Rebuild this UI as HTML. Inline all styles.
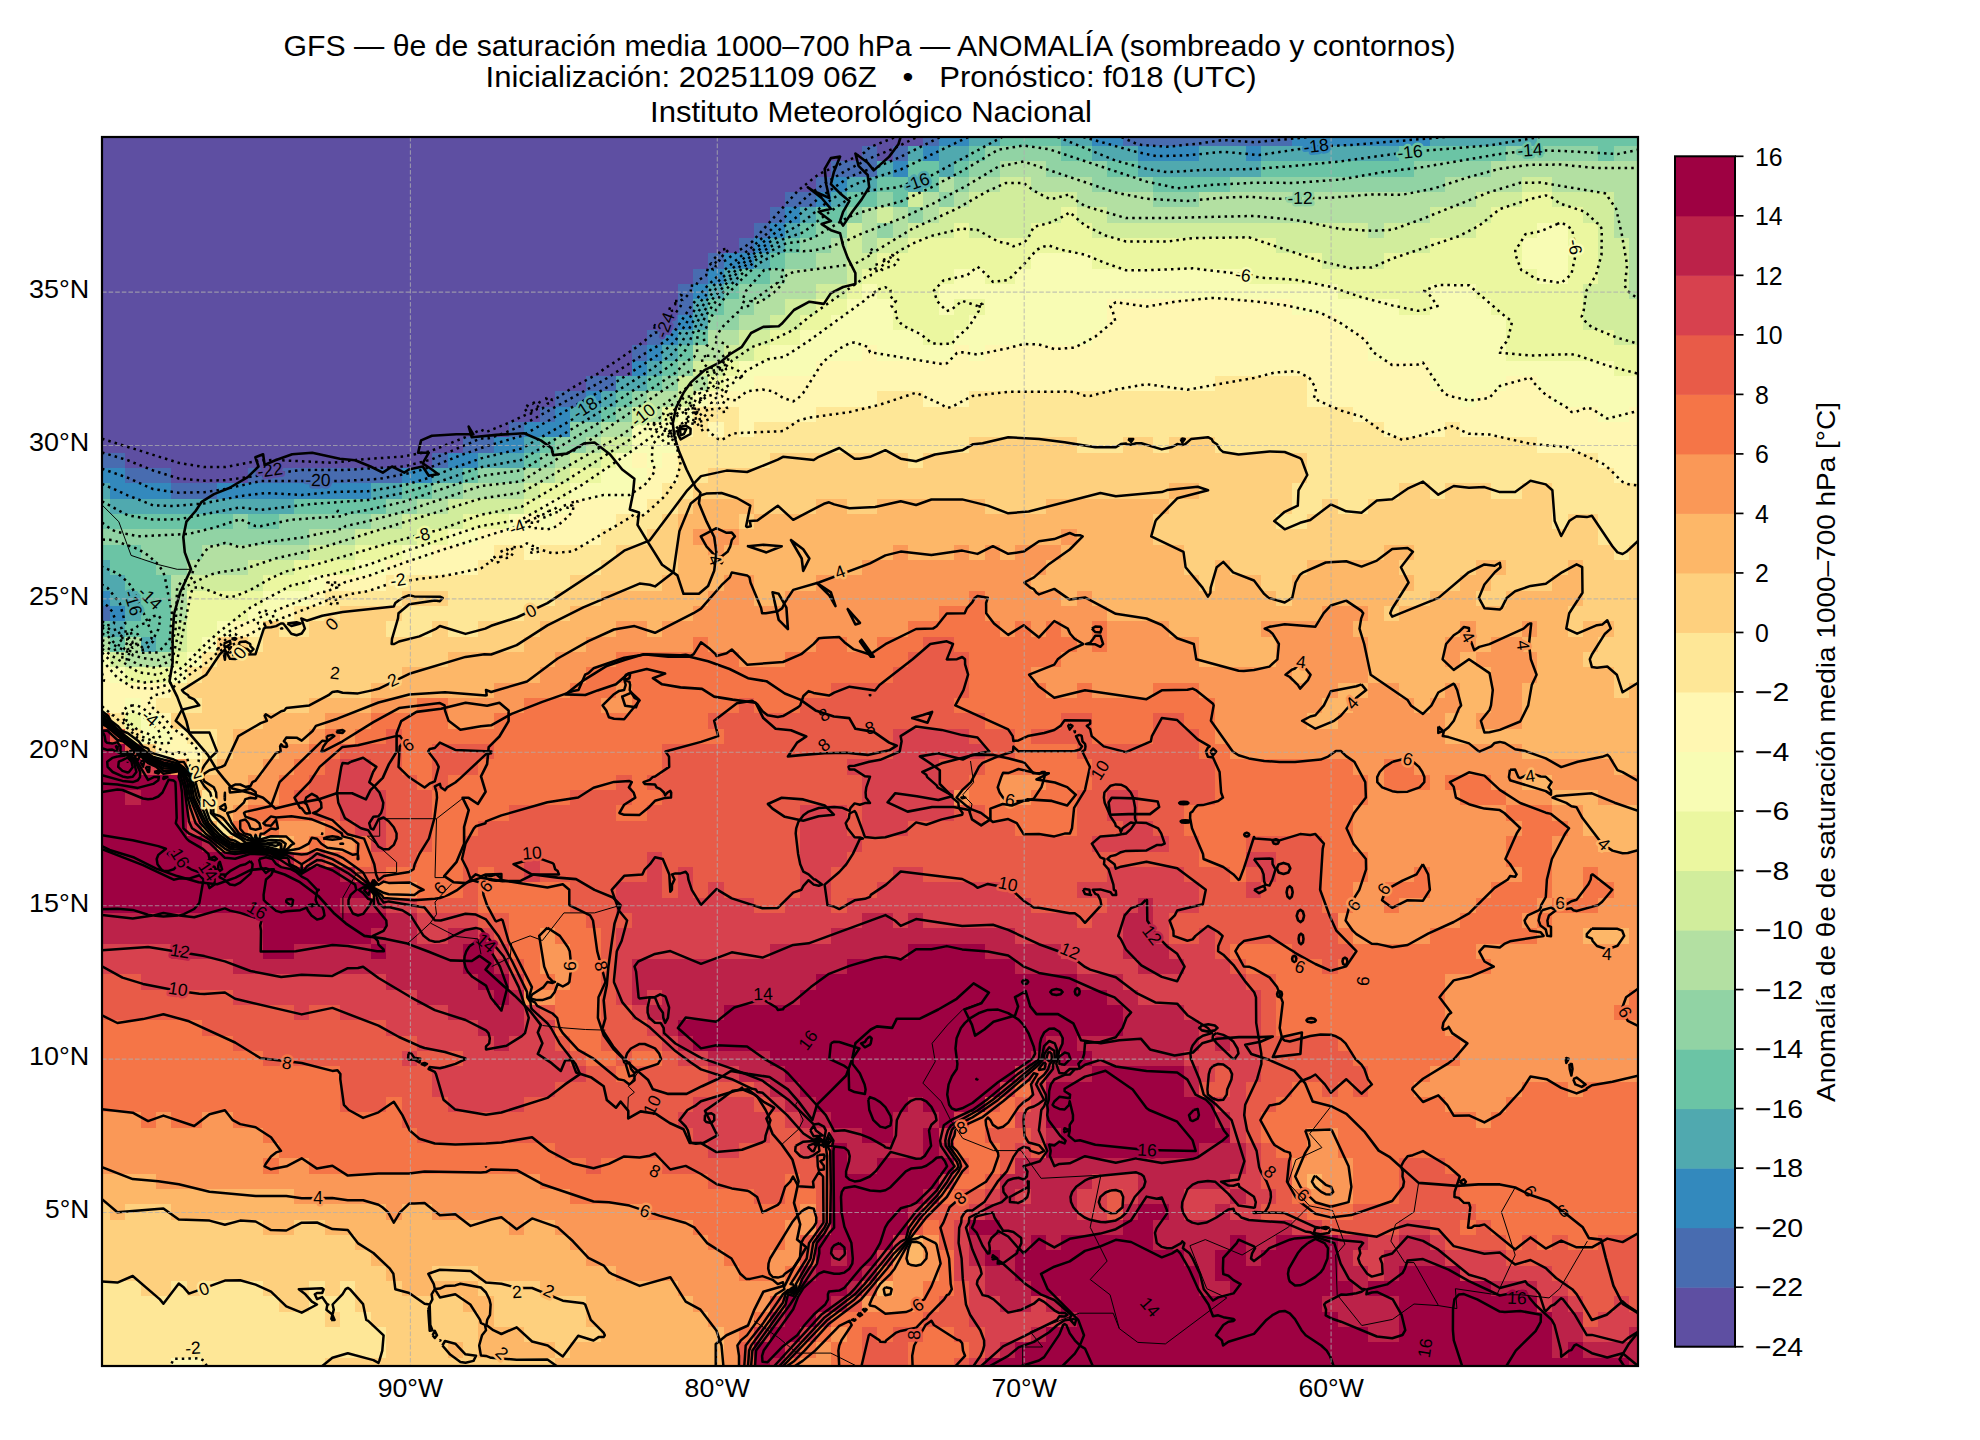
<!DOCTYPE html>
<html><head><meta charset="utf-8"><title>GFS</title>
<style>
html,body{margin:0;padding:0;background:#fff;}
body{width:1980px;height:1440px;overflow:hidden;font-family:"Liberation Sans",sans-serif;}
svg{display:block;}
text{font-family:"Liberation Sans",sans-serif;fill:#000;}
.p{stroke:#000;stroke-width:2.5;stroke-linejoin:round;}
.n{stroke:#000;stroke-width:2.5;stroke-linejoin:round;stroke-linecap:butt;stroke-dasharray:2.5 4.1;}
.grid line{stroke:#b0b0b0;stroke-width:1.1;stroke-dasharray:4.6 2;opacity:.72;}
.coast{fill:none;stroke:#000;stroke-width:2.6;stroke-linejoin:round;stroke-linecap:round;}
.bord{fill:none;stroke:#000;stroke-width:1;stroke-linejoin:round;}
.cl{font-size:17.5px;}
</style></head><body>
<svg width="1980" height="1440" viewBox="0 0 1980 1440">
<rect width="1980" height="1440" fill="#fff"/>
<rect x="102" y="137" width="1536" height="1229" fill="#5e4fa2"/>
<clipPath id="axclip"><rect x="102" y="137" width="1536" height="1229"/></clipPath>
<g shape-rendering="crispEdges">
<path fill="#486cb0" d="M923 137h16v9h-16zM1123 137h169v9h-169zM862 146h15v15h-15zM893 146h15v15h-15zM831 161h46v16h-46zM816 177h15v15h-15zM785 192h31v15h-31zM770 207h15v16h-15zM754 223h16v15h-16zM739 238h15v15h-15zM708 253h16v16h-16zM693 269h15v15h-15zM678 284h15v15h-15zM678 299h15v16h-15zM662 315h16v15h-16zM647 330h15v15h-15zM632 345h15v16h-15zM586 376h30v15h-30zM555 391h31v16h-31zM540 407h15v15h-15zM509 422h15v15h-15zM463 437h31v16h-31zM102 453h23v15h-23zM432 453h16v15h-16zM125 468h46v15h-46zM248 468h154v15h-154zM171 483h46v16h-46zM102 606h8v15h-8z"/>
<path fill="#3389bd" d="M939 137h30v9h-30zM1092 137h31v9h-31zM1292 137h138v9h-138zM923 146h16v15h-16zM1138 146h61v15h-61zM1246 146h15v15h-15zM893 161h15v16h-15zM831 177h16v15h-16zM816 192h15v15h-15zM785 207h15v16h-15zM770 223h15v15h-15zM754 238h16v15h-16zM724 253h30v16h-30zM708 269h16v15h-16zM693 284h15v15h-15zM678 315h15v15h-15zM662 330h16v15h-16zM647 345h15v16h-15zM632 361h15v15h-15zM586 391h15v16h-15zM555 407h15v15h-15zM524 422h46v15h-46zM494 437h30v16h-30zM448 453h30v15h-30zM102 468h23v15h-23zM402 468h30v15h-30zM110 483h61v16h-61zM217 483h154v16h-154zM102 591h8v15h-8zM110 606h15v15h-15z"/>
<path fill="#50a9af" d="M969 137h31v9h-31zM1061 137h31v9h-31zM1430 137h107v9h-107zM908 146h15v15h-15zM939 146h30v15h-30zM1092 146h46v15h-46zM1199 146h47v15h-47zM1261 146h138v15h-138zM877 161h16v16h-16zM939 161h15v16h-15zM1138 161h123v16h-123zM847 177h30v15h-30zM908 177h15v15h-15zM831 192h16v15h-16zM800 207h16v16h-16zM785 223h15v15h-15zM770 238h15v15h-15zM754 253h16v16h-16zM724 269h15v15h-15zM708 284h16v15h-16zM693 299h15v16h-15zM693 315h15v15h-15zM678 330h15v15h-15zM662 345h16v16h-16zM647 361h15v15h-15zM616 376h31v15h-31zM601 391h15v16h-15zM570 407h31v15h-31zM524 437h16v16h-16zM478 453h46v15h-46zM432 468h31v15h-31zM102 483h8v16h-8zM371 483h31v16h-31zM110 499h184v15h-184zM102 560h8v15h-8zM102 575h23v16h-23zM110 591h31v15h-31zM125 606h16v15h-16zM110 621h15v16h-15zM141 637h15v15h-15z"/>
<path fill="#6bc4a5" d="M1000 137h61v9h-61zM1537 137h101v9h-101zM969 146h16v15h-16zM1061 146h31v15h-31zM1399 146h107v15h-107zM1598 146h16v15h-16zM908 161h31v16h-31zM954 161h15v16h-15zM1107 161h31v16h-31zM1261 161h153v16h-153zM877 177h31v15h-31zM923 177h16v15h-16zM1153 177h77v15h-77zM847 192h30v15h-30zM893 192h15v15h-15zM816 207h31v16h-31zM800 223h16v15h-16zM785 238h15v15h-15zM770 253h15v16h-15zM739 269h31v15h-31zM724 284h15v15h-15zM708 299h16v16h-16zM693 330h15v15h-15zM678 345h15v16h-15zM662 361h16v15h-16zM647 376h15v15h-15zM616 391h16v16h-16zM601 407h15v15h-15zM540 437h15v16h-15zM524 453h16v15h-16zM463 468h15v15h-15zM402 483h30v16h-30zM102 499h8v15h-8zM294 499h92v15h-92zM102 514h131v15h-131zM248 514h31v15h-31zM102 545h39v15h-39zM110 560h46v15h-46zM125 575h46v16h-46zM141 591h30v15h-30zM141 606h30v15h-30zM102 621h8v16h-8zM125 621h46v16h-46zM110 637h15v15h-15zM156 637h15v15h-15z"/>
<path fill="#91d3a4" d="M985 146h76v15h-76zM1506 146h92v15h-92zM1614 146h24v15h-24zM969 161h31v16h-31zM1046 161h61v16h-61zM1414 161h77v16h-77zM954 177h15v15h-15zM1092 177h61v15h-61zM1230 177h215v15h-215zM877 192h16v15h-16zM939 192h15v15h-15zM1153 192h46v15h-46zM847 207h15v16h-15zM908 207h15v16h-15zM816 223h31v15h-31zM877 223h16v15h-16zM800 238h31v15h-31zM785 253h31v16h-31zM770 269h15v15h-15zM739 284h31v15h-31zM724 299h30v16h-30zM708 315h31v15h-31zM678 361h15v15h-15zM662 376h16v15h-16zM632 391h15v16h-15zM616 407h16v15h-16zM570 422h31v15h-31zM555 437h31v16h-31zM540 453h15v15h-15zM478 468h46v15h-46zM432 483h31v16h-31zM386 499h31v15h-31zM233 514h15v15h-15zM279 514h92v15h-92zM102 529h207v16h-207zM141 545h61v15h-61zM156 560h31v15h-31z"/>
<path fill="#b3e0a2" d="M1000 161h46v16h-46zM1491 161h147v16h-147zM939 177h15v15h-15zM969 177h31v15h-31zM1031 177h61v15h-61zM1445 177h77v15h-77zM1552 177h86v15h-86zM923 192h16v15h-16zM954 192h15v15h-15zM1077 192h76v15h-76zM1199 192h277v15h-277zM1614 192h24v15h-24zM862 207h15v16h-15zM893 207h15v16h-15zM923 207h16v16h-16zM1107 207h323v16h-323zM1614 207h24v16h-24zM862 223h15v15h-15zM893 223h15v15h-15zM1368 223h16v15h-16zM1614 223h24v15h-24zM831 238h16v15h-16zM862 238h15v15h-15zM1629 238h9v15h-9zM816 253h31v16h-31zM1629 253h9v16h-9zM785 269h62v15h-62zM1629 269h9v15h-9zM770 284h46v15h-46zM1629 284h9v15h-9zM754 299h31v16h-31zM739 315h31v15h-31zM708 330h31v15h-31zM693 345h31v16h-31zM693 376h15v15h-15zM647 391h31v16h-31zM647 407h15v15h-15zM601 422h31v15h-31zM586 437h15v16h-15zM555 453h15v15h-15zM524 468h31v15h-31zM463 483h61v16h-61zM417 499h31v15h-31zM371 514h31v15h-31zM309 529h46v16h-46zM202 545h107v15h-107zM187 560h61v15h-61zM171 575h16v16h-16zM171 591h16v15h-16zM171 606h16v15h-16zM102 637h8v15h-8zM125 637h16v15h-16zM125 652h46v15h-46z"/>
<path fill="#d1ed9c" d="M1000 177h31v15h-31zM1522 177h30v15h-30zM908 192h15v15h-15zM969 192h108v15h-108zM1476 192h46v15h-46zM1552 192h62v15h-62zM877 207h16v16h-16zM939 207h122v16h-122zM1077 207h30v16h-30zM1430 207h61v16h-61zM1583 207h31v16h-31zM847 223h15v15h-15zM908 223h46v15h-46zM969 223h62v15h-62zM1092 223h276v15h-276zM1384 223h92v15h-92zM1598 223h16v15h-16zM847 238h15v15h-15zM877 238h31v15h-31zM1276 238h154v15h-154zM1598 238h31v15h-31zM847 253h30v16h-30zM1322 253h62v16h-62zM1598 253h31v16h-31zM847 269h15v15h-15zM1598 269h31v15h-31zM816 284h31v15h-31zM1583 284h46v15h-46zM785 299h31v16h-31zM1583 299h55v16h-55zM770 315h30v15h-30zM1583 315h55v15h-55zM739 330h31v15h-31zM1614 330h24v15h-24zM724 345h30v16h-30zM693 361h31v15h-31zM678 376h15v15h-15zM678 391h15v16h-15zM632 407h15v15h-15zM601 437h31v16h-31zM570 453h31v15h-31zM555 468h15v15h-15zM524 483h16v16h-16zM448 499h76v15h-76zM402 514h61v15h-61zM355 529h62v16h-62zM309 545h46v15h-46zM248 560h46v15h-46zM187 575h76v16h-76zM171 621h16v16h-16zM171 637h16v15h-16zM110 652h15v15h-15z"/>
<path fill="#ebf7a0" d="M1522 192h30v15h-30zM1061 207h16v16h-16zM1491 207h92v16h-92zM954 223h15v15h-15zM1031 223h61v15h-61zM1476 223h61v15h-61zM1568 223h30v15h-30zM908 238h368v15h-368zM1430 238h92v15h-92zM1568 238h30v15h-30zM877 253h154v16h-154zM1092 253h230v16h-230zM1384 253h138v16h-138zM1568 253h30v16h-30zM862 269h92v15h-92zM985 269h30v15h-30zM1246 269h291v15h-291zM1568 269h30v15h-30zM847 284h15v15h-15zM877 284h62v15h-62zM1338 284h92v15h-92zM1476 284h107v15h-107zM816 299h31v16h-31zM893 299h46v16h-46zM954 299h31v16h-31zM1399 299h31v16h-31zM1491 299h92v16h-92zM800 315h31v15h-31zM893 315h76v15h-76zM1506 315h77v15h-77zM770 330h30v15h-30zM923 330h31v15h-31zM1506 330h108v15h-108zM754 345h16v16h-16zM1506 345h132v16h-132zM724 361h15v15h-15zM1614 361h24v15h-24zM708 376h16v15h-16zM662 407h16v15h-16zM601 453h15v15h-15zM570 468h31v15h-31zM540 483h30v16h-30zM524 499h16v15h-16zM463 514h46v15h-46zM417 529h31v16h-31zM355 545h47v15h-47zM294 560h61v15h-61zM263 575h46v16h-46zM187 591h76v15h-76zM187 606h61v15h-61zM187 621h30v16h-30zM187 637h15v15h-15zM171 652h16v15h-16zM125 667h46v16h-46zM125 713h16v16h-16z"/>
<path fill="#f8fcb4" d="M1537 223h31v15h-31zM1522 238h46v15h-46zM1031 253h61v16h-61zM1522 253h46v16h-46zM954 269h31v15h-31zM1015 269h231v15h-231zM1537 269h31v15h-31zM862 284h15v15h-15zM939 284h399v15h-399zM1430 284h46v15h-46zM847 299h46v16h-46zM939 299h15v16h-15zM985 299h122v16h-122zM1292 299h107v16h-107zM1430 299h61v16h-61zM831 315h62v15h-62zM969 315h138v15h-138zM1338 315h168v15h-168zM800 330h123v15h-123zM954 330h138v15h-138zM1368 330h138v15h-138zM770 345h92v16h-92zM877 345h77v16h-77zM969 345h16v16h-16zM1368 345h138v16h-138zM739 361h77v15h-77zM1430 361h184v15h-184zM724 376h30v15h-30zM1430 376h76v15h-76zM1537 376h101v15h-101zM693 391h15v16h-15zM1460 391h16v16h-16zM1552 391h86v16h-86zM678 407h15v15h-15zM1598 407h31v15h-31zM632 422h46v15h-46zM632 437h46v16h-46zM616 453h16v15h-16zM647 453h15v15h-15zM601 468h46v15h-46zM570 483h62v16h-62zM540 499h30v15h-30zM509 514h15v15h-15zM540 514h15v15h-15zM448 529h30v16h-30zM402 545h30v15h-30zM355 560h31v15h-31zM309 575h16v16h-16zM263 591h46v15h-46zM248 606h31v15h-31zM217 621h16v16h-16zM202 637h15v15h-15zM102 652h8v15h-8zM187 652h15v15h-15zM110 667h15v16h-15zM171 667h16v16h-16zM125 698h16v15h-16zM141 713h15v16h-15zM141 729h30v15h-30z"/>
<path fill="#fff7b2" d="M1107 299h185v16h-185zM1107 315h231v15h-231zM1092 330h276v15h-276zM862 345h15v16h-15zM954 345h15v16h-15zM985 345h383v16h-383zM816 361h614v15h-614zM754 376h461v15h-461zM1307 376h123v15h-123zM1506 376h31v15h-31zM708 391h169v16h-169zM923 391h46v16h-46zM1307 391h153v16h-153zM1476 391h76v16h-76zM739 407h77v15h-77zM1353 407h245v15h-245zM1629 407h9v15h-9zM678 422h15v15h-15zM708 422h16v15h-16zM739 422h15v15h-15zM1384 422h61v15h-61zM1460 422h178v15h-178zM1537 437h101v16h-101zM632 453h15v15h-15zM662 453h16v15h-16zM1598 453h40v15h-40zM647 468h31v15h-31zM1614 468h24v15h-24zM632 483h30v16h-30zM570 499h77v15h-77zM524 514h16v15h-16zM555 514h61v15h-61zM478 529h123v16h-123zM432 545h62v15h-62zM524 545h16v15h-16zM386 560h92v15h-92zM325 575h61v16h-61zM309 591h16v15h-16zM279 606h15v15h-15zM233 621h30v16h-30zM102 667h8v16h-8zM102 683h69v15h-69zM102 698h23v15h-23zM141 698h15v15h-15zM156 713h15v16h-15zM171 729h16v15h-16zM156 744h46v15h-46zM171 1358h31v8h-31z"/>
<path fill="#fee797" d="M1215 376h92v15h-92zM877 391h46v16h-46zM969 391h338v16h-338zM693 407h46v15h-46zM816 407h537v15h-537zM693 422h15v15h-15zM724 422h15v15h-15zM754 422h630v15h-630zM1445 422h15v15h-15zM678 437h291v16h-291zM1077 437h46v16h-46zM1153 437h16v16h-16zM1215 437h322v16h-322zM678 453h92v15h-92zM908 453h15v15h-15zM1307 453h291v15h-291zM678 468h30v15h-30zM1307 468h307v15h-307zM662 483h31v16h-31zM1292 483h107v16h-107zM1430 483h15v16h-15zM1491 483h31v16h-31zM1552 483h86v16h-86zM647 499h31v15h-31zM1292 499h30v15h-30zM1338 499h30v15h-30zM1552 499h86v15h-86zM616 514h46v15h-46zM1276 514h31v15h-31zM1552 514h16v15h-16zM1598 514h40v15h-40zM601 529h46v16h-46zM1598 529h40v16h-40zM494 545h30v15h-30zM540 545h76v15h-76zM1614 545h15v15h-15zM478 560h123v15h-123zM386 575h184v16h-184zM325 591h77v15h-77zM448 591h107v15h-107zM294 606h46v15h-46zM402 606h122v15h-122zM279 621h30v16h-30zM386 621h46v16h-46zM448 621h30v16h-30zM248 637h15v15h-15zM202 652h15v15h-15zM187 667h15v16h-15zM171 683h16v15h-16zM156 698h46v15h-46zM110 713h15v16h-15zM125 729h16v15h-16zM187 729h30v15h-30zM202 744h15v15h-15zM187 759h15v16h-15zM202 790h15v15h-15zM202 805h15v16h-15zM217 821h16v15h-16zM248 836h31v16h-31zM102 1281h39v15h-39zM171 1281h16v15h-16zM202 1281h61v15h-61zM309 1281h16v15h-16zM340 1281h15v15h-15zM102 1296h177v16h-177zM309 1296h46v16h-46zM102 1312h223v15h-223zM340 1312h31v15h-31zM102 1327h284v15h-284zM102 1342h284v16h-284zM102 1358h69v8h-69zM202 1358h123v8h-123z"/>
<path fill="#fed07e" d="M969 437h108v16h-108zM1123 437h30v16h-30zM1169 437h46v16h-46zM770 453h138v15h-138zM923 453h384v15h-384zM708 468h599v15h-599zM693 483h476v16h-476zM1199 483h93v16h-93zM1399 483h31v16h-31zM1445 483h46v16h-46zM1522 483h30v16h-30zM678 499h15v15h-15zM754 499h62v15h-62zM847 499h30v15h-30zM985 499h61v15h-61zM1169 499h123v15h-123zM1322 499h16v15h-16zM1368 499h184v15h-184zM662 514h16v15h-16zM739 514h15v15h-15zM1153 514h123v15h-123zM1307 514h245v15h-245zM1568 514h30v15h-30zM647 529h31v16h-31zM1153 529h445v16h-445zM616 545h62v15h-62zM1184 545h200v15h-200zM1414 545h200v15h-200zM1629 545h9v15h-9zM601 560h77v15h-77zM1184 560h31v15h-31zM1230 560h77v15h-77zM1399 560h77v15h-77zM1506 560h62v15h-62zM1583 560h55v15h-55zM570 575h92v16h-92zM1199 575h16v16h-16zM1261 575h31v16h-31zM1414 575h46v16h-46zM1491 575h61v16h-61zM1583 575h55v16h-55zM402 591h46v15h-46zM555 591h46v15h-46zM1276 591h16v15h-16zM1399 591h31v15h-31zM1476 591h30v15h-30zM1583 591h55v15h-55zM340 606h62v15h-62zM524 606h46v15h-46zM1384 606h15v15h-15zM1568 606h70v15h-70zM263 621h16v16h-16zM309 621h77v16h-77zM432 621h16v16h-16zM478 621h62v16h-62zM1568 621h15v16h-15zM1614 621h24v16h-24zM217 637h31v15h-31zM263 637h261v15h-261zM1598 637h40v15h-40zM217 652h231v15h-231zM1583 652h55v15h-55zM202 667h200v16h-200zM1614 667h24v16h-24zM187 683h184v15h-184zM1614 683h15v15h-15zM202 698h107v15h-107zM171 713h92v16h-92zM217 729h16v15h-16zM141 744h15v15h-15zM217 744h16v15h-16zM202 759h15v16h-15zM187 775h15v15h-15zM233 836h15v16h-15zM102 1204h8v16h-8zM125 1204h46v16h-46zM102 1220h161v15h-161zM294 1220h31v15h-31zM102 1235h253v15h-253zM102 1250h269v16h-269zM102 1266h284v15h-284zM432 1266h46v15h-46zM141 1281h30v15h-30zM187 1281h15v15h-15zM263 1281h46v15h-46zM325 1281h15v15h-15zM355 1281h47v15h-47zM478 1281h62v15h-62zM279 1296h30v16h-30zM355 1296h108v16h-108zM494 1296h92v16h-92zM325 1312h15v15h-15zM371 1312h107v15h-107zM494 1312h92v15h-92zM386 1327h92v15h-92zM524 1327h77v15h-77zM386 1342h62v16h-62zM463 1342h15v16h-15zM555 1342h15v16h-15zM325 1358h230v8h-230z"/>
<path fill="#fdb768" d="M1169 483h30v16h-30zM693 499h61v15h-61zM816 499h31v15h-31zM877 499h108v15h-108zM1046 499h123v15h-123zM678 514h61v15h-61zM754 514h399v15h-399zM678 529h15v16h-15zM739 529h322v16h-322zM1077 529h76v16h-76zM678 545h30v15h-30zM724 545h169v15h-169zM908 545h46v15h-46zM969 545h16v15h-16zM1000 545h15v15h-15zM1061 545h123v15h-123zM1384 545h30v15h-30zM678 560h184v15h-184zM1046 560h138v15h-138zM1215 560h15v15h-15zM1307 560h92v15h-92zM1476 560h30v15h-30zM1568 560h15v15h-15zM662 575h62v16h-62zM754 575h62v16h-62zM1031 575h168v16h-168zM1215 575h46v16h-46zM1292 575h122v16h-122zM1460 575h31v16h-31zM1552 575h31v16h-31zM601 591h107v15h-107zM754 591h31v15h-31zM1061 591h16v15h-16zM1092 591h184v15h-184zM1292 591h107v15h-107zM1430 591h46v15h-46zM1506 591h77v15h-77zM570 606h123v15h-123zM1107 606h215v15h-215zM1368 606h16v15h-16zM1399 606h169v15h-169zM540 621h76v16h-76zM647 621h15v16h-15zM1169 621h92v16h-92zM1353 621h107v16h-107zM1476 621h46v16h-46zM1537 621h31v16h-31zM1583 621h31v16h-31zM524 637h62v15h-62zM1199 637h77v15h-77zM1368 637h77v15h-77zM1476 637h15v15h-15zM1522 637h76v15h-76zM448 652h107v15h-107zM1199 652h77v15h-77zM1368 652h77v15h-77zM1460 652h16v15h-16zM1537 652h46v15h-46zM402 667h138v16h-138zM1292 667h15v16h-15zM1368 667h123v16h-123zM1537 667h77v16h-77zM371 683h123v15h-123zM1338 683h30v15h-30zM1399 683h46v15h-46zM1460 683h31v15h-31zM1522 683h92v15h-92zM1629 683h9v15h-9zM309 698h62v15h-62zM1322 698h31v15h-31zM1414 698h16v15h-16zM1460 698h31v15h-31zM1522 698h116v15h-116zM263 713h62v16h-62zM1307 713h31v16h-31zM1445 713h31v16h-31zM1522 713h116v16h-116zM233 729h76v15h-76zM1445 729h193v15h-193zM233 744h46v15h-46zM1522 744h116v15h-116zM217 759h46v16h-46zM1614 759h24v16h-24zM202 775h46v15h-46zM1522 775h30v15h-30zM187 790h15v15h-15zM217 790h31v15h-31zM1552 790h46v15h-46zM217 805h16v16h-16zM1583 805h55v16h-55zM202 821h15v15h-15zM1583 821h55v15h-55zM279 836h15v16h-15zM1598 836h40v16h-40zM1583 928h46v16h-46zM102 1174h54v15h-54zM1307 1174h15v15h-15zM102 1189h192v15h-192zM110 1204h15v16h-15zM171 1204h215v16h-215zM402 1204h30v16h-30zM263 1220h31v15h-31zM325 1220h184v15h-184zM524 1220h31v15h-31zM355 1235h215v15h-215zM908 1235h15v15h-15zM371 1250h215v16h-215zM908 1250h15v16h-15zM386 1266h46v15h-46zM478 1266h138v15h-138zM402 1281h76v15h-76zM540 1281h138v15h-138zM877 1281h16v15h-16zM463 1296h31v16h-31zM586 1296h107v16h-107zM478 1312h16v15h-16zM586 1312h122v15h-122zM478 1327h46v15h-46zM601 1327h123v15h-123zM448 1342h15v16h-15zM478 1342h77v16h-77zM570 1342h154v16h-154zM555 1358h169v8h-169z"/>
<path fill="#fa9857" d="M693 529h46v16h-46zM1061 529h16v16h-16zM708 545h16v15h-16zM893 545h15v15h-15zM954 545h15v15h-15zM985 545h15v15h-15zM1015 545h46v15h-46zM862 560h184v15h-184zM724 575h30v16h-30zM816 575h215v16h-215zM708 591h46v15h-46zM785 591h184v15h-184zM985 591h76v15h-76zM1077 591h15v15h-15zM693 606h246v15h-246zM985 606h122v15h-122zM1322 606h46v15h-46zM616 621h31v16h-31zM662 621h246v16h-246zM1000 621h15v16h-15zM1031 621h15v16h-15zM1061 621h31v16h-31zM1107 621h62v16h-62zM1261 621h92v16h-92zM1460 621h16v16h-16zM1522 621h15v16h-15zM586 637h107v15h-107zM708 637h108v15h-108zM847 637h30v15h-30zM1077 637h15v15h-15zM1107 637h92v15h-92zM1276 637h92v15h-92zM1445 637h31v15h-31zM1491 637h31v15h-31zM555 652h61v15h-61zM739 652h46v15h-46zM1061 652h138v15h-138zM1276 652h92v15h-92zM1445 652h15v15h-15zM1476 652h61v15h-61zM540 667h46v16h-46zM1031 667h261v16h-261zM1307 667h61v16h-61zM1491 667h46v16h-46zM494 683h76v15h-76zM616 683h16v15h-16zM1046 683h31v15h-31zM1092 683h61v15h-61zM1199 683h139v15h-139zM1368 683h31v15h-31zM1445 683h15v15h-15zM1491 683h31v15h-31zM371 698h46v15h-46zM448 698h76v15h-76zM601 698h31v15h-31zM1215 698h107v15h-107zM1353 698h61v15h-61zM1430 698h30v15h-30zM1491 698h31v15h-31zM325 713h46v16h-46zM448 713h46v16h-46zM1215 713h92v16h-92zM1338 713h107v16h-107zM1476 713h46v16h-46zM309 729h16v15h-16zM340 729h15v15h-15zM1215 729h230v15h-230zM279 744h30v15h-30zM1230 744h292v15h-292zM171 759h16v16h-16zM263 759h31v16h-31zM1353 759h31v16h-31zM1414 759h200v16h-200zM248 775h31v15h-31zM1000 775h46v15h-46zM1368 775h16v15h-16zM1430 775h15v15h-15zM1491 775h31v15h-31zM1552 775h86v15h-86zM248 790h31v15h-31zM954 790h15v15h-15zM1000 790h31v15h-31zM1368 790h92v15h-92zM1506 790h46v15h-46zM1598 790h40v15h-40zM233 805h15v16h-15zM1353 805h153v16h-153zM1552 805h31v16h-31zM248 821h15v15h-15zM279 821h46v15h-46zM1353 821h169v15h-169zM1568 821h15v15h-15zM217 836h16v16h-16zM294 836h15v16h-15zM325 836h30v16h-30zM1353 836h153v16h-153zM1552 836h46v16h-46zM1368 852h138v15h-138zM1552 852h86v15h-86zM1368 867h46v15h-46zM1430 867h92v15h-92zM1552 867h31v15h-31zM1598 867h40v15h-40zM371 882h46v16h-46zM1353 882h31v16h-31zM1430 882h61v16h-61zM1552 882h31v16h-31zM1614 882h24v16h-24zM1353 898h31v15h-31zM1399 898h77v15h-77zM1537 898h15v15h-15zM1598 898h40v15h-40zM1338 913h122v15h-122zM1522 913h15v15h-15zM1552 913h86v15h-86zM540 928h15v16h-15zM1353 928h77v16h-77zM1537 928h46v16h-46zM1629 928h9v16h-9zM540 944h30v15h-30zM1476 944h162v15h-162zM540 959h30v15h-30zM1491 959h147v15h-147zM555 974h15v16h-15zM1445 974h193v16h-193zM524 990h31v15h-31zM1445 990h184v15h-184zM1445 1005h169v15h-169zM1445 1020h193v16h-193zM1460 1036h178v15h-178zM1460 1051h178v15h-178zM1430 1066h208v16h-208zM1414 1082h108v15h-108zM1568 1082h15v15h-15zM1445 1097h61v15h-61zM102 1112h39v16h-39zM156 1112h15v16h-15zM202 1112h31v16h-31zM1476 1112h15v16h-15zM102 1128h161v15h-161zM1307 1128h31v15h-31zM102 1143h177v15h-177zM1307 1143h31v15h-31zM102 1158h161v16h-161zM279 1158h30v16h-30zM1292 1158h61v16h-61zM156 1174h384v15h-384zM1292 1174h15v15h-15zM1322 1174h31v15h-31zM294 1189h276v15h-276zM1307 1189h46v15h-46zM386 1204h16v16h-16zM432 1204h215v16h-215zM800 1204h16v16h-16zM509 1220h15v15h-15zM555 1220h138v15h-138zM785 1220h31v15h-31zM570 1235h138v15h-138zM785 1235h15v15h-15zM923 1235h16v15h-16zM586 1250h138v16h-138zM770 1250h30v16h-30zM893 1250h15v16h-15zM923 1250h16v16h-16zM616 1266h123v15h-123zM770 1266h15v15h-15zM893 1266h46v15h-46zM678 1281h122v15h-122zM893 1281h30v15h-30zM693 1296h77v16h-77zM862 1296h61v16h-61zM708 1312h46v15h-46zM724 1327h15v15h-15zM831 1327h16v15h-16zM724 1342h15v16h-15zM816 1342h15v16h-15zM724 1358h15v8h-15zM800 1358h31v8h-31z"/>
<path fill="#f57547" d="M969 591h16v15h-16zM939 606h46v15h-46zM908 621h92v16h-92zM1015 621h16v16h-16zM1046 621h15v16h-15zM1092 621h15v16h-15zM693 637h15v15h-15zM816 637h31v15h-31zM877 637h46v15h-46zM954 637h123v15h-123zM1092 637h15v15h-15zM616 652h123v15h-123zM785 652h123v15h-123zM969 652h92v15h-92zM586 667h307v16h-307zM969 667h62v16h-62zM570 683h46v15h-46zM632 683h199v15h-199zM969 683h77v15h-77zM1077 683h15v15h-15zM1153 683h46v15h-46zM417 698h31v15h-31zM524 698h77v15h-77zM632 698h107v15h-107zM754 698h46v15h-46zM954 698h261v15h-261zM102 713h8v16h-8zM371 713h77v16h-77zM494 713h214v16h-214zM985 713h76v16h-76zM1092 713h61v16h-61zM1184 713h31v16h-31zM325 729h15v15h-15zM355 729h31v15h-31zM402 729h322v15h-322zM1015 729h16v15h-16zM1092 729h61v15h-61zM1199 729h16v15h-16zM309 744h31v15h-31zM402 744h30v15h-30zM494 744h168v15h-168zM1015 744h62v15h-62zM1199 744h31v15h-31zM294 759h31v16h-31zM402 759h30v16h-30zM478 759h184v16h-184zM985 759h107v16h-107zM1215 759h138v16h-138zM1384 759h30v16h-30zM279 775h30v15h-30zM417 775h15v15h-15zM448 775h168v15h-168zM632 775h15v15h-15zM969 775h31v15h-31zM1046 775h46v15h-46zM1215 775h153v15h-153zM1384 775h46v15h-46zM1445 775h46v15h-46zM279 790h15v15h-15zM432 790h138v15h-138zM632 790h30v15h-30zM969 790h31v15h-31zM1031 790h46v15h-46zM1215 790h153v15h-153zM1460 790h46v15h-46zM248 805h61v16h-61zM432 805h77v16h-77zM616 805h31v16h-31zM985 805h92v16h-92zM1184 805h169v16h-169zM1506 805h46v16h-46zM233 821h15v15h-15zM263 821h16v15h-16zM325 821h15v15h-15zM432 821h46v15h-46zM1015 821h62v15h-62zM1184 821h169v15h-169zM1522 821h46v15h-46zM309 836h16v16h-16zM355 836h16v16h-16zM432 836h31v16h-31zM1199 836h47v16h-47zM1322 836h31v16h-31zM1506 836h46v16h-46zM340 852h31v15h-31zM417 852h46v15h-46zM1199 852h47v15h-47zM1322 852h46v15h-46zM1506 852h46v15h-46zM386 867h77v15h-77zM478 867h16v15h-16zM1230 867h16v15h-16zM1322 867h46v15h-46zM1414 867h16v15h-16zM1522 867h30v15h-30zM1583 867h15v15h-15zM417 882h46v16h-46zM478 882h92v16h-92zM1322 882h31v16h-31zM1384 882h46v16h-46zM1491 882h61v16h-61zM1583 882h31v16h-31zM478 898h92v15h-92zM1322 898h31v15h-31zM1384 898h15v15h-15zM1476 898h61v15h-61zM1552 898h46v15h-46zM509 913h77v15h-77zM1460 913h62v15h-62zM1537 913h15v15h-15zM509 928h31v16h-31zM555 928h46v16h-46zM1338 928h15v16h-15zM1430 928h107v16h-107zM509 944h31v15h-31zM570 944h31v15h-31zM1230 944h62v15h-62zM1353 944h123v15h-123zM524 959h16v15h-16zM570 959h31v15h-31zM1246 959h76v15h-76zM1338 959h153v15h-153zM524 974h31v16h-31zM570 974h31v16h-31zM1276 974h169v16h-169zM555 990h46v15h-46zM1276 990h169v15h-169zM1629 990h9v15h-9zM555 1005h46v15h-46zM1276 1005h169v15h-169zM1614 1005h24v15h-24zM102 1020h100v16h-100zM555 1020h46v16h-46zM1276 1020h169v16h-169zM102 1036h131v15h-131zM570 1036h31v15h-31zM1338 1036h122v15h-122zM102 1051h161v15h-161zM586 1051h30v15h-30zM632 1051h30v15h-30zM1353 1051h107v15h-107zM102 1066h238v16h-238zM616 1066h16v16h-16zM1368 1066h62v16h-62zM102 1082h238v15h-238zM1015 1082h16v15h-16zM1292 1082h30v15h-30zM1338 1082h15v15h-15zM1368 1082h46v15h-46zM1522 1082h46v15h-46zM1583 1082h55v15h-55zM102 1097h238v15h-238zM386 1097h16v15h-16zM1000 1097h15v15h-15zM1276 1097h169v15h-169zM1506 1097h132v15h-132zM141 1112h15v16h-15zM171 1112h31v16h-31zM233 1112h169v16h-169zM969 1112h46v16h-46zM1261 1112h215v16h-215zM1491 1112h147v16h-147zM263 1128h154v15h-154zM954 1128h31v15h-31zM1261 1128h46v15h-46zM1338 1128h300v15h-300zM279 1143h276v15h-276zM954 1143h46v15h-46zM1276 1143h31v15h-31zM1338 1143h300v15h-300zM263 1158h16v16h-16zM309 1158h277v16h-277zM601 1158h61v16h-61zM969 1158h31v16h-31zM1353 1158h46v16h-46zM1445 1158h193v16h-193zM540 1174h168v15h-168zM785 1174h15v15h-15zM954 1174h31v15h-31zM1353 1174h46v15h-46zM1460 1174h178v15h-178zM570 1189h184v15h-184zM785 1189h31v15h-31zM939 1189h15v15h-15zM1292 1189h15v15h-15zM1353 1189h46v15h-46zM1460 1189h178v15h-178zM647 1204h153v16h-153zM1307 1204h46v16h-46zM1476 1204h162v16h-162zM693 1220h92v15h-92zM923 1220h16v15h-16zM1460 1220h16v15h-16zM1491 1220h147v15h-147zM708 1235h77v15h-77zM1506 1235h16v15h-16zM1537 1235h15v15h-15zM1568 1235h30v15h-30zM724 1250h46v16h-46zM939 1250h15v16h-15zM739 1266h31v15h-31zM785 1266h15v15h-15zM877 1266h16v15h-16zM939 1266h15v15h-15zM923 1281h31v15h-31zM923 1296h16v16h-16zM754 1312h16v15h-16zM831 1312h92v15h-92zM739 1327h15v15h-15zM816 1327h15v15h-15zM847 1327h15v15h-15zM877 1327h16v15h-16zM923 1327h31v15h-31zM800 1342h16v16h-16zM831 1342h31v16h-31zM908 1342h61v16h-61zM785 1358h15v8h-15zM831 1358h31v8h-31zM908 1358h46v8h-46z"/>
<path fill="#e85b48" d="M923 637h31v15h-31zM908 652h61v15h-61zM893 667h76v16h-76zM831 683h138v15h-138zM739 698h15v15h-15zM800 698h154v15h-154zM708 713h277v16h-277zM1061 713h31v16h-31zM1153 713h31v16h-31zM110 729h15v15h-15zM386 729h16v15h-16zM724 729h169v15h-169zM969 729h46v15h-46zM1031 729h61v15h-61zM1153 729h46v15h-46zM125 744h16v15h-16zM340 744h62v15h-62zM432 744h62v15h-62zM662 744h231v15h-231zM985 744h30v15h-30zM1077 744h122v15h-122zM156 759h15v16h-15zM325 759h15v16h-15zM371 759h31v16h-31zM432 759h46v16h-46zM662 759h185v16h-185zM939 759h46v16h-46zM1092 759h123v16h-123zM309 775h31v15h-31zM371 775h46v15h-46zM432 775h16v15h-16zM616 775h16v15h-16zM647 775h215v15h-215zM939 775h30v15h-30zM1092 775h123v15h-123zM294 790h46v15h-46zM386 790h46v15h-46zM570 790h62v15h-62zM662 790h200v15h-200zM1077 790h30v15h-30zM1138 790h77v15h-77zM187 805h15v16h-15zM309 805h31v16h-31zM386 805h46v16h-46zM509 805h107v16h-107zM647 805h153v16h-153zM847 805h15v16h-15zM954 805h31v16h-31zM1077 805h30v16h-30zM1138 805h46v16h-46zM340 821h15v15h-15zM386 821h46v15h-46zM478 821h322v15h-322zM847 821h15v15h-15zM908 821h107v15h-107zM1077 821h46v15h-46zM1153 821h31v15h-31zM386 836h46v16h-46zM463 836h337v16h-337zM862 836h230v16h-230zM1169 836h30v16h-30zM1246 836h76v16h-76zM294 852h15v15h-15zM325 852h15v15h-15zM371 852h46v15h-46zM463 852h61v15h-61zM540 852h107v15h-107zM662 852h138v15h-138zM847 852h352v15h-352zM1276 852h46v15h-46zM355 867h31v15h-31zM463 867h15v15h-15zM494 867h30v15h-30zM540 867h107v15h-107zM662 867h16v15h-16zM693 867h107v15h-107zM831 867h62v15h-62zM923 867h184v15h-184zM1184 867h46v15h-46zM1246 867h15v15h-15zM1276 867h46v15h-46zM463 882h15v16h-15zM570 882h46v16h-46zM662 882h16v16h-16zM693 882h15v16h-15zM724 882h76v16h-76zM831 882h46v16h-46zM1015 882h62v16h-62zM1199 882h47v16h-47zM1261 882h61v16h-61zM417 898h61v15h-61zM570 898h46v15h-46zM754 898h31v15h-31zM831 898h16v15h-16zM1031 898h76v15h-76zM1199 898h123v15h-123zM478 913h31v15h-31zM586 913h46v15h-46zM1077 913h15v15h-15zM1169 913h169v15h-169zM494 928h15v16h-15zM601 928h15v16h-15zM1169 928h30v16h-30zM1215 928h123v16h-123zM601 944h15v15h-15zM1215 944h15v15h-15zM1292 944h61v15h-61zM509 959h15v15h-15zM601 959h15v15h-15zM1230 959h16v15h-16zM1322 959h16v15h-16zM102 974h39v16h-39zM601 974h15v16h-15zM1246 974h30v16h-30zM102 990h131v15h-131zM601 990h15v15h-15zM1261 990h15v15h-15zM102 1005h192v15h-192zM309 1005h31v15h-31zM540 1005h15v15h-15zM601 1005h31v15h-31zM1261 1005h15v15h-15zM202 1020h184v16h-184zM601 1020h46v16h-46zM1261 1020h15v16h-15zM233 1036h184v15h-184zM555 1036h15v15h-15zM601 1036h61v15h-61zM1261 1036h77v15h-77zM263 1051h139v15h-139zM417 1051h46v15h-46zM570 1051h16v15h-16zM616 1051h16v15h-16zM662 1051h16v15h-16zM1261 1051h92v15h-92zM340 1066h92v16h-92zM586 1066h30v16h-30zM632 1066h76v16h-76zM1031 1066h15v16h-15zM1215 1066h15v16h-15zM1261 1066h107v16h-107zM340 1082h92v15h-92zM555 1082h199v15h-199zM1199 1082h31v15h-31zM1246 1082h46v15h-46zM1322 1082h16v15h-16zM1353 1082h15v15h-15zM340 1097h46v15h-46zM402 1097h46v15h-46zM524 1097h169v15h-169zM754 1097h16v15h-16zM985 1097h15v15h-15zM1015 1097h16v15h-16zM1246 1097h30v15h-30zM402 1112h276v16h-276zM770 1112h15v16h-15zM1246 1112h15v16h-15zM417 1128h276v15h-276zM770 1128h30v15h-30zM985 1128h46v15h-46zM1246 1128h15v15h-15zM555 1143h153v15h-153zM739 1143h61v15h-61zM816 1143h15v15h-15zM1000 1143h15v15h-15zM1031 1143h15v15h-15zM1261 1143h15v15h-15zM586 1158h15v16h-15zM662 1158h169v16h-169zM954 1158h15v16h-15zM1000 1158h15v16h-15zM1261 1158h31v16h-31zM1399 1158h46v16h-46zM708 1174h77v15h-77zM800 1174h31v15h-31zM985 1174h15v15h-15zM1261 1174h31v15h-31zM1399 1174h61v15h-61zM754 1189h31v15h-31zM816 1189h15v15h-15zM954 1189h31v15h-31zM1107 1189h16v15h-16zM1276 1189h16v15h-16zM1399 1189h61v15h-61zM816 1204h15v16h-15zM923 1204h46v16h-46zM1107 1204h16v16h-16zM1261 1204h46v16h-46zM1353 1204h123v16h-123zM908 1220h15v15h-15zM939 1220h15v15h-15zM1322 1220h77v15h-77zM1430 1220h30v15h-30zM1476 1220h15v15h-15zM800 1235h16v15h-16zM939 1235h15v15h-15zM1445 1235h61v15h-61zM1522 1235h15v15h-15zM1552 1235h16v15h-16zM1598 1235h40v15h-40zM800 1250h16v16h-16zM1506 1250h132v16h-132zM1552 1266h86v15h-86zM862 1281h15v15h-15zM954 1281h15v15h-15zM1568 1281h70v15h-70zM770 1296h15v16h-15zM847 1296h15v16h-15zM939 1296h30v16h-30zM1583 1296h31v16h-31zM1629 1296h9v16h-9zM923 1312h46v15h-46zM1583 1312h15v15h-15zM862 1327h15v15h-15zM893 1327h30v15h-30zM954 1327h31v15h-31zM739 1342h15v16h-15zM862 1342h46v16h-46zM969 1342h16v16h-16zM739 1358h15v8h-15zM862 1358h46v8h-46zM954 1358h15v8h-15z"/>
<path fill="#d7414e" d="M893 729h76v15h-76zM893 744h92v15h-92zM141 759h15v16h-15zM340 759h31v16h-31zM847 759h92v16h-92zM340 775h31v15h-31zM862 775h77v15h-77zM340 790h46v15h-46zM862 790h92v15h-92zM1107 790h31v15h-31zM340 805h46v16h-46zM800 805h47v16h-47zM862 805h92v16h-92zM1107 805h31v16h-31zM187 821h15v15h-15zM355 821h31v15h-31zM800 821h47v15h-47zM862 821h46v15h-46zM1123 821h30v15h-30zM371 836h15v16h-15zM800 836h62v16h-62zM1092 836h77v16h-77zM309 852h16v15h-16zM524 852h16v15h-16zM647 852h15v15h-15zM800 852h47v15h-47zM1246 852h30v15h-30zM524 867h16v15h-16zM647 867h15v15h-15zM678 867h15v15h-15zM800 867h31v15h-31zM893 867h30v15h-30zM1107 867h77v15h-77zM1261 867h15v15h-15zM616 882h46v16h-46zM678 882h15v16h-15zM708 882h16v16h-16zM800 882h31v16h-31zM877 882h138v16h-138zM1077 882h122v16h-122zM1246 882h15v16h-15zM386 898h31v15h-31zM616 898h138v15h-138zM785 898h46v15h-46zM847 898h184v15h-184zM1107 898h31v15h-31zM1153 898h46v15h-46zM417 913h61v15h-61zM632 913h230v15h-230zM893 913h15v15h-15zM923 913h154v15h-154zM1092 913h31v15h-31zM1153 913h16v15h-16zM417 928h31v16h-31zM478 928h16v16h-16zM616 928h215v16h-215zM1015 928h108v16h-108zM1153 928h16v16h-16zM1199 928h16v16h-16zM102 944h69v15h-69zM494 944h15v15h-15zM616 944h154v15h-154zM1061 944h62v15h-62zM1169 944h46v15h-46zM102 959h131v15h-131zM616 959h16v15h-16zM1077 959h61v15h-61zM1184 959h46v15h-46zM141 974h245v16h-245zM509 974h15v16h-15zM616 974h16v16h-16zM1123 974h123v16h-123zM233 990h184v15h-184zM616 990h16v15h-16zM647 990h15v15h-15zM1138 990h123v15h-123zM294 1005h15v15h-15zM340 1005h108v15h-108zM524 1005h16v15h-16zM632 1005h15v15h-15zM1184 1005h77v15h-77zM386 1020h92v16h-92zM524 1020h31v16h-31zM647 1020h15v16h-15zM1199 1020h62v16h-62zM417 1036h77v15h-77zM509 1036h46v15h-46zM662 1036h16v15h-16zM1199 1036h16v15h-16zM1230 1036h31v15h-31zM402 1051h15v15h-15zM463 1051h107v15h-107zM678 1051h30v15h-30zM1046 1051h15v15h-15zM1184 1051h77v15h-77zM432 1066h154v16h-154zM708 1066h31v16h-31zM1015 1066h16v16h-16zM1199 1066h16v16h-16zM1230 1066h31v16h-31zM432 1082h123v15h-123zM754 1082h16v15h-16zM1000 1082h15v15h-15zM1031 1082h15v15h-15zM1230 1082h16v15h-16zM448 1097h76v15h-76zM693 1097h61v15h-61zM770 1097h15v15h-15zM1031 1097h15v15h-15zM1215 1097h31v15h-31zM678 1112h92v16h-92zM785 1112h15v16h-15zM954 1112h15v16h-15zM1015 1112h31v16h-31zM1230 1112h16v16h-16zM693 1128h77v15h-77zM800 1128h31v15h-31zM939 1128h15v15h-15zM1031 1128h15v15h-15zM1230 1128h16v15h-16zM708 1143h31v15h-31zM800 1143h16v15h-16zM1015 1143h16v15h-16zM1246 1143h15v15h-15zM1246 1158h15v16h-15zM939 1174h15v15h-15zM1092 1174h46v15h-46zM1230 1174h31v15h-31zM985 1189h15v15h-15zM1015 1189h16v15h-16zM1077 1189h30v15h-30zM1123 1189h15v15h-15zM1184 1189h46v15h-46zM1246 1189h30v15h-30zM969 1204h16v16h-16zM1077 1204h30v16h-30zM1184 1204h31v16h-31zM1230 1204h31v16h-31zM816 1220h15v15h-15zM954 1220h15v15h-15zM1292 1220h30v15h-30zM1399 1220h31v15h-31zM893 1235h15v15h-15zM954 1235h15v15h-15zM1368 1235h31v15h-31zM1430 1235h15v15h-15zM877 1250h16v16h-16zM954 1250h15v16h-15zM1353 1250h31v16h-31zM1445 1250h61v16h-61zM954 1266h31v15h-31zM1368 1266h16v15h-16zM1460 1266h92v15h-92zM969 1281h16v15h-16zM1537 1281h31v15h-31zM969 1296h31v16h-31zM1031 1296h15v16h-15zM1537 1296h15v16h-15zM1568 1296h15v16h-15zM1614 1296h15v16h-15zM816 1312h15v15h-15zM969 1312h92v15h-92zM1598 1312h40v15h-40zM754 1327h16v15h-16zM800 1327h16v15h-16zM985 1327h46v15h-46zM1583 1327h46v15h-46zM785 1342h15v16h-15zM985 1342h15v16h-15zM969 1358h16v8h-16z"/>
<path fill="#bc2249" d="M125 790h16v15h-16zM202 836h15v16h-15zM279 852h15v15h-15zM340 867h15v15h-15zM340 898h46v15h-46zM1138 898h15v15h-15zM102 913h161v15h-161zM386 913h31v15h-31zM862 913h31v15h-31zM908 913h15v15h-15zM1123 913h30v15h-30zM102 928h161v16h-161zM371 928h46v16h-46zM448 928h30v16h-30zM831 928h184v16h-184zM1123 928h30v16h-30zM171 944h92v15h-92zM294 944h77v15h-77zM386 944h77v15h-77zM770 944h138v15h-138zM985 944h76v15h-76zM1123 944h46v15h-46zM233 959h230v15h-230zM494 959h15v15h-15zM632 959h215v15h-215zM1015 959h62v15h-62zM1138 959h46v15h-46zM386 974h92v16h-92zM632 974h184v16h-184zM1077 974h46v16h-46zM417 990h77v15h-77zM509 990h15v15h-15zM632 990h15v15h-15zM662 990h138v15h-138zM1107 990h31v15h-31zM448 1005h76v15h-76zM647 1005h77v15h-77zM1123 1005h61v15h-61zM478 1020h46v16h-46zM662 1020h16v16h-16zM1123 1020h76v16h-76zM494 1036h15v15h-15zM678 1036h15v15h-15zM1046 1036h15v15h-15zM1077 1036h122v15h-122zM1215 1036h15v15h-15zM708 1051h62v15h-62zM1031 1051h15v15h-15zM1092 1051h92v15h-92zM739 1066h46v16h-46zM1046 1066h46v16h-46zM1184 1066h15v16h-15zM770 1082h30v15h-30zM1184 1082h15v15h-15zM785 1097h31v15h-31zM908 1097h15v15h-15zM800 1112h31v16h-31zM893 1112h46v16h-46zM1215 1112h15v16h-15zM831 1128h31v15h-31zM893 1128h30v15h-30zM1046 1128h15v15h-15zM847 1143h76v15h-76zM939 1143h15v15h-15zM1199 1143h47v15h-47zM847 1158h30v16h-30zM1015 1158h231v16h-231zM1000 1174h92v15h-92zM1138 1174h92v15h-92zM923 1189h16v15h-16zM1000 1189h15v15h-15zM1031 1189h46v15h-46zM1138 1189h46v15h-46zM1230 1189h16v15h-16zM908 1204h15v16h-15zM985 1204h92v16h-92zM1123 1204h15v16h-15zM1169 1204h15v16h-15zM1215 1204h15v16h-15zM1000 1220h123v15h-123zM1153 1220h139v15h-139zM969 1235h62v15h-62zM1046 1235h15v15h-15zM1153 1235h77v15h-77zM1246 1235h30v15h-30zM1338 1235h30v15h-30zM1399 1235h31v15h-31zM831 1250h16v16h-16zM969 1250h16v16h-16zM1000 1250h15v16h-15zM1184 1250h31v16h-31zM1246 1250h15v16h-15zM1338 1250h15v16h-15zM1384 1250h61v16h-61zM800 1266h16v15h-16zM862 1266h15v15h-15zM985 1266h30v15h-30zM1199 1266h16v15h-16zM1338 1266h30v15h-30zM1384 1266h15v15h-15zM847 1281h15v15h-15zM985 1281h46v15h-46zM1199 1281h31v15h-31zM1353 1281h15v15h-15zM1491 1281h46v15h-46zM831 1296h16v16h-16zM1000 1296h31v16h-31zM1046 1296h15v16h-15zM1322 1296h77v16h-77zM1552 1296h16v16h-16zM770 1312h15v15h-15zM1061 1312h16v15h-16zM1338 1312h61v15h-61zM1552 1312h31v15h-31zM1031 1327h15v15h-15zM1368 1327h31v15h-31zM1552 1327h31v15h-31zM1629 1327h9v15h-9zM1000 1342h15v16h-15zM1552 1342h16v16h-16zM1583 1342h55v16h-55zM770 1358h15v8h-15zM1629 1358h9v8h-9z"/>
<path fill="#9e0142" d="M102 729h8v15h-8zM102 744h23v15h-23zM102 759h39v16h-39zM102 775h85v15h-85zM102 790h23v15h-23zM141 790h46v15h-46zM102 805h85v16h-85zM102 821h85v15h-85zM102 836h100v16h-100zM102 852h177v15h-177zM102 867h238v15h-238zM102 882h269v16h-269zM102 898h238v15h-238zM263 913h123v15h-123zM263 928h108v16h-108zM263 944h31v15h-31zM371 944h15v15h-15zM463 944h31v15h-31zM908 944h77v15h-77zM463 959h31v15h-31zM847 959h168v15h-168zM478 974h31v16h-31zM816 974h261v16h-261zM494 990h15v15h-15zM800 990h307v15h-307zM724 1005h399v15h-399zM678 1020h445v16h-445zM693 1036h353v15h-353zM1061 1036h16v15h-16zM770 1051h261v15h-261zM1061 1051h31v15h-31zM785 1066h230v16h-230zM1092 1066h92v16h-92zM800 1082h200v15h-200zM1046 1082h138v15h-138zM816 1097h92v15h-92zM923 1097h62v15h-62zM1046 1097h169v15h-169zM831 1112h62v16h-62zM939 1112h15v16h-15zM1046 1112h169v16h-169zM862 1128h31v15h-31zM923 1128h16v15h-16zM1061 1128h169v15h-169zM831 1143h16v15h-16zM923 1143h16v15h-16zM1046 1143h153v15h-153zM831 1158h16v16h-16zM877 1158h77v16h-77zM831 1174h108v15h-108zM831 1189h92v15h-92zM831 1204h77v16h-77zM1138 1204h31v16h-31zM831 1220h77v15h-77zM969 1220h31v15h-31zM1123 1220h30v15h-30zM816 1235h77v15h-77zM1031 1235h15v15h-15zM1061 1235h92v15h-92zM1230 1235h16v15h-16zM1276 1235h62v15h-62zM816 1250h15v16h-15zM847 1250h30v16h-30zM985 1250h15v16h-15zM1015 1250h169v16h-169zM1215 1250h31v16h-31zM1261 1250h77v16h-77zM816 1266h46v15h-46zM1015 1266h184v15h-184zM1215 1266h123v15h-123zM1399 1266h61v15h-61zM800 1281h47v15h-47zM1031 1281h168v15h-168zM1230 1281h123v15h-123zM1368 1281h123v15h-123zM785 1296h46v16h-46zM1061 1296h261v16h-261zM1399 1296h138v16h-138zM785 1312h31v15h-31zM1077 1312h261v15h-261zM1399 1312h153v15h-153zM770 1327h30v15h-30zM1046 1327h322v15h-322zM1399 1327h153v15h-153zM754 1342h31v16h-31zM1015 1342h537v16h-537zM1568 1342h15v16h-15zM754 1358h16v8h-16zM985 1358h644v8h-644z"/>
</g>
<g clip-path="url(#axclip)" fill="none">
<path class="n" d="M675.0 300.9L677.8 300.9L675.4 304.3L675.0 300.9M665.0 316.2L666.1 316.2L665.2 318.1L665.0 316.2M659.7 321.4L663.0 321.4L660.1 325.1L659.7 321.4M654.3 326.5L655.0 325.1L659.7 326.5L655.0 329.8L654.3 326.5M532.7 403.3L537.2 400.8L541.1 403.3L537.2 407.2L532.7 403.3M102.0 438.8L178.8 462.9L204.4 467.1L224.9 467.1L260.7 460.4L276.1 460.0L332.4 462.8L358.0 459.7L404.1 456.4L429.7 451.4L465.5 437.2L480.9 429.6L486.0 432.2L511.6 421.6L527.0 414.2L531.1 413.5L527.0 411.7L524.4 408.4L527.0 405.6L531.1 408.4L532.1 411.7L537.2 409.0L542.3 408.7L547.4 403.7L549.2 403.3L546.2 398.2L547.4 397.7L552.6 400.0L557.7 397.7L572.0 387.9L600.0 372.6L605.3 367.4L608.9 366.0L636.8 347.0L655.0 332.4L660.1 332.5L661.8 331.6L665.2 326.5L666.9 321.4L670.3 319.1L671.6 316.2L668.9 311.1L670.3 306.7L672.0 311.1L675.4 313.3L680.6 306.2L682.3 300.9L680.6 298.4L679.9 295.7L680.6 294.9L685.7 297.4L690.8 291.5L690.7 285.5L695.9 286.0L698.3 280.4L706.3 275.3L706.2 269.7L711.3 270.9L712.7 270.1L711.3 266.1L709.5 265.0L711.3 263.4L712.4 265.0L716.4 266.3L718.3 265.0L713.1 259.9L717.9 254.8L721.1 249.7L726.6 248.9L728.6 249.7L718.7 259.9L721.5 262.3L726.9 259.9L732.6 254.8L752.2 241.7L798.3 190.3L818.8 174.2L859.8 155.0L864.7 152.4L870.0 147.1L895.6 137.0"/>
<path class="n" d="M102.0 452.5L127.6 460.2L153.2 470.5L178.8 478.5L204.4 480.7L224.9 480.2L301.7 469.9L342.6 470.1L404.1 466.4L431.1 459.6L480.9 438.4L486.0 438.8L491.1 437.8L506.5 432.1L521.8 425.5L603.8 380.2L644.7 353.6L665.2 341.4L670.3 336.8L674.4 331.6L691.2 306.0L707.6 285.5L726.6 268.1L755.1 244.5L808.6 195.1L823.9 183.9L844.4 171.5L870.0 158.3L895.6 147.7L916.9 137.0"/>
<path class="n" d="M1121.6 137.0L1136.2 143.7L1141.4 144.9L1167.0 146.7L1197.7 143.7L1223.3 140.0L1254.0 142.3L1309.4 137.0M102.0 468.8L127.6 477.7L153.2 489.2L178.8 492.7L204.4 492.2L224.9 489.1L260.7 481.0L342.6 481.0L378.5 479.0L414.3 472.2L434.8 465.6L460.4 455.3L486.0 446.3L521.8 435.9L614.0 383.4L665.2 350.3L675.4 340.7L697.1 306.0L713.7 285.5L747.6 254.8L772.7 234.6L794.4 218.9L818.8 198.2L849.5 176.9L864.9 170.8L875.1 168.0L900.7 156.8L940.3 137.0M102.0 621.3L107.1 625.3L112.2 624.7L113.9 623.5L114.8 618.4L112.2 611.4L107.1 605.7L102.0 602.0"/>
<path class="n" d="M1083.2 137.0L1136.2 151.9L1156.7 156.2L1187.4 155.3L1223.3 151.8L1259.1 155.1L1315.4 146.6L1351.3 145.0L1445.8 137.0M102.0 483.8L127.6 495.3L153.2 505.4L173.7 506.1L204.4 503.4L240.2 496.1L265.8 493.0L301.7 495.0L332.4 492.0L368.2 491.2L404.3 485.2L429.7 477.6L455.3 467.4L480.9 458.4L521.8 448.5L573.8 418.6L649.8 370.3L670.3 355.5L680.6 344.6L698.7 311.1L714.2 290.6L752.2 254.9L772.7 240.0L800.5 224.1L823.9 204.8L849.5 187.1L859.8 182.5L900.7 169.5L968.1 137.0M102.0 625.0L112.2 630.5L122.5 627.6L125.3 623.5L119.8 603.0L107.3 587.6L102.0 584.6"/>
<path class="n" d="M1057.6 137.0L1115.8 160.7L1146.5 168.9L1167.0 172.2L1202.8 169.9L1254.0 169.0L1295.0 165.9L1341.0 161.3L1407.6 152.1L1489.5 145.4L1539.7 137.0M102.0 501.3L127.6 515.3L153.2 519.6L178.8 519.3L240.2 507.4L260.7 509.9L311.9 504.0L368.2 499.9L404.1 492.8L429.7 485.1L480.9 467.2L521.8 459.8L614.0 403.2L670.3 365.7L675.4 361.3L684.0 352.1L687.4 347.0L697.6 321.4L710.8 300.9L729.2 280.4L757.4 254.7L783.0 239.2L803.4 232.3L829.0 212.3L849.5 198.1L870.0 190.3L895.6 187.6L900.7 186.2L931.4 175.4L1002.2 137.0M102.0 627.4L112.2 636.0L122.5 631.4L127.6 631.4L135.3 628.6L137.8 626.0L143.0 623.8L148.1 624.0L151.9 633.7L151.4 638.8L139.4 649.1L143.0 649.7L146.6 649.1L153.2 641.1L155.6 633.7L158.3 629.5L160.5 618.4L158.3 615.2L153.2 616.3L150.4 618.4L148.1 622.9L132.1 587.6L128.3 582.5L117.4 573.3L102.0 566.8M127.6 648.5L127.6 649.3L129.3 649.1L127.6 648.5"/>
<path class="n" d="M706.2 355.9L701.9 357.2L702.3 362.3L707.5 367.4L716.4 368.2L717.5 367.4L719.3 362.3L717.2 357.2L711.3 355.5L706.2 355.9M337.4 510.8L337.9 510.8L337.5 511.4L337.4 510.8M102.0 522.5L112.2 530.0L117.4 532.0L137.8 536.2L143.0 536.1L189.0 533.9L214.6 527.5L240.2 519.2L255.6 526.1L260.7 526.2L291.4 519.7L342.6 516.1L347.8 513.3L368.2 509.9L404.1 501.6L480.9 476.0L521.8 470.2L614.0 413.6L675.4 372.9L685.7 362.2L690.8 358.3L694.0 357.2L697.2 352.1L696.7 341.8L698.4 331.6L702.8 321.4L708.7 311.1L721.5 293.9L757.4 258.6L783.0 244.5L788.1 243.0L803.4 241.2L813.7 237.7L844.4 219.3L854.6 214.5L870.0 209.5L900.7 201.5L905.8 199.2L931.4 187.3L962.2 171.0L998.0 149.8L1023.6 145.5L1049.2 149.3L1146.5 181.6L1177.2 188.2L1213.0 184.8L1254.0 182.8L1295.0 182.9L1341.0 179.5L1382.0 172.2L1423.0 167.1L1499.8 154.0L1530.5 150.2L1561.2 150.9L1617.5 154.1L1638.0 149.8M130.0 633.7L132.7 633.0L137.8 634.2L140.9 638.8L139.8 644.0L132.7 647.8L127.2 644.0L122.5 642.0L118.8 638.8L122.5 634.4L130.0 633.7M102.0 633.8L107.1 635.2L115.2 644.0L122.5 646.5L124.6 649.1L127.6 650.7L143.0 652.7L158.3 652.4L165.7 644.0L168.6 642.3L169.8 638.8L171.9 613.2L164.9 577.4L163.4 572.3L158.3 564.5L148.1 555.3L137.8 548.9L112.2 539.9L102.0 539.6"/>
<path class="n" d="M121.6 638.8L122.5 637.8L127.6 638.3L132.7 636.5L136.0 638.8L136.3 644.0L132.7 646.1L129.8 644.0L127.6 639.5L122.5 639.6L121.6 638.8M102.0 640.1L107.1 641.7L132.1 654.2L132.7 655.3L143.0 658.1L158.3 660.1L163.4 656.9L168.6 656.4L169.8 654.2L175.6 628.6L177.1 587.6L180.9 582.5L183.9 580.6L189.0 579.8L192.5 577.4L192.6 572.3L197.5 562.0L204.4 552.1L209.5 546.5L214.6 546.2L224.9 543.0L230.0 543.9L240.2 547.6L265.8 542.2L301.7 537.6L327.3 532.2L335.7 531.3L337.5 529.0L342.6 529.3L345.2 526.2L368.2 521.1L404.1 511.6L480.9 486.0L521.8 481.2L547.4 464.7L552.6 462.3L563.0 454.5L573.0 451.2L583.3 444.5L675.4 381.9L690.8 370.0L706.2 372.1L716.4 370.0L719.9 367.4L723.6 362.3L724.0 357.2L720.6 352.1L711.3 348.3L706.2 344.8L704.3 341.8L703.7 336.7L704.3 331.6L711.6 316.2L726.1 295.7L742.0 279.0L757.4 264.7L762.5 261.0L786.2 249.7L803.4 251.2L813.7 250.6L829.0 247.0L844.4 241.7L860.0 234.3L900.7 218.6L933.0 203.6L967.3 185.3L998.0 166.8L1023.6 161.5L1115.8 192.6L1146.5 198.8L1187.4 201.0L1223.3 197.6L1248.9 196.8L1274.5 198.8L1330.8 197.7L1371.8 194.5L1402.5 194.7L1433.2 188.7L1469.0 177.0L1499.8 168.8L1530.5 164.7L1561.2 164.6L1597.0 168.1L1638.0 167.9"/>
<path class="n" d="M777.8 282.5L757.4 297.3L750.4 300.9L757.4 302.7L762.0 300.9L776.5 290.6L780.6 285.5L777.8 282.5M701.0 397.8L700.6 398.2L701.2 398.2L701.0 397.8M690.8 402.2L689.6 403.3L691.6 403.3L690.8 402.2M695.9 413.4L695.7 413.5L695.9 414.0L696.5 413.5L695.9 413.4M132.1 644.0L132.7 641.7L133.5 644.0L132.1 644.0M102.0 645.0L112.2 650.5L117.5 649.1L117.4 654.5L127.6 653.5L129.1 654.2L127.8 659.3L132.7 661.2L137.8 664.6L153.2 667.4L158.3 667.0L172.5 659.3L179.4 628.6L183.6 587.6L209.5 574.9L219.8 572.2L245.4 568.6L276.1 558.3L317.0 549.1L480.9 498.5L521.8 492.5L623.5 434.0L655.0 409.9L665.2 403.5L685.7 388.4L703.2 377.7L716.4 371.8L721.5 368.3L727.6 362.3L729.6 352.1L726.6 344.5L721.5 342.5L716.4 342.6L714.8 341.8L716.4 336.7L721.5 327.9L736.9 312.9L740.4 311.1L742.0 307.3L748.2 306.0L747.1 303.8L742.0 301.1L746.2 290.6L764.1 270.1L772.7 268.7L782.8 270.1L781.2 280.4L783.0 281.9L786.3 275.3L793.2 272.1L854.6 264.0L870.0 255.3L872.4 254.8L870.0 251.9L869.4 249.7L870.0 248.7L875.1 251.4L911.0 229.5L956.8 208.7L987.8 191.0L1005.6 183.1L1023.6 182.9L1033.8 190.7L1049.2 198.8L1054.3 198.4L1069.7 194.3L1073.2 198.4L1085.0 206.1L1126.0 218.1L1167.0 218.0L1254.0 215.9L1295.0 219.9L1341.0 229.0L1371.8 230.8L1392.2 229.8L1423.0 218.6L1489.5 192.1L1520.2 182.8L1540.7 182.6L1605.0 193.3L1607.3 194.6L1608.9 198.4L1616.1 208.7L1621.8 234.3L1627.1 265.0L1624.8 285.5L1627.0 290.6L1638.0 299.0M122.5 656.2L122.1 659.3L127.0 659.3L122.5 656.2"/>
<path class="n" d="M883.1 259.9L890.5 257.4L891.9 259.9L885.4 263.6L883.1 259.9M693.9 393.0L695.9 391.2L700.0 393.0L695.9 395.7L693.9 393.0M675.4 409.0L670.4 413.5L675.4 415.0L677.4 413.5L675.4 409.0M695.9 411.8L693.9 413.5L695.9 418.6L702.0 413.5L695.9 411.8M655.0 423.8L650.0 428.9L655.0 431.0L656.7 428.9L655.0 423.8M670.3 432.3L668.9 434.0L670.3 436.2L671.4 434.0L670.3 432.3M102.0 648.7L112.2 656.1L126.5 664.4L127.6 666.3L132.7 668.0L137.8 672.2L158.3 675.0L176.3 664.4L191.1 592.8L193.1 587.6L201.4 587.6L224.9 596.6L230.0 597.0L235.1 596.2L250.5 589.9L272.5 577.4L286.3 571.4L317.0 564.2L399.0 540.3L439.9 529.6L480.9 514.7L521.8 506.7L567.9 479.4L638.7 434.0L644.7 429.1L646.7 428.9L648.3 423.8L649.8 422.5L660.2 423.8L658.5 418.6L660.1 417.5L665.2 419.4L670.3 419.3L671.2 418.6L670.3 413.6L665.2 416.6L663.2 413.5L666.6 408.4L670.3 405.7L675.4 402.8L680.6 401.9L683.2 398.2L685.7 396.6L690.8 396.4L693.1 398.2L690.8 398.5L685.7 402.5L680.6 405.0L677.1 408.4L685.7 409.9L694.2 403.3L695.9 398.9L701.0 400.0L706.2 393.7L708.0 393.0L706.2 389.0L701.0 388.6L704.9 382.8L706.2 381.8L710.5 382.8L708.0 387.9L711.3 389.0L716.4 382.9L721.5 384.1L722.9 382.8L721.5 379.6L716.4 382.7L712.4 377.7L721.5 370.9L731.8 360.9L752.2 346.9L772.7 339.9L793.2 329.9L810.0 316.2L864.9 277.4L870.9 275.3L869.4 270.1L870.0 269.3L875.1 271.3L882.2 270.1L880.2 268.3L875.1 268.6L874.2 265.0L880.2 263.6L885.4 267.4L890.5 267.0L894.6 265.0L898.3 259.9L892.3 254.8L895.6 254.0L900.2 249.7L905.8 248.1L911.0 244.2L931.4 235.9L962.2 228.6L977.5 229.9L998.0 241.5L1008.2 243.7L1013.4 246.3L1023.6 242.8L1027.4 239.4L1033.8 226.9L1049.2 222.9L1064.6 215.8L1069.7 212.3L1085.0 225.5L1105.5 235.5L1126.0 241.5L1167.0 241.6L1192.6 238.1L1248.9 237.3L1320.6 261.3L1351.3 268.4L1366.6 267.1L1371.8 267.6L1392.2 258.6L1458.8 236.2L1479.3 225.6L1499.8 209.0L1530.5 199.0L1545.8 195.4L1551.0 197.0L1560.0 203.6L1581.7 210.6L1586.8 213.4L1597.0 223.1L1599.8 224.1L1601.8 229.2L1601.5 254.8L1595.9 275.3L1586.5 290.6L1583.6 311.1L1581.7 316.7L1585.3 321.4L1591.9 327.3L1617.5 337.8L1638.0 343.8"/>
<path class="n" d="M1557.0 224.1L1561.2 222.2L1572.1 229.2L1575.9 249.7L1575.6 254.8L1571.4 274.3L1561.2 283.0L1535.6 278.9L1525.4 271.9L1521.3 270.1L1515.5 254.8L1515.2 249.7L1519.4 244.5L1525.3 234.3L1540.7 231.3L1557.0 224.1M982.6 303.4L977.6 306.0L982.6 307.1L982.6 303.4M736.9 376.5L735.9 377.7L736.9 379.8L740.5 377.7L736.9 376.5M716.0 387.9L718.2 387.9L716.4 390.1L716.0 387.9M726.6 390.7L725.2 393.0L727.4 393.0L726.6 390.7M706.2 407.3L695.9 410.3L692.0 413.5L690.8 415.8L684.5 418.6L695.9 420.5L701.4 418.6L707.7 413.5L706.2 407.3M670.3 430.0L667.0 434.0L670.3 439.2L672.8 434.0L670.3 430.0M230.0 648.3L229.2 649.1L230.0 650.3L232.4 649.1L230.0 648.3M102.0 652.5L127.6 678.0L143.0 682.7L163.4 680.4L183.9 666.0L200.3 649.1L209.5 640.3L212.3 638.8L214.6 635.4L250.5 607.4L291.4 585.4L306.8 582.0L322.2 576.3L332.4 574.4L368.2 564.8L404.1 551.6L480.9 526.0L521.8 519.5L581.5 485.2L639.6 445.7L655.0 433.9L660.1 427.4L665.2 425.3L680.6 413.3L685.7 411.5L690.8 406.9L701.0 401.6L706.2 396.7L718.5 393.0L726.6 386.6L733.4 382.8L726.6 379.2L723.1 372.6L726.6 368.4L731.8 367.8L736.9 369.8L740.5 372.6L742.0 376.5L744.1 372.6L747.1 370.3L767.6 359.3L783.0 357.0L788.1 354.4L808.6 341.0L863.9 300.9L869.7 295.7L870.0 294.4L875.8 295.7L874.6 290.6L885.4 287.2L890.5 290.3L890.5 296.7L896.0 300.9L891.5 306.0L895.7 311.1L895.6 316.3L900.7 323.3L905.0 326.5L921.2 334.5L931.4 342.8L936.6 344.0L951.9 343.7L957.0 337.6L969.1 326.5L978.7 311.1L977.5 306.0L962.2 300.8L951.9 309.3L946.7 311.1L937.0 300.9L933.9 290.6L943.5 280.4L967.3 275.1L977.5 266.6L987.4 275.3L992.9 281.9L1008.2 280.1L1023.6 264.6L1036.8 249.7L1044.1 246.5L1049.2 245.6L1059.4 249.3L1085.0 254.7L1105.5 263.1L1126.0 270.3L1146.5 270.3L1192.6 268.3L1251.6 275.3L1259.1 277.6L1295.0 279.6L1330.8 286.8L1361.5 297.2L1392.2 305.4L1417.8 310.8L1423.0 310.3L1437.6 306.0L1430.2 295.7L1424.3 290.6L1438.3 285.0L1469.0 285.3L1504.9 316.2L1512.1 321.4L1508.6 336.7L1506.4 341.8L1499.8 349.9L1498.9 352.1L1499.8 352.7L1530.5 355.5L1571.4 354.2L1576.6 355.1L1607.3 365.6L1638.0 373.7M127.6 712.9L126.1 715.7L126.5 720.8L134.3 725.9L137.8 730.7L148.1 733.7L153.2 737.3L158.3 737.8L160.9 736.1L158.3 729.9L142.4 715.7L137.8 712.8L132.7 711.5L127.6 712.9"/>
<path class="n" d="M691.4 408.4L695.9 407.7L697.0 408.4L695.9 408.8L691.4 408.4M684.8 413.5L685.7 413.2L687.5 413.5L685.7 414.2L684.8 413.5M669.8 423.8L670.3 423.4L672.5 423.8L670.3 425.0L669.8 423.8M664.2 428.9L666.2 428.9L665.2 432.7L664.2 428.9M563.7 505.7L567.9 504.5L572.4 505.7L567.9 507.8L563.7 505.7M548.5 510.8L552.6 510.6L557.7 506.8L561.4 510.8L552.6 513.5L548.7 515.9L542.3 518.1L537.7 515.9L547.4 513.3L548.5 510.8M527.8 521.1L537.2 517.4L538.1 521.1L537.2 522.7L532.1 522.8L527.8 521.1M258.6 613.2L260.7 611.7L265.8 610.7L269.1 613.2L260.7 617.2L258.6 613.2M219.8 648.1L214.8 649.1L219.8 649.4L219.8 648.1M230.0 646.9L227.7 649.1L230.0 652.5L235.1 650.7L236.4 649.1L235.1 647.6L230.0 646.9M102.0 660.0L117.4 677.8L132.7 687.4L153.2 688.8L168.6 684.5L187.4 669.6L213.4 644.0L230.0 630.9L255.6 619.0L258.4 623.5L265.8 623.8L273.6 618.4L272.5 613.2L276.1 610.4L322.2 591.8L327.3 592.0L332.4 588.4L337.2 587.6L327.3 582.5L337.1 582.5L337.5 585.4L342.6 584.4L344.3 582.5L368.2 576.0L406.2 562.0L445.0 549.0L516.7 526.6L527.0 521.8L528.8 526.2L532.1 528.4L537.2 527.9L547.4 529.4L552.6 528.0L556.6 526.2L563.1 521.1L568.8 515.9L572.9 510.8L573.5 505.7L572.4 500.6L578.2 501.6L579.3 500.6L603.8 494.9L629.4 495.0L644.5 485.2L652.6 475.0L654.9 469.9L651.8 459.6L652.6 444.2L657.5 439.1L660.1 433.7L662.5 434.0L661.6 439.1L665.2 443.0L670.3 443.9L672.9 439.1L675.8 428.9L680.6 424.3L685.7 421.1L695.9 422.3L706.2 420.4L710.1 418.6L713.1 413.5L711.1 403.3L715.6 398.2L721.5 396.0L726.6 399.0L736.9 400.5L737.8 398.2L747.1 391.3L762.5 389.5L772.7 391.3L783.0 397.8L793.2 401.4L798.3 398.0L803.2 393.0L822.6 362.3L839.3 348.7L849.5 343.3L854.6 342.4L868.1 347.0L870.0 352.2L941.7 364.0L946.8 363.3L957.0 353.0L962.2 352.3L977.5 354.5L1008.2 348.1L1023.6 344.0L1039.0 344.5L1054.3 349.1L1074.8 347.6L1095.2 336.7L1110.6 323.8L1115.4 321.4L1112.7 311.1L1110.3 306.0L1115.8 302.2L1146.5 306.6L1177.2 301.4L1213.0 297.9L1254.0 301.2L1284.7 305.2L1320.6 312.8L1341.0 323.3L1360.9 336.7L1366.5 341.8L1373.1 352.1L1392.2 365.1L1417.8 364.6L1423.0 362.6L1443.8 393.0L1448.6 395.8L1469.0 400.5L1488.2 398.2L1489.5 397.8L1499.8 386.0L1530.5 377.6L1533.8 382.8L1545.8 394.8L1568.3 408.4L1571.4 412.0L1576.6 411.5L1586.8 407.6L1591.9 408.9L1607.3 418.6L1638.0 411.0M132.7 705.3L127.6 706.6L122.8 710.5L122.8 715.7L124.3 720.8L137.8 734.8L158.3 743.4L168.6 743.0L171.7 741.3L170.7 736.1L167.3 731.0L158.3 721.1L143.0 708.2L137.8 705.8L132.7 705.3"/>
<path class="n" d="M716.6 403.3L721.5 401.2L725.2 403.3L727.1 408.4L726.6 411.6L721.5 412.1L716.6 403.3M500.5 551.8L506.5 549.0L509.9 551.8L506.5 554.6L501.4 556.8L500.5 551.8M235.1 643.7L230.0 645.5L226.2 649.1L230.0 655.0L235.1 655.1L236.7 654.2L239.7 649.1L235.1 643.7M102.0 673.1L104.0 679.8L102.9 684.9L102.0 685.7M102.0 706.2L112.2 715.0L114.2 715.7L119.0 720.8L122.5 721.9L125.2 725.9L137.8 738.0L148.1 742.7L153.2 746.4L168.6 752.9L173.7 753.9L178.8 752.2L183.9 752.9L186.8 756.6L189.0 765.0L194.2 768.0L198.5 761.7L199.3 756.6L198.2 751.5L195.2 746.4L184.2 736.1L173.7 729.1L163.4 717.2L150.1 705.4L148.1 700.3L155.1 695.2L168.6 691.5L178.8 682.3L209.5 660.4L215.7 654.2L222.7 649.1L220.9 644.0L230.0 635.3L235.1 633.9L240.2 637.6L245.4 636.5L271.0 622.5L327.3 600.4L328.5 603.0L332.4 604.3L338.7 603.0L337.5 599.5L332.4 600.3L328.6 597.9L332.4 596.9L342.6 596.8L347.8 594.5L368.2 591.1L388.7 584.0L419.4 578.8L445.0 575.8L480.9 568.4L489.9 562.0L491.1 560.0L496.2 562.8L498.4 562.0L494.3 556.9L496.2 556.4L506.5 558.0L510.6 556.9L513.8 551.8L510.7 546.7L516.7 547.3L521.8 546.5L527.0 543.3L532.1 545.8L537.8 546.7L537.2 549.9L532.1 549.2L529.1 551.8L532.1 552.8L537.2 552.1L542.3 550.1L552.6 553.4L573.0 551.2L629.4 517.9L634.5 514.1L639.6 518.0L649.8 510.0L665.5 495.5L676.0 480.1L680.6 464.7L677.3 449.4L675.1 444.2L675.7 434.0L677.2 428.9L680.6 425.6L685.7 423.0L693.8 423.8L695.9 425.8L699.6 423.8L702.3 423.8L700.6 428.9L701.0 430.8L704.9 428.9L707.0 428.9L711.3 433.7L718.1 439.1L721.5 440.2L731.6 434.0L736.9 433.1L783.0 431.1L798.3 420.7L808.6 417.7L849.5 412.1L880.2 404.6L916.1 392.7L941.7 404.6L946.8 408.0L951.9 406.8L972.4 396.0L1008.2 391.8L1069.7 391.6L1074.8 392.2L1085.0 395.7L1090.2 395.9L1115.8 389.5L1146.5 384.2L1187.4 389.7L1254.0 377.9L1274.5 372.6L1295.0 371.1L1299.5 372.6L1309.2 377.7L1310.3 379.2L1315.7 387.9L1315.7 393.0L1313.7 398.2L1315.4 399.3L1341.0 410.6L1361.5 416.6L1382.0 431.3L1402.5 439.9L1423.0 434.9L1453.7 425.7L1458.8 429.2L1469.0 433.8L1489.5 434.5L1530.5 443.9L1566.3 446.8L1604.8 464.7L1622.6 481.9L1627.8 484.1L1638.0 485.6M206.8 1366.0L204.4 1360.9L199.3 1358.3L173.7 1358.9L170.5 1366.0"/>
<path class="p" d="M678.6 428.9L680.6 427.0L685.7 425.5L690.6 428.9L690.4 434.0L680.6 439.4L677.8 434.0L678.6 428.9M1128.1 439.1L1131.1 438.9L1133.2 439.1L1131.1 441.9L1128.1 439.1M1180.7 439.1L1182.3 438.6L1184.8 439.1L1182.3 442.5L1180.7 439.1M287.3 623.5L296.6 622.2L300.5 623.5L291.4 626.0L287.3 623.5M281.2 627.7L281.1 628.6L282.3 628.6L281.2 627.7M231.5 638.8L235.1 637.9L236.2 638.8L235.1 639.7L231.5 638.8M223.9 644.0L224.9 643.0L230.0 640.9L230.6 644.0L224.9 647.6L223.9 644.0M238.5 644.0L240.2 641.9L245.4 641.4L250.2 644.0L250.5 646.2L253.5 649.1L250.5 652.1L247.6 649.1L245.4 648.8L240.2 646.0L238.5 644.0M102.0 711.1L107.9 715.7L110.9 720.8L117.7 725.9L122.0 731.0L127.6 733.0L132.7 736.8L138.6 741.3L142.6 746.4L148.1 748.6L149.3 751.5L153.2 753.4L173.7 759.5L178.1 761.7L183.9 762.1L189.0 770.9L194.2 776.4L199.3 774.2L204.4 765.3L209.5 758.6L217.0 751.5L209.5 732.6L189.0 732.5L175.7 720.8L181.5 710.5L183.9 709.2L199.3 705.4L194.2 699.4L189.0 697.0L188.1 695.2L183.9 692.5L182.0 690.1L206.1 674.7L219.8 654.2L224.9 649.6L230.0 658.8L235.1 659.0L245.4 654.6L255.5 654.2L263.8 628.6L265.8 627.4L271.0 627.3L276.1 626.1L280.8 623.5L283.3 623.5L291.3 633.7L296.6 635.2L301.7 633.5L304.9 628.6L301.3 618.4L306.8 620.7L322.2 615.7L342.6 611.9L393.8 606.5L395.3 603.0L399.0 600.2L404.1 597.1L409.2 595.2L414.3 596.4L439.9 596.7L442.7 597.9L439.9 601.2L434.8 600.4L409.2 604.3L398.5 613.2L398.0 618.4L392.0 638.8L391.6 644.0L394.2 644.0L399.0 641.5L419.4 636.4L436.4 628.6L439.9 626.0L465.5 633.9L485.3 628.6L491.1 625.8L516.7 617.5L547.4 603.1L601.9 567.2L624.2 550.7L649.8 540.3L687.3 490.3L701.0 476.1L726.6 470.6L747.1 472.0L777.8 459.7L783.0 456.8L813.7 460.0L818.8 456.8L839.3 448.0L854.6 458.7L859.8 458.7L870.0 456.8L885.4 450.2L900.7 458.7L916.1 461.2L934.9 454.5L962.2 450.3L973.2 444.2L982.6 443.2L1008.2 437.2L1039.0 439.1L1064.6 442.2L1095.3 447.3L1115.8 447.2L1120.9 444.1L1126.0 443.4L1126.7 444.2L1131.1 444.8L1136.2 443.3L1141.4 443.3L1161.8 449.4L1172.1 447.0L1177.2 444.1L1182.3 444.9L1185.0 444.2L1191.0 439.1L1207.9 437.2L1211.7 439.1L1213.0 441.8L1216.9 444.2L1220.0 449.4L1223.3 452.1L1238.6 454.6L1269.4 451.5L1284.7 452.0L1300.1 458.2L1301.6 459.6L1307.3 475.0L1298.5 490.3L1297.8 505.7L1284.7 511.8L1274.2 521.1L1284.7 529.3L1300.1 522.8L1310.3 520.0L1330.8 504.4L1346.2 511.3L1361.5 512.7L1376.9 500.6L1392.2 499.2L1407.6 488.7L1423.0 481.6L1438.3 494.7L1453.7 486.0L1469.0 487.7L1484.4 487.1L1499.8 492.1L1515.1 492.0L1530.5 480.8L1545.8 484.4L1552.4 490.3L1554.7 521.1L1561.2 536.0L1569.2 521.1L1571.4 519.5L1576.6 516.2L1586.8 517.1L1591.9 515.8L1612.4 546.2L1617.5 552.4L1622.6 554.0L1626.3 551.8L1638.0 541.0M199.3 778.2L195.6 782.2L199.3 796.3L205.5 807.8L209.5 819.1L212.1 823.2L222.3 833.4L230.0 839.5L235.1 840.8L240.2 843.8L255.6 844.6L265.8 843.9L276.1 845.9L281.1 843.7L276.1 842.2L265.8 843.4L245.4 842.5L240.5 838.6L231.2 833.4L210.9 813.0L211.5 797.6L210.2 792.5L204.4 786.4L199.3 778.2M281.2 844.2L280.8 848.8L281.2 848.9L281.4 848.8L281.2 844.2M331.1 1319.9L332.4 1314.8L334.6 1319.9L331.1 1319.9M322.3 1366.0L332.4 1357.7L347.8 1353.2L373.4 1360.1L378.5 1362.9L379.3 1360.9L382.3 1350.6L383.6 1335.3L368.2 1320.8L366.3 1319.9L363.1 1304.2L349.9 1289.2L347.8 1287.9L345.6 1289.2L342.6 1294.1L332.6 1304.5L333.8 1309.7L332.4 1314.6L326.4 1309.7L327.3 1304.9L328.3 1304.5L327.3 1304.5L322.2 1297.1L317.0 1299.1L314.8 1294.3L317.0 1293.0L322.2 1293.0L323.6 1289.2L322.2 1288.3L298.8 1289.2L305.4 1294.3L311.9 1301.6L317.0 1304.5L301.7 1312.7L286.3 1306.4L271.0 1291.6L255.6 1284.6L240.2 1280.2L224.9 1280.6L189.0 1293.6L183.9 1287.6L178.8 1283.6L163.4 1303.7L159.9 1299.4L132.7 1276.0L117.4 1282.6L102.0 1281.5"/>
<path class="p" d="M680.0 428.9L686.4 428.9L684.0 434.0L680.6 435.3L680.0 428.9M223.9 654.2L224.9 653.3L225.4 654.2L224.9 659.8L223.9 654.2M102.0 713.9L107.1 717.8L119.1 731.0L152.4 756.6L178.8 763.7L183.9 767.7L191.9 777.1L196.8 797.6L202.2 807.8L208.4 823.2L219.8 835.1L230.0 842.2L240.2 845.1L265.8 846.5L281.2 850.4L284.1 848.8L285.7 843.7L281.2 840.5L271.0 839.9L255.6 842.0L245.4 839.4L235.6 833.4L223.1 818.1L219.8 816.0L214.6 814.4L213.4 813.0L213.3 807.8L216.4 797.6L216.1 792.5L213.8 787.3L204.4 781.4L202.6 777.1L204.4 773.6L209.5 770.3L221.6 766.9L224.9 765.1L238.4 736.1L260.7 723.2L266.9 720.8L264.7 715.7L265.8 714.3L271.0 717.5L281.2 711.2L284.3 710.5L286.3 708.0L309.3 705.4L328.5 695.2L332.4 692.0L337.5 691.3L342.6 692.7L358.0 693.4L373.2 690.1L378.5 688.8L409.2 673.9L414.3 672.2L465.5 656.9L484.4 654.2L491.1 654.5L516.7 645.1L547.4 625.4L583.3 607.4L639.6 583.6L649.8 584.8L655.0 586.4L673.4 572.3L679.4 531.3L690.8 503.5L701.0 495.2L706.2 493.6L721.5 493.0L736.9 498.0L750.3 505.7L746.1 526.2L747.1 527.1L750.8 526.2L749.8 521.1L757.4 520.4L777.8 505.7L793.2 519.8L823.9 503.8L829.0 502.3L834.2 504.4L849.5 508.2L875.1 507.0L900.7 501.3L916.1 505.0L931.4 499.5L962.2 499.4L987.8 505.6L1008.2 513.3L1028.7 511.5L1100.4 493.0L1115.8 496.3L1161.8 492.1L1167.0 490.1L1197.7 486.7L1208.1 490.3L1177.2 498.3L1156.7 519.3L1155.5 521.1L1151.2 536.4L1183.5 551.8L1185.6 567.2L1202.5 587.6L1207.9 596.7L1210.4 592.8L1210.7 587.6L1216.7 567.2L1223.3 561.9L1233.1 572.3L1254.0 580.5L1264.2 593.9L1268.7 597.9L1284.7 602.5L1292.2 597.9L1295.6 582.5L1300.1 574.7L1303.3 572.3L1325.7 562.5L1346.2 561.2L1361.5 566.6L1376.9 560.6L1392.2 549.0L1407.6 548.1L1412.9 551.8L1400.9 567.2L1408.6 582.5L1392.2 608.5L1390.2 613.2L1392.2 616.7L1438.5 597.9L1468.7 572.3L1484.4 564.4L1494.6 565.8L1499.8 562.7L1500.5 567.2L1494.8 572.3L1484.4 584.5L1478.9 597.9L1484.4 608.2L1499.8 609.5L1501.6 608.1L1506.7 597.9L1515.1 591.2L1530.5 585.9L1545.8 583.7L1562.0 572.3L1576.6 564.3L1582.2 567.2L1582.5 592.8L1569.2 613.2L1566.3 628.6L1577.1 633.7L1597.0 625.2L1602.2 624.6L1607.3 620.2L1610.8 628.6L1605.0 633.7L1591.9 654.5L1589.8 659.3L1591.9 667.1L1597.0 667.7L1607.3 666.5L1616.8 674.7L1622.6 692.3L1638.0 682.8M373.4 884.3L373.2 884.6L373.4 884.8L373.7 884.6L373.4 884.3M429.7 1273.2L428.3 1273.8L433.8 1284.1L434.8 1289.1L439.9 1288.6L445.0 1286.1L455.3 1285.4L460.4 1283.8L480.9 1287.5L486.0 1292.5L489.4 1299.4L490.6 1304.5L490.0 1314.8L487.2 1319.9L486.4 1325.0L493.3 1330.2L501.4 1334.0L516.7 1327.3L532.1 1341.5L547.7 1345.5L562.8 1356.5L578.2 1335.8L593.5 1340.5L598.6 1337.1L603.8 1336.9L604.8 1335.3L603.8 1332.9L590.8 1319.9L585.2 1304.5L583.3 1303.3L562.8 1300.7L532.1 1288.0L516.7 1287.9L501.4 1283.7L486.0 1282.6L470.6 1271.0L439.9 1269.8L429.7 1273.2M428.2 1309.7L429.7 1305.3L430.3 1325.0L432.4 1330.2L429.7 1330.8L428.2 1309.7M432.6 1335.3L434.8 1330.9L437.0 1335.3L434.8 1338.0L432.6 1335.3M439.8 1340.4L439.9 1340.3L440.5 1340.4L439.9 1340.5L439.8 1340.4M442.4 1345.5L445.0 1341.0L455.3 1343.7L465.5 1354.3L476.1 1355.8L473.5 1360.9L465.5 1362.8L460.4 1361.9L450.2 1354.6L442.4 1345.5M556.6 1366.0L547.4 1359.4L516.7 1359.7L491.1 1357.8L486.0 1355.9L480.9 1355.4L479.2 1345.5L482.0 1335.3L486.0 1330.2L485.0 1325.0L480.9 1322.9L480.1 1319.9L470.3 1304.5L455.3 1294.3L439.9 1297.4L434.8 1289.2L431.6 1294.3L432.4 1299.4L429.7 1304.5L424.6 1303.8L409.2 1293.0L395.3 1289.2L393.4 1273.8L389.9 1268.7L373.4 1253.0L357.8 1243.1L347.8 1230.0L332.4 1229.1L317.0 1222.5L301.7 1222.7L286.3 1230.5L271.0 1230.1L255.6 1221.5L240.2 1220.6L224.9 1224.8L209.5 1220.6L178.8 1219.5L163.4 1208.4L117.4 1212.3L102.0 1199.2"/>
<path class="p" d="M710.3 531.3L716.4 528.2L726.6 532.8L731.8 532.6L734.9 536.4L731.8 540.0L730.2 546.7L727.5 551.8L721.5 556.6L718.6 556.9L716.4 558.5L716.2 556.9L706.6 546.7L700.8 536.4L710.3 531.3M719.8 562.0L721.5 559.7L722.3 562.0L721.5 563.3L719.8 562.0M1529.1 623.5L1531.2 623.5L1529.0 644.0L1530.8 659.3L1536.6 674.7L1531.8 684.9L1528.2 705.4L1520.2 721.5L1499.8 729.9L1489.5 732.2L1484.4 732.4L1480.9 720.8L1489.5 710.0L1491.0 705.4L1492.8 690.1L1489.5 673.1L1469.0 659.3L1453.7 669.9L1442.6 659.3L1446.1 644.0L1453.7 635.2L1458.8 632.0L1463.9 627.0L1469.0 627.9L1469.0 631.3L1465.4 633.7L1469.0 636.0L1474.2 650.1L1479.3 646.9L1489.5 644.1L1523.6 628.6L1529.1 623.5M1300.1 661.9L1299.0 664.4L1295.0 668.5L1292.1 669.6L1285.5 674.7L1289.8 677.0L1297.8 684.9L1300.1 688.6L1308.1 679.8L1310.6 674.7L1300.1 661.9M1361.5 684.4L1356.4 686.2L1330.8 691.3L1323.9 705.4L1315.4 715.3L1310.3 716.5L1302.1 720.8L1315.4 728.7L1334.1 720.8L1340.8 715.7L1356.4 697.8L1366.2 690.1L1361.5 684.4M102.0 716.4L107.1 720.5L117.4 731.5L127.6 738.6L149.7 756.6L163.4 762.4L178.8 765.5L183.9 770.0L189.4 777.1L191.3 782.2L193.9 797.6L206.2 823.2L214.8 833.4L219.8 837.7L230.0 844.6L240.2 846.5L260.7 847.7L281.2 851.8L287.6 848.8L291.4 844.8L294.0 843.7L286.3 836.6L271.0 836.2L255.6 841.0L239.1 833.4L231.7 823.2L227.2 813.0L235.1 810.9L243.8 802.7L245.4 799.1L250.5 797.8L255.6 798.4L256.3 797.6L255.6 792.1L250.5 788.5L240.2 791.5L229.9 792.5L229.4 787.3L235.1 784.6L240.2 784.5L245.4 786.9L250.5 785.9L252.5 782.2L255.6 780.6L276.1 752.9L280.7 751.5L280.1 746.4L281.2 744.3L282.9 746.4L286.3 747.0L287.1 746.4L286.3 743.4L283.9 741.3L286.3 737.6L296.6 737.7L301.7 740.6L312.6 731.0L315.9 725.9L337.5 718.7L378.5 702.5L409.2 694.5L445.0 692.3L486.0 695.4L486.7 695.2L486.0 690.0L491.1 692.0L527.0 681.5L557.7 658.5L588.4 641.2L614.0 629.5L634.5 626.1L655.0 632.8L693.5 613.2L701.0 608.6L721.5 585.2L729.8 577.4L731.8 572.4L747.1 575.4L749.5 577.4L750.5 582.5L761.1 608.1L762.1 613.2L765.8 613.2L777.8 611.2L782.3 608.1L784.5 603.0L793.2 589.9L818.8 582.5L870.0 563.4L885.4 555.4L900.7 551.6L931.4 554.9L962.2 550.6L977.5 553.9L992.9 546.2L1008.2 553.8L1023.6 551.6L1039.0 541.3L1054.3 539.1L1069.7 533.0L1074.8 535.2L1079.9 535.2L1082.7 536.4L1069.7 549.5L1049.2 563.9L1034.0 577.4L1024.3 582.5L1030.4 587.6L1033.8 589.2L1036.5 592.8L1039.0 594.4L1054.3 588.9L1069.7 599.6L1085.0 597.4L1115.8 613.8L1146.5 618.5L1161.8 625.0L1177.2 638.2L1193.8 644.0L1196.3 659.3L1238.6 670.8L1243.8 671.0L1254.0 670.0L1269.4 666.6L1277.4 659.3L1278.9 644.0L1272.6 633.7L1269.4 630.9L1264.7 628.6L1269.4 626.8L1284.7 624.2L1315.4 626.7L1323.7 613.2L1330.8 605.5L1346.2 600.6L1361.5 610.9L1363.2 613.2L1361.2 618.4L1359.5 628.6L1364.2 644.0L1370.7 674.7L1407.6 700.0L1410.9 705.4L1423.0 713.9L1431.5 705.4L1438.3 692.5L1453.7 683.7L1454.7 684.9L1457.2 690.1L1461.1 705.4L1458.8 708.6L1453.8 720.8L1448.6 727.2L1443.9 731.0L1442.8 736.1L1448.6 737.1L1469.0 743.4L1479.3 751.7L1491.3 746.4L1494.6 742.9L1499.8 741.9L1504.9 743.0L1515.1 749.2L1525.4 751.1L1545.8 758.4L1561.2 767.1L1577.7 761.7L1602.2 756.8L1607.3 754.8L1609.4 756.6L1617.5 770.2L1622.6 772.1L1638.0 780.9M1438.3 726.5L1438.3 732.9L1443.1 731.0L1438.3 726.5M1510.0 769.8L1508.9 777.1L1510.0 780.2L1545.8 791.1L1551.0 794.6L1551.0 790.5L1548.4 787.3L1551.6 782.2L1545.8 776.8L1540.7 776.5L1530.5 773.1L1520.2 778.1L1518.3 777.1L1515.1 769.6L1510.0 769.8M224.6 797.6L224.9 792.8L224.9 800.1L224.6 797.6M219.4 807.8L219.8 807.3L224.9 804.0L226.0 807.8L224.9 810.8L219.4 807.8M1638.0 810.7L1614.6 802.7L1591.9 793.3L1556.1 796.1L1552.5 797.6L1566.3 802.9L1571.4 806.2L1576.6 807.3L1582.5 818.1L1602.1 843.7L1612.4 850.6L1622.6 853.2L1627.8 853.0L1638.0 850.1M342.6 843.6L340.4 843.7L343.1 843.7L342.6 843.6M373.4 881.9L372.1 884.6L373.4 886.2L376.1 884.6L373.4 881.9M1591.9 928.5L1586.8 934.1L1586.8 936.7L1591.9 938.7L1592.6 941.0L1597.0 946.0L1607.3 949.4L1617.5 945.8L1624.2 935.9L1622.2 930.7L1617.5 928.8L1591.9 928.5M818.8 1139.9L817.7 1140.7L818.8 1141.8L819.7 1140.7L818.8 1139.9M1315.4 1175.9L1314.3 1176.5L1311.9 1181.7L1315.1 1186.8L1321.2 1191.9L1325.7 1194.2L1330.8 1194.4L1333.2 1191.9L1331.1 1186.8L1325.7 1184.8L1315.4 1175.9M911.0 1242.0L908.6 1248.2L906.5 1258.5L908.2 1263.6L911.0 1265.0L916.1 1265.7L921.2 1264.5L926.4 1258.5L926.8 1253.3L925.0 1248.2L920.3 1243.1L916.1 1241.8L911.0 1242.0M885.4 1287.2L883.7 1289.2L884.7 1294.3L885.4 1295.2L890.5 1294.3L891.7 1289.2L890.5 1288.2L885.4 1287.2M723.4 1366.0L721.5 1345.5L716.4 1330.5L700.5 1309.7L685.7 1301.6L670.3 1277.2L639.6 1285.9L611.6 1273.8L608.9 1272.1L603.8 1265.6L588.4 1257.8L573.0 1241.3L557.7 1227.4L532.1 1218.4L516.7 1229.2L501.4 1217.3L491.1 1219.5L470.6 1225.9L455.3 1214.2L439.9 1215.2L424.6 1203.1L414.3 1203.4L409.2 1203.6L400.0 1212.4L393.8 1222.7L388.2 1212.4L382.4 1207.3L378.5 1204.8L363.1 1200.3L347.8 1200.2L332.4 1198.0L301.7 1198.2L286.3 1196.0L255.6 1196.0L209.5 1191.8L178.8 1184.2L158.3 1181.3L132.7 1179.1L102.0 1167.1"/>
<path class="p" d="M1091.9 628.6L1095.3 626.6L1100.4 626.7L1101.6 628.6L1100.4 632.4L1095.3 632.1L1091.9 628.6M1093.2 638.8L1095.3 635.7L1100.4 635.7L1103.1 644.0L1100.4 646.8L1095.3 644.3L1086.1 644.0L1090.2 642.8L1093.2 638.8M629.4 674.0L625.9 674.7L624.2 678.9L625.7 684.9L624.1 690.1L619.1 690.9L614.0 694.2L602.6 705.4L606.3 710.5L608.9 717.2L614.0 718.7L624.2 719.2L639.6 700.5L634.5 697.8L629.7 690.1L630.2 684.9L629.4 681.8L625.2 679.8L629.4 678.3L630.1 674.7L629.4 674.0M102.0 718.3L107.1 722.1L117.4 732.6L127.6 740.0L148.1 757.1L163.4 764.2L178.8 767.1L183.8 772.0L189.6 782.2L191.8 797.6L203.8 823.2L214.6 835.9L230.0 846.7L240.2 847.9L255.6 848.3L271.0 850.6L281.2 853.3L286.3 851.0L298.6 848.8L301.7 847.4L308.7 843.7L311.9 837.7L317.0 838.7L321.3 843.7L327.3 847.8L342.6 849.8L352.9 854.8L357.7 853.9L358.3 843.7L351.7 838.6L342.6 836.4L341.8 833.4L332.4 827.7L311.9 819.3L291.4 816.3L276.1 817.5L271.0 816.4L263.4 823.2L265.8 825.3L271.0 825.7L276.1 819.7L277.9 828.3L276.1 829.2L271.0 828.4L264.1 833.4L260.7 833.7L259.4 838.6L255.6 840.1L252.5 838.6L250.5 835.0L244.1 833.4L240.2 828.7L240.2 820.9L245.4 819.5L248.5 823.2L250.5 828.5L255.6 829.7L260.7 828.3L259.3 823.2L255.6 820.2L245.4 816.6L244.0 813.0L245.4 811.9L271.0 806.0L279.6 782.2L322.2 740.8L327.2 741.3L323.4 746.4L321.4 751.5L322.2 751.8L342.6 741.3L373.4 722.1L399.0 708.1L439.9 703.1L444.6 705.4L445.0 710.5L448.6 720.8L460.4 729.8L480.9 726.2L491.1 725.3L511.6 713.8L542.3 701.9L573.0 691.1L578.5 690.1L585.1 674.7L588.4 673.1L593.5 668.3L624.2 657.8L646.2 654.2L680.6 655.2L685.7 654.7L690.8 655.9L693.7 654.2L701.0 642.3L710.0 649.1L715.5 654.2L716.4 656.0L726.6 653.3L731.8 649.5L747.1 664.7L783.0 662.0L801.2 654.2L813.7 643.9L818.8 638.3L823.9 637.7L839.3 637.1L844.4 642.2L853.3 649.1L870.0 654.5L885.4 644.2L916.1 629.0L932.9 628.6L936.6 626.2L946.8 613.5L964.7 613.2L967.0 608.1L972.4 602.1L974.7 597.9L977.5 595.9L987.8 597.7L986.1 603.0L986.2 613.2L994.0 623.5L1008.2 634.9L1023.6 625.2L1039.0 637.4L1054.3 621.0L1067.8 628.6L1070.2 633.7L1074.6 638.8L1083.3 644.0L1069.7 650.3L1057.7 659.3L1054.3 664.7L1029.1 674.7L1039.0 686.6L1054.3 697.7L1085.0 690.2L1146.5 699.2L1161.8 690.3L1187.4 689.7L1192.6 688.6L1195.8 690.1L1213.0 703.8L1213.7 705.4L1210.9 720.8L1232.7 751.5L1238.6 755.2L1248.9 758.4L1264.2 760.9L1279.6 762.1L1295.0 762.0L1320.6 759.6L1328.1 756.6L1335.9 751.0L1341.0 751.1L1346.2 756.1L1354.3 761.7L1365.3 782.2L1365.9 797.6L1354.1 813.0L1346.5 828.3L1353.5 843.7L1365.9 859.0L1366.1 869.3L1359.3 889.8L1349.7 905.1L1345.6 920.5L1352.8 930.7L1356.4 934.1L1371.8 943.8L1376.9 943.9L1392.2 947.2L1407.6 945.0L1428.1 933.7L1453.7 922.0L1469.0 913.3L1494.6 887.9L1507.8 879.5L1510.0 876.1L1515.1 876.7L1516.6 874.4L1510.0 864.0L1505.4 859.0L1516.7 833.4L1520.2 828.0L1504.3 813.0L1499.8 810.1L1484.4 808.6L1479.3 807.2L1469.0 804.2L1455.9 797.6L1453.7 786.8L1449.9 782.2L1469.0 772.3L1484.4 775.6L1499.8 789.9L1520.2 803.0L1545.8 812.7L1551.0 813.9L1569.0 828.3L1565.3 833.4L1551.9 859.0L1546.9 879.5L1545.8 897.0L1541.2 905.1L1540.7 907.7L1539.1 910.2L1527.8 915.4L1524.6 920.5L1525.4 923.3L1530.1 930.7L1540.7 932.3L1543.6 935.9L1510.0 941.3L1504.9 943.6L1499.8 947.4L1484.3 946.1L1479.3 951.6L1484.5 961.5L1493.8 966.6L1469.8 976.8L1453.7 980.4L1443.4 992.3L1439.5 997.3L1451.2 1012.7L1448.6 1014.5L1443.4 1022.6L1442.4 1028.0L1443.4 1029.8L1448.0 1028.0L1448.6 1026.9L1452.2 1033.1L1467.4 1043.4L1454.3 1058.8L1447.4 1063.9L1423.0 1078.7L1412.7 1087.9L1412.2 1089.5L1423.0 1102.0L1438.3 1095.3L1447.2 1104.8L1453.7 1115.7L1469.0 1115.4L1484.4 1122.4L1499.8 1113.8L1522.1 1089.5L1530.5 1076.5L1546.5 1079.2L1561.2 1087.8L1576.6 1093.4L1586.4 1089.5L1586.8 1088.4L1591.9 1085.3L1612.4 1081.7L1638.0 1075.6M336.5 731.0L342.6 730.0L344.4 731.0L342.6 733.0L337.5 732.6L336.5 731.0M326.7 736.1L332.4 734.9L334.3 736.1L327.3 741.2L326.7 736.1M127.6 761.7L127.6 761.7L127.6 761.8L127.6 761.7L127.6 761.7M1392.7 761.7L1402.5 759.3L1407.6 759.5L1413.1 761.7L1419.0 766.9L1422.3 772.0L1424.4 777.1L1424.3 782.2L1419.6 787.3L1407.6 791.7L1397.4 792.0L1392.2 791.2L1382.2 787.3L1377.3 782.2L1377.2 777.1L1379.7 772.0L1384.6 766.9L1392.7 761.7M1013.4 771.1L1008.2 773.1L1003.1 772.8L1001.2 777.1L997.7 787.3L999.6 792.5L1003.1 797.7L1008.2 802.8L1013.4 801.5L1028.7 800.4L1033.8 798.6L1041.4 787.3L1044.5 777.1L1044.7 772.0L1042.0 772.0L1039.0 773.9L1018.5 769.0L1013.4 771.1M962.2 796.8L961.4 797.6L962.2 798.2L965.3 797.6L962.2 796.8M321.2 833.4L322.3 833.4L322.2 834.1L321.2 833.4M323.1 838.6L327.3 836.9L332.4 836.3L337.5 836.9L341.4 838.6L332.4 839.7L323.1 838.6M358.0 854.5L357.6 859.0L358.0 859.3L358.4 859.0L358.0 854.5M1422.8 864.2L1428.2 874.4L1429.9 889.8L1423.0 900.7L1407.6 900.2L1392.2 907.8L1382.0 900.3L1386.0 889.8L1402.5 880.6L1416.5 874.4L1422.8 864.2M1591.3 874.4L1592.8 874.4L1612.3 889.8L1602.2 901.7L1598.0 905.1L1576.6 911.0L1573.2 910.2L1571.4 908.3L1566.3 908.9L1558.5 905.1L1566.3 904.4L1571.4 901.3L1576.6 899.7L1588.2 884.6L1590.7 879.5L1591.3 874.4M373.4 879.6L370.9 884.6L373.4 887.7L383.6 892.8L388.7 894.2L414.3 894.9L419.4 891.2L423.6 889.8L409.2 882.4L388.7 882.9L383.6 881.6L378.5 884.8L373.4 879.6M1542.0 910.2L1551.0 907.6L1556.0 910.2L1549.0 915.4L1547.4 920.5L1548.0 925.6L1551.0 926.8L1551.0 936.3L1547.2 935.8L1545.8 929.6L1540.5 925.6L1538.6 920.5L1539.6 915.4L1542.0 910.2M547.4 927.7L539.2 935.9L544.2 966.6L548.3 976.8L552.6 981.4L555.0 981.9L552.6 982.9L547.4 982.1L543.5 987.1L532.1 994.5L530.7 997.3L532.1 999.0L537.2 1000.1L542.3 1000.1L550.7 997.3L554.6 992.2L557.7 983.8L562.8 986.5L567.9 983.7L569.4 981.9L571.3 966.6L569.7 951.2L567.9 947.2L559.9 935.9L547.4 927.7M1638.0 1026.0L1627.8 1020.8L1626.2 1017.8L1620.4 1012.7L1626.1 997.3L1638.0 988.7M1565.7 1058.8L1566.3 1058.0L1568.7 1058.8L1566.3 1063.0L1565.7 1058.8M1569.4 1063.9L1571.8 1063.9L1572.5 1069.0L1571.4 1075.6L1569.7 1069.0L1569.4 1063.9M1573.2 1079.2L1576.6 1077.6L1585.6 1084.4L1581.7 1086.9L1575.4 1084.4L1573.2 1079.2M1305.2 1130.4L1309.0 1140.7L1309.5 1145.8L1305.2 1152.8L1295.2 1176.5L1300.4 1186.8L1304.5 1191.9L1315.4 1202.2L1330.8 1206.7L1348.6 1202.1L1351.4 1186.8L1348.6 1166.3L1331.9 1130.4L1330.8 1129.5L1305.2 1130.4M818.8 1139.0L816.3 1140.7L818.8 1143.1L820.8 1140.7L818.8 1139.0M486.0 1166.3L486.0 1166.3L486.0 1166.4L486.0 1166.3L486.0 1166.3M803.4 1210.0L798.3 1214.5L792.0 1222.6L770.1 1258.5L768.5 1263.6L768.2 1268.7L769.7 1273.8L772.7 1277.0L777.8 1277.6L783.0 1276.1L784.9 1273.8L793.2 1268.0L799.9 1258.5L801.1 1243.1L803.9 1238.0L813.7 1226.9L816.2 1222.6L816.3 1217.5L813.7 1208.6L808.6 1207.5L803.4 1210.0M921.2 1236.2L918.3 1238.0L911.0 1239.7L908.5 1243.1L894.6 1268.7L890.6 1273.8L880.2 1283.9L876.8 1289.2L871.6 1299.4L869.5 1304.5L870.0 1305.6L875.1 1306.6L885.4 1313.8L905.8 1312.1L911.0 1310.2L921.2 1300.8L924.3 1299.4L931.4 1286.4L940.6 1263.6L936.6 1244.7L935.5 1243.1L921.2 1236.2M793.2 1286.9L790.2 1289.2L793.2 1290.6L794.4 1289.2L793.2 1286.9M864.9 1308.7L863.0 1309.7L864.9 1311.5L866.6 1309.7L864.9 1308.7M859.8 1312.5L857.9 1314.8L859.8 1316.3L862.0 1314.8L859.8 1312.5M854.6 1318.9L851.9 1319.9L854.6 1320.7L855.4 1319.9L854.6 1318.9M739.0 1366.0L739.0 1355.8L737.4 1345.5L740.9 1340.4L747.1 1335.1L776.1 1294.3L784.4 1289.2L783.0 1282.2L777.8 1284.1L772.7 1279.8L762.5 1276.1L750.1 1278.9L746.1 1278.9L740.3 1273.8L731.5 1258.5L707.2 1243.1L694.6 1227.7L685.7 1223.0L660.1 1215.9L629.4 1205.6L608.9 1202.2L593.5 1201.5L542.3 1184.2L516.7 1170.2L491.1 1169.4L486.0 1172.1L480.9 1172.4L424.6 1171.4L409.2 1173.6L378.5 1173.5L347.8 1175.6L332.4 1165.7L317.0 1168.6L301.7 1158.3L286.5 1166.3L271.0 1169.3L264.6 1166.3L265.8 1163.7L271.0 1156.4L276.1 1152.4L281.0 1150.9L271.0 1137.2L255.6 1127.3L240.2 1124.1L232.8 1120.2L224.9 1110.3L209.5 1114.2L194.2 1126.0L163.4 1115.6L148.1 1121.1L132.7 1112.7L102.0 1109.3M839.2 1366.0L838.4 1350.6L839.3 1345.5L841.4 1340.4L851.7 1325.0L849.5 1320.8L839.3 1325.9L815.1 1350.6L802.7 1360.9L794.9 1366.0"/>
<path class="p" d="M870.0 694.0L869.8 695.2L870.0 695.3L870.3 695.2L870.0 694.0M102.0 720.3L107.1 723.6L117.4 733.8L148.1 758.4L163.4 766.0L178.8 768.2L182.7 772.0L187.5 782.2L189.8 797.6L200.3 823.2L214.6 838.5L230.0 848.7L235.1 849.5L250.5 848.9L271.0 851.6L281.2 854.9L286.3 852.7L301.7 854.4L306.8 854.1L317.0 849.2L337.5 855.3L342.6 857.8L363.1 872.5L369.8 884.6L373.4 889.1L381.5 894.9L383.6 897.9L414.3 900.2L434.8 898.8L439.9 898.0L448.4 894.9L457.5 889.8L470.6 879.8L480.9 882.8L482.4 884.6L483.5 894.9L487.0 905.1L495.2 920.5L496.2 921.4L501.4 919.3L502.7 920.5L508.5 941.0L531.9 987.1L529.0 997.3L532.1 1001.1L535.0 1002.4L537.2 1005.9L552.6 1013.5L557.1 1017.8L559.6 1028.0L562.8 1033.1L578.2 1049.9L593.5 1058.7L618.4 1079.2L624.2 1080.4L629.4 1084.4L634.5 1080.3L634.5 1075.0L629.4 1076.4L625.7 1063.9L629.4 1062.6L631.1 1069.0L634.5 1073.1L639.6 1070.0L658.0 1063.9L661.0 1058.8L659.2 1053.6L655.0 1048.4L644.7 1044.0L639.6 1043.9L630.9 1048.5L627.0 1053.6L624.2 1062.4L623.3 1058.8L614.0 1049.7L603.8 1035.6L597.9 1017.8L598.5 997.3L605.5 981.9L597.2 951.2L593.0 920.5L590.1 915.4L569.3 905.1L569.3 889.8L562.8 884.3L547.4 887.5L501.4 880.1L496.2 880.7L485.5 879.5L486.0 875.2L491.1 876.1L496.2 874.4L501.4 878.9L501.4 873.9L485.8 874.4L480.9 876.4L475.8 874.3L470.6 878.8L467.2 869.3L462.0 859.0L465.5 843.7L473.9 828.3L475.8 826.3L485.5 823.2L486.0 821.3L501.4 815.4L547.4 802.2L578.2 797.5L593.5 787.7L614.0 781.9L629.4 781.0L631.8 782.2L628.9 787.3L633.6 792.5L635.3 797.6L624.2 804.7L619.4 813.0L624.2 814.8L639.6 814.9L648.3 807.8L655.0 800.8L665.2 797.9L671.0 797.6L671.2 792.5L670.3 790.9L667.5 792.5L665.2 795.3L664.0 792.5L660.1 788.9L656.6 787.3L655.0 784.4L644.7 783.9L643.5 782.2L649.8 779.8L652.6 777.1L655.0 776.5L669.2 766.9L669.0 756.6L665.5 751.5L701.0 741.9L718.2 736.1L714.1 720.8L736.9 703.2L752.2 700.7L757.4 704.2L762.5 711.2L767.6 715.2L777.8 716.9L783.0 716.1L798.3 707.2L800.2 705.4L803.4 696.0L808.6 691.1L813.7 692.9L829.0 695.6L834.2 692.6L849.5 686.7L875.1 690.5L879.5 684.9L912.6 659.3L930.3 644.0L946.8 641.3L953.0 644.0L946.8 659.4L957.0 659.2L962.2 657.0L965.0 659.3L965.1 664.4L968.1 674.7L963.5 690.1L955.3 705.4L1008.2 729.4L1012.7 736.1L1013.4 741.0L1018.5 740.4L1027.8 736.1L1044.1 733.0L1054.3 730.0L1060.5 725.9L1064.6 720.2L1090.2 720.4L1090.2 723.7L1086.8 725.9L1090.2 729.2L1091.7 736.1L1103.7 746.4L1126.0 752.1L1150.9 741.3L1151.9 736.1L1161.8 718.1L1177.2 720.1L1197.7 739.3L1209.7 746.4L1207.9 747.7L1205.9 751.5L1207.9 756.7L1213.0 757.6L1219.6 772.0L1221.1 792.5L1223.0 797.6L1218.2 801.0L1202.8 805.1L1197.7 805.3L1194.9 807.8L1192.6 811.4L1190.3 813.0L1190.1 818.1L1192.0 828.3L1203.0 853.9L1203.6 859.0L1223.3 867.0L1233.5 874.4L1238.6 880.0L1239.6 879.5L1243.8 868.4L1254.0 837.0L1255.1 838.6L1279.6 840.4L1300.1 834.1L1310.3 835.1L1315.4 834.1L1323.9 843.7L1322.7 848.8L1320.1 889.8L1329.5 915.4L1336.4 930.7L1356.4 951.2L1346.2 966.4L1330.8 970.8L1315.4 964.0L1295.0 952.8L1269.4 936.1L1243.8 941.1L1238.6 945.8L1235.4 951.2L1243.8 966.5L1248.9 966.7L1254.0 968.6L1269.4 977.3L1277.1 987.1L1282.8 1002.4L1279.7 1028.0L1282.1 1038.3L1284.7 1040.6L1289.8 1041.5L1310.3 1036.0L1320.6 1034.4L1330.8 1034.8L1335.9 1036.3L1341.0 1039.2L1345.6 1043.4L1355.3 1058.8L1361.5 1064.6L1364.4 1069.0L1367.9 1079.2L1371.9 1084.4L1361.5 1093.7L1346.2 1079.2L1330.8 1092.7L1324.9 1084.4L1315.4 1074.5L1310.3 1077.5L1300.1 1081.5L1284.6 1099.7L1279.6 1103.6L1269.4 1105.6L1264.2 1113.7L1260.4 1120.2L1271.6 1140.7L1274.5 1145.0L1284.7 1151.1L1289.8 1152.6L1290.6 1156.0L1289.1 1161.2L1287.0 1181.7L1295.6 1197.0L1300.1 1201.9L1315.4 1213.8L1330.8 1217.4L1351.3 1215.1L1392.2 1201.0L1403.1 1186.8L1404.0 1181.7L1402.5 1176.5L1402.7 1171.4L1401.1 1166.3L1403.7 1161.2L1407.6 1156.2L1412.7 1155.2L1423.0 1151.1L1448.3 1166.3L1459.8 1176.5L1454.6 1191.9L1454.4 1197.0L1458.8 1197.9L1463.9 1202.8L1469.0 1203.0L1470.3 1207.3L1468.0 1227.7L1471.5 1227.7L1474.2 1225.7L1479.3 1225.8L1484.4 1224.4L1515.1 1249.5L1530.5 1237.4L1545.8 1248.6L1561.2 1240.6L1576.6 1247.3L1591.9 1247.3L1607.3 1238.6L1622.6 1242.1L1638.0 1233.4M1069.7 724.2L1068.2 725.9L1069.7 729.6L1072.5 725.9L1069.7 724.2M1074.8 730.9L1074.5 731.0L1074.8 732.3L1075.0 731.0L1074.8 730.9M395.8 736.1L400.1 736.1L403.7 741.3L399.7 746.4L398.5 766.9L409.2 777.3L424.6 787.5L429.7 783.5L434.8 781.4L438.7 766.9L436.1 761.7L428.2 751.5L429.7 749.0L434.8 748.0L439.9 742.6L455.3 749.9L491.4 751.5L491.1 753.3L486.0 754.2L460.4 778.1L455.3 782.5L447.1 787.3L445.0 790.2L440.8 787.3L439.9 783.9L434.8 786.3L436.6 792.5L437.0 797.6L434.4 818.1L428.9 838.6L419.4 854.0L414.7 864.2L413.5 869.3L409.2 871.9L383.6 876.1L378.5 880.2L376.1 874.4L374.3 864.2L364.1 838.6L347.8 834.3L332.4 820.2L313.2 813.0L317.0 811.5L321.5 807.8L321.1 802.7L317.0 796.6L311.9 793.8L306.2 797.6L304.7 802.7L306.8 804.5L310.1 813.0L306.8 813.5L305.3 813.0L301.7 808.2L300.0 807.8L294.5 797.6L309.6 782.2L319.7 766.9L342.6 746.9L358.0 745.2L395.8 736.1M1079.9 734.8L1076.0 736.1L1079.9 744.2L1082.0 746.4L1079.9 749.5L1074.8 751.0L1018.5 751.3L1013.4 746.6L1013.0 751.5L998.0 756.4L982.6 762.9L978.9 766.9L970.9 782.2L962.2 790.2L956.6 797.6L967.3 806.6L972.4 809.7L981.1 813.0L992.9 822.0L1008.2 819.1L1016.8 823.2L1023.6 834.2L1039.0 834.0L1054.3 836.4L1064.6 833.6L1069.9 833.4L1072.0 828.3L1074.1 807.8L1085.0 790.1L1089.9 766.9L1082.3 751.5L1085.0 749.7L1085.5 746.4L1085.0 743.8L1082.5 741.3L1081.7 736.1L1079.9 734.8M1210.6 751.5L1213.0 748.5L1216.2 751.5L1213.0 755.5L1210.6 751.5M122.5 760.1L118.8 761.7L118.2 766.9L122.5 770.9L127.6 772.5L129.0 772.0L132.7 767.2L131.5 761.7L127.6 757.5L122.5 760.1M254.4 838.6L255.6 834.9L257.1 838.6L254.4 838.6M1049.2 1051.6L1047.7 1053.6L1046.4 1058.8L1049.2 1061.3L1051.9 1058.8L1051.5 1053.6L1049.2 1051.6M1044.1 1062.1L1038.8 1069.0L1039.0 1070.1L1044.5 1069.0L1045.6 1063.9L1044.1 1062.1M818.8 1138.1L814.9 1140.7L818.8 1144.5L823.3 1145.8L823.9 1146.8L821.8 1140.7L818.8 1138.1M818.8 1154.9L817.3 1156.0L817.8 1166.3L818.8 1170.1L823.9 1169.5L823.9 1165.7L820.4 1161.2L823.9 1159.3L824.6 1156.0L823.9 1154.4L818.8 1154.9M1459.8 1181.7L1463.9 1179.3L1465.9 1181.7L1463.9 1185.0L1459.8 1181.7M744.3 1366.0L745.7 1345.5L762.5 1324.1L782.9 1294.3L788.1 1289.9L793.2 1292.0L795.7 1289.2L793.2 1284.6L790.5 1284.1L806.7 1258.5L809.0 1243.1L823.5 1222.6L823.1 1176.5L818.8 1172.1L813.0 1181.7L813.7 1187.2L798.3 1186.3L793.0 1176.5L790.3 1181.7L785.1 1186.8L780.2 1202.1L777.8 1204.8L762.5 1212.4L757.1 1197.0L750.0 1191.9L747.1 1190.7L731.8 1188.4L716.4 1184.0L701.0 1174.0L685.7 1165.9L670.3 1169.5L655.0 1153.5L649.8 1155.7L639.6 1157.5L624.2 1156.4L608.9 1163.9L593.5 1168.3L573.0 1163.5L549.3 1150.9L532.1 1137.2L501.4 1142.5L486.0 1143.6L455.3 1144.6L434.8 1143.5L419.4 1138.8L409.7 1130.4L402.4 1115.1L393.8 1101.7L378.5 1112.3L363.1 1117.9L348.8 1110.0L343.9 1104.8L340.3 1079.2L340.4 1074.1L337.5 1070.3L332.4 1070.9L301.7 1063.0L260.7 1058.3L235.1 1042.5L189.0 1021.3L163.4 1014.2L143.0 1019.1L117.4 1023.0L102.0 1015.4M861.5 1366.0L868.8 1335.3L870.0 1334.0L879.6 1340.4L880.2 1341.8L885.4 1342.0L886.1 1340.4L895.6 1332.9L900.7 1330.9L916.1 1327.8L923.7 1319.9L926.3 1318.5L928.9 1314.8L944.1 1299.4L946.8 1295.2L948.9 1294.3L951.8 1289.2L950.7 1284.1L949.1 1258.5L940.4 1227.7L943.4 1222.6L949.5 1207.3L962.2 1196.2L986.0 1181.7L993.1 1171.4L998.4 1156.0L998.0 1152.5L990.2 1140.7L986.1 1125.3L985.6 1120.2L987.8 1117.5L990.5 1120.2L992.9 1124.9L998.0 1128.2L1003.1 1126.7L1008.2 1122.6L1018.5 1107.1L1023.6 1102.2L1028.7 1099.2L1033.1 1094.6L1031.0 1084.4L1037.4 1074.1L1033.8 1073.2L1029.5 1079.2L1003.1 1101.3L982.6 1117.1L957.0 1128.8L955.4 1130.4L954.4 1135.6L951.9 1140.7L951.8 1145.8L956.9 1150.9L967.5 1166.3L962.4 1171.4L946.8 1197.0L926.2 1217.5L887.0 1268.7L861.1 1299.4L829.0 1323.7L804.6 1350.6L794.3 1360.9L787.1 1366.0M955.6 1366.0L965.0 1355.8L963.0 1350.6L962.2 1343.3L959.8 1340.4L957.0 1339.7L933.9 1325.0L931.4 1320.7L925.6 1325.0L914.2 1345.5L912.2 1355.8L912.6 1366.0"/>
<path class="p" d="M102.0 722.2L107.1 725.1L117.4 734.9L148.1 759.7L163.4 768.3L178.8 769.2L181.7 772.0L186.4 787.3L187.6 797.6L190.3 807.8L195.6 823.2L205.4 833.4L225.1 848.8L230.0 851.2L235.1 851.7L250.5 850.5L271.0 852.6L281.2 856.5L286.3 854.8L301.6 864.2L301.7 869.5L301.7 864.2L311.9 857.8L317.0 853.5L332.4 859.2L350.2 869.3L368.2 883.7L373.4 890.7L378.1 894.9L383.6 902.6L388.7 901.4L424.6 907.6L434.8 920.3L440.8 920.5L465.5 913.7L475.8 914.6L486.0 919.4L498.4 935.9L512.3 961.5L527.0 991.9L527.3 997.3L530.5 1002.4L531.0 1007.5L532.1 1009.4L547.4 1023.3L551.0 1028.0L559.6 1043.4L575.6 1063.9L580.0 1074.1L565.0 1084.4L547.4 1097.9L501.4 1112.5L486.0 1114.7L455.3 1109.6L443.5 1099.7L436.0 1074.1L434.8 1071.9L428.6 1069.0L429.7 1067.1L439.9 1068.3L445.0 1067.0L455.5 1063.9L465.5 1059.2L465.5 1058.4L445.0 1052.0L424.6 1048.0L419.4 1046.2L399.0 1037.0L378.5 1025.7L332.4 1007.9L301.7 1014.4L235.1 998.8L224.9 992.5L204.4 994.1L199.3 993.7L178.8 990.9L143.0 983.9L122.5 977.6L102.0 966.3M117.4 756.5L112.2 757.9L107.2 761.7L107.6 766.9L112.7 772.0L122.5 776.4L127.6 777.4L132.7 776.7L136.4 772.0L133.9 761.7L127.6 755.3L117.4 756.5M350.9 761.7L363.1 757.8L376.4 766.9L373.1 772.0L369.3 782.2L373.4 785.4L379.5 792.5L383.3 802.7L382.7 807.8L381.1 813.0L378.5 816.2L373.4 816.8L369.2 823.2L370.7 828.3L373.4 829.5L378.5 819.2L383.6 817.5L388.7 821.3L393.8 827.2L396.6 833.4L396.5 838.6L393.8 844.9L388.7 849.2L383.6 849.3L378.5 846.6L368.2 830.2L361.0 828.3L344.9 818.1L340.5 807.8L338.3 802.7L337.0 792.5L341.3 766.9L342.6 763.0L347.8 763.6L350.9 761.7M531.5 859.0L537.2 857.6L552.6 863.2L553.7 864.2L555.2 869.3L557.7 871.1L559.0 874.4L532.1 874.6L513.5 864.2L531.5 859.0M1253.9 859.0L1269.4 858.4L1272.4 859.0L1272.6 864.2L1275.5 869.3L1272.4 879.5L1269.4 885.6L1265.5 884.6L1264.2 881.6L1263.6 874.4L1261.6 869.3L1253.9 859.0M1083.0 889.8L1085.0 889.0L1089.4 889.8L1090.2 894.6L1091.1 894.9L1085.0 893.9L1083.0 889.8M1254.0 889.8L1264.2 885.7L1265.4 889.8L1259.1 893.2L1254.0 889.8M408.5 1053.6L409.2 1052.9L411.4 1053.6L414.3 1057.7L420.3 1058.8L419.4 1062.5L414.3 1059.7L409.2 1059.6L408.0 1058.8L408.5 1053.6M420.8 1063.9L424.6 1063.0L427.0 1063.9L424.6 1065.4L420.8 1063.9M1213.0 1066.0L1210.3 1069.0L1208.8 1074.1L1207.4 1089.5L1207.9 1094.6L1213.0 1098.5L1218.2 1100.2L1223.3 1099.8L1226.7 1094.6L1227.2 1089.5L1231.5 1079.2L1232.1 1074.1L1229.6 1069.0L1223.3 1064.6L1218.2 1064.0L1213.0 1066.0M739.7 1089.5L742.0 1087.6L742.9 1089.5L754.7 1094.6L757.4 1096.8L765.6 1110.0L770.5 1120.2L765.6 1135.6L765.0 1140.7L762.5 1142.3L742.0 1149.7L716.4 1152.1L701.0 1143.1L695.9 1143.8L690.8 1142.6L687.9 1130.4L685.7 1126.5L679.5 1120.2L687.4 1110.0L695.9 1105.3L701.0 1101.2L739.7 1089.5M795.7 1145.8L803.4 1141.7L813.7 1141.1L818.7 1145.8L819.4 1150.9L813.7 1155.1L808.6 1157.4L803.4 1157.4L800.2 1156.0L795.2 1150.9L795.7 1145.8M1110.6 1190.5L1105.5 1192.5L1100.4 1196.9L1098.8 1202.1L1100.7 1207.3L1105.5 1211.2L1110.6 1213.2L1115.8 1213.1L1122.5 1207.3L1123.2 1197.0L1120.9 1191.7L1115.8 1190.0L1110.6 1190.5M1254.0 1212.1L1253.3 1212.4L1254.0 1212.9L1263.8 1212.4L1254.0 1212.1M1320.9 1227.7L1325.7 1226.9L1328.7 1227.7L1325.7 1229.0L1320.9 1227.7M748.0 1366.0L749.1 1350.6L751.2 1345.5L783.0 1302.4L785.5 1294.3L788.1 1292.1L793.2 1293.4L796.9 1289.2L795.9 1284.1L810.6 1258.5L813.2 1243.1L824.4 1227.7L826.8 1222.6L827.1 1156.0L825.7 1145.8L822.9 1140.7L818.8 1137.2L813.7 1140.1L803.4 1133.5L787.1 1115.1L762.5 1092.8L757.4 1091.9L755.8 1089.5L752.2 1088.8L731.8 1079.2L701.0 1069.4L690.8 1062.5L675.4 1051.1L649.8 1027.3L635.5 1017.8L622.4 1002.4L614.0 982.3L614.0 979.9L616.8 951.2L621.6 941.0L627.1 920.5L619.1 910.8L611.7 889.8L624.2 875.8L642.4 874.4L644.8 869.3L650.0 864.2L655.0 857.2L662.8 859.0L669.3 874.4L670.3 891.7L671.9 889.8L672.0 884.6L674.5 879.5L672.1 874.4L675.4 873.4L680.6 873.4L685.7 871.7L687.7 874.4L688.4 879.5L691.8 889.8L701.0 904.8L716.4 889.1L731.8 898.4L762.5 908.3L777.8 907.9L793.2 892.6L801.3 889.8L803.4 885.9L808.6 880.2L813.7 884.6L818.8 885.7L822.0 884.6L815.3 879.5L813.7 879.2L808.6 874.4L803.4 871.7L800.2 864.2L798.1 853.9L795.7 833.4L796.2 828.3L798.3 822.1L803.4 815.3L808.6 811.6L818.8 808.0L834.2 807.0L842.5 807.8L849.5 810.9L850.5 807.8L854.6 803.4L859.8 804.8L864.9 803.1L870.0 803.0L866.0 797.6L865.6 792.5L866.3 787.3L870.0 776.7L864.9 776.2L854.6 769.6L849.5 769.5L848.5 766.9L849.5 766.0L854.6 765.8L869.2 761.7L880.2 759.8L899.7 751.5L901.6 741.3L900.6 736.1L916.1 726.4L941.7 729.9L962.2 735.1L977.5 737.5L989.4 751.5L982.6 752.5L941.7 763.3L922.3 772.0L926.3 774.8L927.2 777.1L936.6 785.4L937.6 787.3L951.9 795.4L952.3 797.6L958.3 802.7L958.9 807.8L962.6 813.0L962.2 814.7L941.7 819.4L926.3 824.8L916.1 822.4L905.8 831.2L885.4 837.3L875.1 838.0L864.9 836.9L856.0 813.0L854.6 811.0L850.6 813.0L849.5 813.8L848.9 818.1L845.7 823.2L847.5 828.3L854.6 837.3L859.8 837.4L863.0 838.6L859.8 839.1L852.9 853.9L846.4 864.2L839.3 872.0L824.6 884.6L827.5 905.1L834.2 906.6L839.3 909.1L854.6 900.3L864.9 898.8L870.0 896.9L870.8 894.9L886.1 884.6L900.7 871.5L962.2 879.0L973.3 884.6L977.5 887.8L987.8 883.9L1003.1 886.9L1008.2 886.5L1023.6 900.7L1033.8 907.5L1039.0 907.7L1069.7 913.2L1074.8 913.3L1079.9 917.0L1085.0 922.8L1101.3 905.1L1100.4 900.1L1097.9 894.9L1095.3 893.8L1092.8 889.8L1100.4 889.4L1110.6 892.2L1112.4 894.9L1116.2 894.9L1115.8 890.9L1113.9 889.8L1113.4 884.6L1108.6 869.3L1104.0 864.2L1104.5 859.0L1100.4 857.4L1091.8 843.7L1100.4 836.4L1115.8 835.3L1126.0 833.5L1131.1 828.9L1134.9 823.2L1131.1 822.5L1129.6 823.2L1122.5 828.3L1120.9 832.1L1119.6 828.3L1115.8 825.9L1115.0 823.2L1110.6 816.6L1104.7 802.7L1103.9 797.6L1104.4 792.5L1110.6 785.7L1115.8 784.4L1120.9 784.7L1126.0 787.1L1130.8 792.5L1133.2 797.6L1135.1 807.8L1135.0 818.1L1136.2 822.4L1146.5 823.1L1158.1 828.3L1161.2 833.4L1164.7 843.7L1161.8 844.9L1156.7 845.1L1146.5 850.4L1126.0 850.9L1120.9 852.2L1115.8 855.0L1110.6 856.1L1107.4 859.0L1114.5 864.2L1115.8 868.7L1120.9 866.7L1146.5 861.7L1177.2 868.3L1205.8 889.8L1202.8 904.2L1177.2 910.5L1174.8 915.4L1169.6 920.5L1173.4 930.7L1173.6 935.9L1187.4 940.8L1192.6 939.4L1195.5 935.9L1207.9 925.9L1218.2 932.0L1222.6 935.9L1218.3 946.1L1218.1 951.2L1223.3 954.7L1233.5 965.1L1245.6 981.9L1254.2 992.2L1256.0 997.3L1256.2 1022.9L1261.3 1053.6L1261.4 1063.9L1257.1 1079.2L1245.2 1104.8L1244.2 1115.1L1247.1 1130.4L1256.6 1150.9L1259.1 1167.1L1260.7 1171.4L1266.7 1181.7L1270.6 1191.9L1270.9 1197.0L1269.9 1202.1L1268.0 1207.3L1264.7 1212.4L1284.7 1213.1L1315.4 1227.1L1319.7 1227.7L1315.4 1228.0L1313.8 1232.9L1320.6 1234.3L1328.8 1232.9L1330.8 1229.2L1346.2 1232.3L1376.9 1236.7L1392.2 1229.4L1407.6 1224.8L1438.3 1229.2L1453.7 1246.1L1484.4 1253.8L1499.8 1252.6L1515.1 1264.5L1530.5 1260.0L1545.8 1268.2L1556.1 1278.0L1572.2 1289.2L1576.6 1294.2L1591.9 1320.0L1606.7 1314.8L1622.6 1301.3L1626.0 1304.5L1638.0 1312.5M973.5 1366.0L980.6 1355.8L982.9 1350.6L984.2 1345.5L984.1 1340.4L980.3 1330.2L970.1 1314.8L966.0 1304.5L962.8 1278.9L961.6 1258.5L958.6 1243.1L959.2 1227.7L961.2 1222.6L961.6 1217.5L964.7 1212.4L967.3 1210.6L972.4 1210.5L984.3 1202.1L997.6 1181.7L1006.8 1171.4L1013.4 1156.9L1018.5 1149.6L1023.6 1146.9L1028.7 1148.0L1030.6 1150.9L1039.0 1153.5L1044.1 1150.9L1039.0 1145.2L1028.7 1142.5L1027.4 1140.7L1024.5 1135.6L1023.5 1120.2L1024.0 1115.1L1026.2 1110.0L1028.7 1108.0L1033.8 1106.5L1039.0 1103.6L1044.0 1099.7L1036.1 1084.4L1038.8 1079.2L1044.1 1074.7L1048.2 1069.0L1049.8 1063.9L1054.7 1058.8L1054.3 1050.7L1049.2 1047.2L1044.6 1053.6L1043.4 1058.8L1039.0 1064.6L1008.2 1091.3L998.0 1099.9L982.6 1110.8L972.4 1117.4L957.0 1124.8L951.9 1129.7L948.7 1140.7L948.9 1145.8L959.8 1161.2L961.1 1166.3L958.5 1171.4L941.7 1195.4L920.9 1217.5L911.0 1231.3L908.5 1238.0L905.8 1241.9L894.1 1253.3L869.6 1284.1L854.4 1299.4L827.4 1319.9L783.2 1366.0"/>
<path class="p" d="M102.0 724.0L105.6 725.9L148.1 761.0L159.3 766.9L163.4 770.9L178.8 770.2L180.6 772.0L180.9 777.1L184.3 787.3L189.0 821.6L192.1 828.3L209.5 839.6L224.9 852.6L235.1 853.9L250.5 852.1L271.0 853.6L276.1 856.5L281.2 858.0L286.3 857.5L288.5 859.0L289.7 864.2L296.6 867.5L301.7 871.6L304.9 869.3L306.8 866.4L317.0 860.1L322.2 860.6L332.2 864.2L347.8 873.1L363.7 884.6L368.2 885.4L376.0 894.9L378.5 903.2L383.6 907.4L388.7 907.0L402.3 910.2L410.6 915.4L423.6 935.8L429.7 940.4L434.8 941.7L439.9 941.4L445.0 940.0L465.5 929.9L475.8 927.9L480.9 929.1L503.5 956.3L518.7 987.1L528.8 1017.8L525.0 1033.1L521.8 1036.1L506.5 1045.7L486.0 1049.4L486.0 1046.4L489.2 1043.4L489.8 1038.3L488.5 1033.1L486.0 1030.4L465.5 1020.0L434.8 1010.1L410.9 997.3L378.5 978.0L363.1 966.7L358.0 968.0L347.8 968.2L332.4 975.9L301.7 974.8L281.2 977.1L250.5 971.0L224.9 961.4L204.4 956.1L148.1 947.1L102.0 950.3M117.4 745.9L116.0 746.4L117.4 749.6L117.7 746.4L117.4 745.9M102.0 775.3L122.5 780.9L132.7 782.1L137.8 780.3L140.0 777.1L140.2 772.0L135.5 761.7L127.6 753.7L122.5 754.5L112.2 749.5L107.1 749.9L102.0 748.1M209.5 868.6L209.5 869.8L211.0 869.3L209.5 868.6M1145.7 900.0L1147.0 900.0L1147.3 920.5L1157.0 935.9L1167.0 946.2L1177.2 953.8L1184.6 966.6L1177.2 981.3L1161.8 976.9L1141.4 965.4L1126.0 949.5L1120.9 939.3L1118.2 935.9L1124.7 915.4L1131.1 908.2L1141.4 904.3L1145.7 900.0M1216.4 1033.1L1223.3 1034.9L1228.4 1037.5L1233.5 1041.8L1237.5 1048.5L1238.5 1053.6L1234.7 1058.8L1232.9 1058.8L1216.8 1043.4L1212.6 1038.3L1213.0 1035.6L1216.4 1033.1M705.0 1115.1L706.2 1113.9L711.3 1113.2L714.2 1115.1L714.3 1120.2L711.3 1123.0L706.2 1122.1L704.7 1120.2L705.0 1115.1M810.3 1130.4L813.7 1125.7L815.9 1130.4L822.7 1135.6L813.7 1136.3L810.3 1130.4M808.0 1145.8L813.7 1143.6L816.1 1145.8L813.7 1151.2L811.8 1150.9L808.6 1147.6L808.0 1145.8M1100.4 1175.8L1090.2 1178.2L1085.0 1180.4L1076.2 1186.8L1072.2 1191.9L1070.5 1197.0L1071.0 1202.1L1073.4 1207.3L1077.7 1212.4L1084.6 1217.5L1090.2 1219.8L1100.4 1222.0L1105.5 1222.2L1115.8 1220.4L1121.0 1217.5L1126.7 1212.4L1134.7 1197.0L1143.9 1186.8L1145.4 1181.7L1143.8 1176.5L1141.4 1174.4L1136.2 1172.3L1100.4 1175.8M1028.7 1180.4L1027.7 1181.7L1028.4 1186.8L1009.9 1197.0L1009.9 1202.1L1018.5 1202.9L1023.6 1200.5L1027.3 1197.0L1028.6 1191.9L1028.7 1180.4M751.1 1366.0L752.4 1350.6L785.5 1304.5L788.1 1294.3L793.2 1295.7L798.2 1289.2L802.3 1278.9L812.0 1263.6L813.8 1258.5L816.7 1243.1L824.7 1232.9L830.2 1222.6L830.8 1186.8L830.2 1150.9L824.0 1140.7L825.8 1130.4L823.9 1126.6L818.8 1123.8L813.7 1124.4L788.3 1099.7L762.5 1080.7L731.8 1068.6L701.0 1057.9L675.4 1043.5L664.1 1033.1L663.7 1028.0L660.6 1022.9L655.0 1022.7L649.3 1017.8L647.6 1012.7L647.6 1007.5L649.8 997.6L655.0 997.4L659.2 1007.5L662.9 1012.7L663.3 1017.8L665.2 1022.9L667.9 1017.8L669.1 1007.5L665.8 997.3L665.2 996.3L660.1 994.3L655.0 997.2L649.8 997.2L639.6 998.4L638.6 997.3L636.1 971.7L634.5 966.4L638.2 961.5L655.0 953.9L670.3 951.1L701.0 963.8L731.8 952.3L762.5 957.6L793.2 944.9L808.6 943.3L885.4 915.1L894.9 920.5L900.7 925.9L916.1 919.1L962.2 925.9L992.9 924.8L1008.2 929.9L1039.0 944.2L1069.7 955.2L1085.0 966.9L1090.2 969.6L1115.8 977.2L1136.2 992.8L1155.3 1002.4L1177.2 1003.7L1187.4 1015.2L1207.9 1028.0L1211.9 1033.1L1202.8 1035.8L1197.7 1039.1L1192.6 1045.6L1191.4 1048.5L1190.4 1053.6L1190.9 1058.8L1199.4 1079.2L1203.7 1094.6L1216.4 1104.8L1231.6 1120.2L1244.4 1161.2L1238.6 1179.5L1221.1 1181.7L1228.4 1185.6L1233.5 1185.7L1238.6 1184.0L1239.4 1186.8L1254.0 1196.8L1255.8 1202.1L1254.9 1207.3L1254.0 1207.7L1238.6 1205.6L1228.4 1193.9L1215.1 1181.7L1207.9 1181.0L1197.7 1182.3L1192.6 1184.6L1187.4 1189.4L1182.3 1202.1L1181.9 1207.3L1182.9 1212.4L1187.4 1219.8L1192.3 1222.6L1197.7 1223.9L1206.4 1222.6L1216.4 1217.5L1228.4 1209.5L1233.5 1208.8L1234.6 1212.4L1238.6 1214.7L1241.3 1217.5L1248.9 1220.0L1284.7 1222.6L1305.2 1231.4L1310.3 1232.2L1315.4 1235.2L1341.0 1240.2L1361.5 1242.1L1363.2 1243.1L1359.2 1248.2L1360.3 1253.3L1358.2 1258.5L1360.0 1263.6L1367.2 1273.8L1371.8 1276.6L1382.6 1273.8L1382.1 1263.6L1380.1 1258.5L1382.0 1256.5L1392.2 1253.5L1407.6 1236.6L1423.0 1240.9L1438.3 1249.7L1469.0 1274.8L1484.4 1279.1L1499.8 1288.0L1525.4 1281.2L1527.4 1284.1L1535.3 1289.2L1539.5 1294.3L1544.4 1309.7L1545.8 1311.1L1551.0 1305.8L1554.3 1304.5L1561.2 1298.2L1563.1 1299.4L1574.9 1314.8L1586.8 1335.1L1591.9 1334.9L1622.6 1342.6L1627.8 1338.1L1638.0 1331.8M981.2 1366.0L1003.1 1346.4L1057.0 1319.9L1059.4 1316.2L1064.6 1316.6L1067.5 1314.8L1064.6 1312.9L1059.4 1313.1L1054.3 1310.3L1044.1 1301.9L1039.0 1299.1L1033.8 1303.7L1021.3 1309.7L1008.2 1312.6L993.6 1299.4L987.8 1296.2L982.6 1295.1L976.9 1284.1L977.5 1280.3L981.6 1273.8L980.5 1268.7L972.4 1249.6L966.0 1227.7L968.8 1222.6L969.3 1217.5L992.9 1205.4L1001.7 1202.1L1007.2 1197.0L1003.5 1191.9L1003.1 1186.8L1006.8 1181.7L1008.2 1180.3L1013.4 1178.5L1018.5 1177.8L1023.6 1179.5L1026.9 1176.5L1027.5 1171.4L1023.6 1166.2L1039.9 1161.2L1047.2 1150.9L1038.9 1130.4L1041.3 1110.0L1044.1 1106.3L1046.4 1099.7L1045.8 1094.6L1040.6 1084.4L1053.0 1069.0L1053.2 1063.9L1056.1 1058.8L1056.9 1053.6L1056.7 1048.5L1054.8 1043.4L1049.2 1041.0L1044.1 1046.1L1041.4 1058.8L1039.0 1061.8L992.8 1099.7L977.5 1110.5L951.0 1125.3L947.9 1130.4L946.3 1135.6L945.3 1140.7L945.7 1145.8L957.0 1162.0L958.5 1166.3L957.0 1168.8L951.9 1173.7L947.2 1181.7L936.6 1196.2L916.3 1217.5L908.9 1227.7L905.8 1239.0L900.7 1241.6L895.6 1246.0L864.5 1284.1L854.9 1294.3L823.9 1318.1L779.4 1366.0"/>
<path class="p" d="M102.0 783.5L117.4 784.5L137.8 787.9L153.2 783.9L158.3 780.2L158.9 777.1L153.7 777.1L148.1 780.0L137.2 761.7L127.6 752.1L122.5 752.7L120.4 751.5L120.6 746.4L117.4 742.3L112.2 743.6L107.1 742.8L105.5 741.3L104.7 736.1L102.4 731.0L107.1 730.4L117.4 740.0L123.0 741.3L135.8 751.5L148.1 763.2L156.3 766.9L163.4 773.8L178.8 771.3L179.5 772.0L178.6 777.1L180.5 782.2L182.0 792.5L183.4 828.3L189.0 833.5L209.5 842.9L224.9 857.8L235.1 858.8L250.5 853.7L265.8 854.6L278.9 859.0L301.7 873.7L317.0 864.7L332.4 870.2L355.1 884.6L356.3 889.8L350.7 894.9L348.5 900.0L348.5 905.1L352.9 913.5L358.0 915.5L363.1 913.9L369.8 905.1L371.8 900.0L368.2 898.8L363.1 893.0L358.7 889.8L363.1 887.4L368.2 886.5L374.0 894.9L373.8 905.1L386.3 920.5L386.7 925.6L383.6 930.8L372.9 935.9L377.8 941.0L378.5 944.6L383.6 949.5L383.9 951.2L377.1 951.2L347.8 946.1L332.4 945.0L295.7 951.2L260.7 951.4L261.0 930.7L260.2 925.6L261.5 920.5L260.7 919.3L240.2 912.9L230.0 910.6L224.9 908.4L194.2 917.3L179.5 915.4L183.9 914.1L194.2 909.0L199.3 903.1L203.5 879.5L199.3 875.2L189.0 878.6L178.8 878.6L173.7 879.7L143.0 865.2L102.0 849.1M250.5 861.0L245.4 864.3L240.2 865.5L230.0 871.2L226.0 874.4L224.9 876.6L224.3 874.4L218.9 874.4L219.8 877.4L223.9 879.5L230.0 884.5L235.1 885.2L240.2 882.6L250.5 873.6L252.1 869.3L252.6 864.2L250.5 861.0M209.5 864.8L206.4 869.3L209.5 872.8L214.6 871.5L215.9 869.3L214.6 867.0L209.5 864.8M102.0 909.3L117.4 908.7L132.7 909.9L148.1 914.8L152.7 915.4L132.7 918.5L102.0 915.1M153.4 915.4L163.4 913.0L178.1 915.4L163.4 916.4L153.4 915.4M469.6 946.1L475.8 942.0L480.9 941.2L486.0 942.9L500.0 966.6L507.4 987.1L501.4 1010.6L491.1 998.0L486.0 985.6L472.3 976.8L467.7 971.7L465.5 967.4L464.2 961.5L464.6 956.3L466.3 951.2L469.6 946.1M828.3 1135.6L829.0 1133.3L833.4 1140.7L832.3 1145.8L829.0 1146.1L825.8 1140.7L828.3 1135.6M839.3 1243.0L834.2 1245.3L831.9 1248.2L831.1 1253.3L834.2 1257.9L839.3 1259.8L844.4 1254.9L844.9 1253.3L844.4 1247.4L839.3 1243.0M992.1 1258.5L992.9 1255.3L997.3 1258.5L992.9 1259.3L992.1 1258.5M1074.8 1318.6L1070.3 1319.9L1074.8 1324.8L1076.0 1319.9L1074.8 1318.6M755.0 1366.0L756.1 1350.6L790.1 1304.5L817.0 1263.6L819.3 1253.3L819.2 1248.2L829.4 1232.9L834.1 1227.7L833.4 1150.9L834.2 1146.5L844.4 1147.7L848.3 1150.9L849.7 1156.0L849.1 1161.2L846.1 1171.4L846.1 1176.5L849.5 1179.6L854.6 1181.4L859.8 1180.8L869.8 1176.5L875.5 1171.4L890.5 1151.9L916.1 1158.7L921.2 1158.4L924.7 1156.0L931.1 1145.8L929.0 1130.4L931.4 1124.7L936.5 1120.2L935.6 1115.1L931.4 1106.9L926.3 1101.3L921.2 1099.0L916.1 1098.9L911.0 1100.8L905.8 1104.9L900.7 1112.0L896.8 1120.2L895.9 1135.6L890.5 1148.5L885.4 1147.4L883.9 1145.8L870.0 1138.2L859.8 1134.2L844.4 1130.2L834.2 1131.0L825.8 1115.1L788.1 1073.5L783.0 1069.3L764.4 1058.8L747.1 1046.5L716.4 1045.2L701.0 1048.4L677.9 1028.0L685.7 1017.5L716.4 1021.7L734.2 1007.5L762.5 999.1L776.4 1007.5L777.8 1009.9L783.0 1009.2L784.1 1007.5L793.2 1001.9L810.8 987.1L829.0 973.8L849.5 965.9L875.1 958.2L885.4 956.7L895.6 957.9L900.7 959.5L916.1 949.2L931.4 949.3L946.8 946.1L962.2 949.4L987.8 951.6L1008.2 955.5L1023.6 966.4L1039.0 972.9L1069.7 978.3L1100.4 992.0L1114.6 997.3L1131.1 1012.4L1126.5 1017.8L1122.6 1028.0L1115.8 1037.2L1100.4 1042.0L1085.0 1043.1L1084.2 1053.6L1082.7 1058.8L1078.4 1063.9L1079.9 1068.6L1085.0 1064.8L1100.4 1059.9L1115.8 1066.5L1146.5 1070.9L1177.2 1072.5L1187.4 1079.6L1195.5 1094.6L1205.9 1099.7L1211.0 1104.8L1223.9 1130.4L1228.0 1135.6L1222.3 1140.7L1197.7 1157.4L1192.6 1159.1L1161.8 1162.9L1136.2 1158.4L1115.8 1162.8L1085.0 1156.2L1069.7 1163.3L1059.4 1163.9L1054.3 1166.1L1049.9 1156.0L1050.7 1150.9L1049.2 1144.6L1054.3 1145.4L1059.4 1141.6L1064.6 1143.4L1065.6 1140.7L1060.0 1135.6L1048.6 1120.2L1047.2 1115.1L1047.9 1110.0L1047.2 1104.8L1048.8 1099.7L1049.2 1090.9L1050.9 1084.4L1054.3 1079.5L1064.6 1074.8L1069.7 1074.6L1074.8 1069.3L1077.9 1069.0L1069.7 1069.0L1064.6 1073.5L1059.4 1073.0L1056.3 1063.9L1059.4 1050.2L1062.5 1043.4L1062.8 1038.3L1059.4 1031.7L1054.3 1028.6L1049.2 1028.8L1044.1 1032.6L1041.2 1038.3L1040.0 1043.4L1039.0 1059.3L1017.7 1074.1L987.8 1098.9L972.5 1110.0L950.9 1120.2L943.8 1125.3L940.1 1140.7L940.9 1145.8L954.6 1166.3L949.4 1171.4L936.6 1190.7L915.3 1212.4L879.5 1258.5L854.3 1289.2L849.4 1294.3L821.2 1314.8L774.3 1366.0M989.8 1366.0L1008.2 1355.9L1018.5 1347.4L1033.8 1341.9L1049.2 1332.2L1057.3 1325.0L1064.6 1320.3L1069.7 1319.4L1071.2 1314.8L1054.3 1300.0L1040.7 1294.3L1025.7 1284.1L1003.1 1263.8L997.7 1263.6L998.0 1260.2L1003.1 1263.3L1016.9 1253.3L1018.4 1248.2L1008.2 1236.5L998.0 1230.9L997.1 1232.9L991.4 1238.0L989.0 1243.1L989.8 1248.2L989.4 1253.3L987.8 1253.6L982.6 1245.8L976.8 1232.9L971.9 1227.7L974.2 1222.6L975.0 1217.5L977.5 1216.1L992.9 1212.4L994.5 1217.5L1003.1 1230.8L1008.2 1230.8L1013.4 1232.0L1021.2 1238.0L1021.4 1243.1L1019.0 1248.2L1023.6 1253.4L1039.0 1238.8L1054.3 1247.4L1069.7 1238.8L1100.4 1233.6L1115.8 1229.2L1131.1 1220.3L1146.5 1196.6L1156.7 1198.7L1161.8 1197.5L1167.0 1210.2L1167.0 1213.6L1156.7 1228.1L1155.0 1232.9L1156.8 1243.1L1161.8 1246.9L1167.0 1248.3L1172.1 1248.2L1181.2 1243.1L1182.3 1241.4L1184.4 1243.1L1182.9 1248.2L1189.5 1253.3L1192.6 1258.4L1199.9 1273.8L1203.8 1289.2L1213.0 1300.5L1218.2 1297.4L1233.5 1293.4L1240.6 1284.1L1233.5 1280.1L1228.4 1275.7L1223.3 1274.1L1222.9 1268.7L1223.3 1257.8L1236.7 1243.1L1238.6 1239.7L1254.0 1246.3L1255.1 1248.2L1252.1 1253.3L1251.0 1258.5L1254.0 1261.1L1264.2 1253.4L1269.3 1248.2L1289.8 1239.7L1295.0 1238.4L1315.4 1236.7L1334.3 1243.1L1340.6 1263.6L1348.9 1278.9L1361.5 1288.7L1364.9 1289.2L1361.5 1291.8L1356.4 1293.2L1346.2 1294.8L1341.0 1294.6L1325.7 1302.7L1324.2 1304.5L1326.1 1309.7L1325.7 1315.4L1330.8 1318.2L1341.0 1321.7L1376.9 1336.5L1392.2 1338.3L1402.5 1335.0L1405.3 1330.2L1401.6 1314.8L1392.8 1299.4L1376.9 1291.9L1371.8 1292.5L1366.4 1294.3L1367.2 1289.2L1387.1 1284.4L1402.5 1273.1L1404.9 1268.7L1407.6 1260.5L1423.0 1259.1L1448.6 1269.6L1469.0 1281.1L1499.8 1295.5L1520.2 1291.5L1525.4 1291.5L1526.4 1294.3L1535.1 1304.5L1551.7 1319.9L1554.5 1325.0L1561.0 1350.6L1561.2 1356.7L1569.2 1350.6L1571.4 1350.1L1574.3 1345.5L1576.6 1344.5L1591.9 1353.2L1607.3 1357.5L1622.6 1353.2L1638.0 1366.0"/>
<path class="p" d="M129.4 751.5L132.7 750.1L134.4 751.5L132.7 755.5L129.4 751.5M133.9 756.6L137.8 754.9L139.8 756.6L137.8 760.0L133.9 756.6M140.6 761.7L143.0 760.7L144.3 761.7L143.0 766.6L140.6 761.7M145.6 766.9L149.5 766.9L149.1 772.0L148.0 772.0L145.6 766.9M154.1 772.0L158.3 770.7L159.6 772.0L158.3 773.6L154.1 772.0M163.2 777.1L163.4 776.9L167.4 777.1L163.4 779.0L163.2 777.1M102.0 792.0L117.4 789.6L122.5 790.0L143.0 798.5L148.1 799.2L153.2 798.7L158.3 796.5L162.5 792.5L168.6 779.8L173.7 780.6L175.4 782.2L175.7 787.3L176.7 818.1L175.8 823.2L186.6 838.6L189.0 840.8L202.8 848.8L208.4 853.9L209.5 858.4L214.6 856.8L216.8 859.0L214.6 860.4L209.5 859.1L205.0 864.2L203.6 869.3L199.3 872.3L191.1 869.3L178.8 861.6L178.4 864.2L173.7 869.3L168.6 870.9L163.4 870.7L161.2 869.3L157.5 864.2L156.7 859.0L158.3 854.9L165.9 848.8L158.3 846.1L132.7 840.3L102.0 835.2M168.6 852.9L167.9 853.9L173.7 859.2L174.9 859.0L176.0 853.9L173.7 852.1L168.6 852.9M259.0 859.0L265.8 857.3L272.4 859.0L276.1 863.9L281.2 867.1L291.4 869.4L296.6 872.2L301.7 876.6L307.3 879.5L317.0 889.6L318.8 889.8L317.0 891.3L315.6 900.0L317.7 905.1L322.2 906.6L323.6 910.2L324.5 915.4L322.2 918.3L317.0 919.6L311.5 915.4L307.7 910.2L306.8 907.6L300.3 910.2L286.3 911.2L281.2 912.4L276.1 910.9L265.8 902.1L263.8 900.0L263.6 894.9L266.0 879.5L271.0 875.1L273.9 869.3L270.9 869.3L265.8 873.0L260.7 866.7L259.0 859.0M218.2 864.2L219.8 861.7L222.1 869.3L219.8 871.1L218.3 869.3L218.2 864.2M206.6 879.5L209.5 875.9L214.6 878.8L214.5 884.6L209.5 888.1L206.6 879.5M363.6 889.8L368.2 887.6L370.1 889.8L368.6 894.9L363.6 889.8M286.3 899.6L286.3 902.0L291.4 905.9L292.3 905.1L293.1 900.0L291.4 899.0L286.3 899.6M311.9 904.2L308.8 905.1L311.9 906.3L315.1 905.1L311.9 904.2M979.7 1012.7L987.8 1009.9L998.0 1009.6L1008.2 1013.1L1018.5 1019.6L1023.6 1025.0L1028.7 1033.5L1033.8 1046.8L1035.1 1053.6L1032.5 1058.8L998.0 1082.2L972.4 1103.0L962.2 1108.3L956.1 1110.0L951.9 1108.5L949.2 1104.8L947.2 1094.6L948.6 1084.4L951.9 1076.2L956.8 1069.0L957.4 1063.9L955.5 1048.5L956.6 1038.3L960.9 1028.0L965.0 1022.9L970.8 1017.8L979.7 1012.7M867.2 1038.3L870.0 1036.7L871.7 1038.3L870.7 1043.4L870.0 1044.6L864.9 1047.3L861.1 1043.4L864.9 1042.0L867.2 1038.3M830.9 1043.4L834.2 1041.7L839.3 1042.0L859.4 1048.5L852.3 1058.8L852.6 1063.9L859.8 1073.3L864.6 1084.4L865.6 1089.5L864.9 1094.0L854.6 1092.1L849.1 1089.5L848.6 1069.0L844.4 1065.9L829.3 1058.8L830.9 1043.4M1063.6 1053.6L1064.6 1052.5L1068.6 1053.6L1070.3 1058.8L1064.6 1064.7L1059.4 1064.1L1059.4 1056.6L1063.6 1053.6M1094.1 1074.1L1105.5 1070.8L1132.7 1089.5L1146.5 1107.9L1149.2 1110.0L1177.2 1121.7L1192.6 1140.3L1195.7 1150.9L1146.5 1149.9L1095.3 1144.8L1079.9 1140.3L1074.8 1140.9L1068.6 1135.6L1069.8 1130.4L1069.7 1124.9L1072.9 1120.2L1073.0 1115.1L1069.7 1101.3L1069.1 1104.8L1064.6 1109.5L1059.4 1108.9L1054.3 1106.6L1052.6 1104.8L1054.3 1101.5L1059.4 1096.8L1069.7 1098.3L1070.1 1094.6L1064.6 1091.3L1064.6 1088.8L1085.0 1076.6L1094.1 1074.1M977.5 1078.7L976.3 1079.2L977.5 1079.4L977.5 1078.7M868.3 1099.7L870.0 1097.1L875.1 1099.0L880.2 1102.1L885.4 1107.1L890.5 1115.8L891.3 1120.2L890.5 1125.4L885.4 1127.9L880.2 1126.6L873.4 1120.2L869.3 1110.0L868.3 1099.7M1193.7 1110.0L1197.7 1109.0L1198.9 1115.1L1197.7 1118.6L1192.6 1121.1L1190.5 1120.2L1189.0 1115.1L1193.7 1110.0M1063.9 1130.4L1064.6 1128.2L1069.5 1130.4L1064.6 1132.2L1063.9 1130.4M827.5 1140.7L829.0 1138.0L831.1 1140.7L829.0 1143.1L827.5 1140.7M932.7 1161.2L936.6 1157.7L941.7 1157.1L944.9 1161.2L947.1 1166.3L931.4 1188.0L916.1 1202.8L911.0 1205.4L900.7 1208.3L888.0 1222.6L885.1 1227.7L880.1 1243.1L874.3 1253.3L870.6 1258.5L860.3 1268.7L844.4 1287.8L839.3 1290.6L829.0 1291.5L827.9 1294.3L828.0 1299.4L825.2 1304.5L813.6 1314.8L804.6 1325.0L797.2 1335.3L783.0 1346.2L767.6 1362.2L762.5 1361.8L762.1 1355.8L763.7 1350.6L793.2 1309.3L798.3 1296.4L803.4 1288.2L818.8 1273.6L823.9 1271.5L834.2 1273.7L839.3 1273.8L844.4 1272.6L849.4 1268.7L852.3 1263.6L852.8 1258.5L851.4 1243.1L844.4 1226.7L841.6 1212.4L841.0 1197.0L841.8 1191.9L844.4 1187.9L854.6 1186.3L870.0 1190.5L880.2 1191.3L885.4 1190.3L890.5 1187.2L905.8 1171.3L911.0 1168.6L921.2 1167.6L926.3 1165.8L932.7 1161.2M1307.8 1243.1L1315.4 1238.9L1324.6 1243.1L1328.0 1248.2L1327.5 1258.5L1323.3 1268.7L1320.6 1272.4L1315.4 1276.9L1305.2 1283.3L1300.1 1285.3L1295.0 1285.6L1289.8 1281.5L1288.8 1278.9L1288.0 1273.8L1288.9 1268.7L1297.7 1253.3L1301.8 1248.2L1307.8 1243.1M1021.5 1366.0L1039.0 1360.5L1044.1 1357.1L1059.4 1334.4L1063.2 1325.0L1064.6 1324.1L1066.4 1325.0L1069.7 1333.2L1074.8 1340.3L1079.9 1345.4L1084.0 1335.3L1078.3 1319.9L1047.7 1289.2L1041.0 1273.8L1054.3 1266.7L1069.7 1261.4L1085.0 1250.9L1100.4 1246.4L1115.8 1239.8L1131.1 1242.0L1161.8 1257.3L1172.1 1253.4L1177.2 1250.1L1180.3 1253.3L1189.0 1268.7L1198.3 1289.2L1208.5 1304.5L1213.0 1316.2L1218.2 1315.3L1223.3 1317.2L1233.5 1319.0L1234.5 1319.9L1233.5 1321.0L1228.4 1321.8L1223.3 1325.0L1216.0 1335.3L1221.9 1340.4L1223.1 1345.5L1228.4 1341.7L1254.0 1333.9L1266.4 1319.9L1272.9 1314.8L1279.6 1311.4L1284.7 1310.9L1289.8 1313.3L1295.0 1319.1L1301.5 1330.2L1305.7 1335.3L1321.2 1345.5L1326.7 1350.6L1329.9 1355.8L1333.6 1366.0M1092.8 1366.0L1085.0 1348.6L1079.9 1345.6L1074.8 1353.6L1062.5 1366.0M1462.1 1366.0L1453.8 1340.4L1452.9 1330.2L1453.0 1309.7L1454.4 1299.4L1458.8 1294.5L1463.9 1294.1L1477.2 1299.4L1499.8 1311.6L1504.9 1312.0L1520.2 1310.9L1540.9 1314.8L1540.7 1321.9L1535.6 1331.1L1515.8 1350.6L1506.4 1366.0"/>
</g>
<g clip-path="url(#axclip)">
<text class="cl" transform="translate(917.0,182.0) rotate(-20)" text-anchor="middle" y="6" stroke="#50a9af" stroke-width="5" paint-order="stroke" stroke-linejoin="round">-16</text>
<text class="cl" transform="translate(1316.0,146.0) rotate(-7)" text-anchor="middle" y="6" stroke="#3389bd" stroke-width="5" paint-order="stroke" stroke-linejoin="round">-18</text>
<text class="cl" transform="translate(1410.0,152.0) rotate(-6)" text-anchor="middle" y="6" stroke="#6bc4a5" stroke-width="5" paint-order="stroke" stroke-linejoin="round">-16</text>
<text class="cl" transform="translate(1530.0,150.0) rotate(-4)" text-anchor="middle" y="6" stroke="#6bc4a5" stroke-width="5" paint-order="stroke" stroke-linejoin="round">-14</text>
<text class="cl" transform="translate(1300.0,198.0) rotate(-1)" text-anchor="middle" y="6" stroke="#91d3a4" stroke-width="5" paint-order="stroke" stroke-linejoin="round">-12</text>
<text class="cl" transform="translate(1243.0,275.0) rotate(8)" text-anchor="middle" y="6" stroke="#f8fcb4" stroke-width="5" paint-order="stroke" stroke-linejoin="round">-6</text>
<text class="cl" transform="translate(1575.0,247.0) rotate(80)" text-anchor="middle" y="6" stroke="#f8fcb4" stroke-width="5" paint-order="stroke" stroke-linejoin="round">-6</text>
<text class="cl" transform="translate(665.0,325.0) rotate(-70)" text-anchor="middle" y="6" stroke="#5e4fa2" stroke-width="5" paint-order="stroke" stroke-linejoin="round">-24</text>
<text class="cl" transform="translate(585.0,408.0) rotate(-33)" text-anchor="middle" y="6" stroke="#50a9af" stroke-width="5" paint-order="stroke" stroke-linejoin="round">-18</text>
<text class="cl" transform="translate(643.0,415.0) rotate(-38)" text-anchor="middle" y="6" stroke="#d1ed9c" stroke-width="5" paint-order="stroke" stroke-linejoin="round">-10</text>
<text class="cl" transform="translate(270.0,470.0) rotate(-8)" text-anchor="middle" y="6" stroke="#5e4fa2" stroke-width="5" paint-order="stroke" stroke-linejoin="round">-22</text>
<text class="cl" transform="translate(318.0,480.0) rotate(1)" text-anchor="middle" y="6" stroke="#486cb0" stroke-width="5" paint-order="stroke" stroke-linejoin="round">-20</text>
<text class="cl" transform="translate(422.0,535.0) rotate(-15)" text-anchor="middle" y="6" stroke="#ebf7a0" stroke-width="5" paint-order="stroke" stroke-linejoin="round">-8</text>
<text class="cl" transform="translate(517.0,527.0) rotate(-21)" text-anchor="middle" y="6" stroke="#fff7b2" stroke-width="5" paint-order="stroke" stroke-linejoin="round">-4</text>
<text class="cl" transform="translate(398.0,580.0) rotate(-9)" text-anchor="middle" y="6" stroke="#fff7b2" stroke-width="5" paint-order="stroke" stroke-linejoin="round">-2</text>
<text class="cl" transform="translate(150.0,598.0) rotate(44)" text-anchor="middle" y="6" stroke="#6bc4a5" stroke-width="5" paint-order="stroke" stroke-linejoin="round">-14</text>
<text class="cl" transform="translate(133.0,603.0) rotate(72)" text-anchor="middle" y="6" stroke="#50a9af" stroke-width="5" paint-order="stroke" stroke-linejoin="round">-16</text>
<text class="cl" transform="translate(531.0,611.0) rotate(-26)" text-anchor="middle" y="6" stroke="#fed07e" stroke-width="5" paint-order="stroke" stroke-linejoin="round">0</text>
<text class="cl" transform="translate(332.0,624.0) rotate(-47)" text-anchor="middle" y="6" stroke="#fed07e" stroke-width="5" paint-order="stroke" stroke-linejoin="round">0</text>
<text class="cl" transform="translate(240.0,653.0) rotate(-51)" text-anchor="middle" y="6" stroke="#fee797" stroke-width="5" paint-order="stroke" stroke-linejoin="round">0</text>
<text class="cl" transform="translate(335.0,673.0) rotate(6)" text-anchor="middle" y="6" stroke="#fed07e" stroke-width="5" paint-order="stroke" stroke-linejoin="round">2</text>
<text class="cl" transform="translate(393.0,680.0) rotate(-26)" text-anchor="middle" y="6" stroke="#fed07e" stroke-width="5" paint-order="stroke" stroke-linejoin="round">2</text>
<text class="cl" transform="translate(150.0,718.0) rotate(41)" text-anchor="middle" y="6" stroke="#f8fcb4" stroke-width="5" paint-order="stroke" stroke-linejoin="round">-4</text>
<text class="cl" transform="translate(840.0,572.0) rotate(-21)" text-anchor="middle" y="6" stroke="#fdb768" stroke-width="5" paint-order="stroke" stroke-linejoin="round">4</text>
<text class="cl" transform="translate(715.0,560.0) rotate(66)" text-anchor="middle" y="6" stroke="#fdb768" stroke-width="5" paint-order="stroke" stroke-linejoin="round">4</text>
<text class="cl" transform="translate(1301.0,662.0) rotate(7)" text-anchor="middle" y="6" stroke="#fa9857" stroke-width="5" paint-order="stroke" stroke-linejoin="round">4</text>
<text class="cl" transform="translate(1468.0,637.0) rotate(60)" text-anchor="middle" y="6" stroke="#fa9857" stroke-width="5" paint-order="stroke" stroke-linejoin="round">4</text>
<text class="cl" transform="translate(1523.0,645.0) rotate(83)" text-anchor="middle" y="6" stroke="#fa9857" stroke-width="5" paint-order="stroke" stroke-linejoin="round">4</text>
<text class="cl" transform="translate(1352.0,703.0) rotate(-48)" text-anchor="middle" y="6" stroke="#fa9857" stroke-width="5" paint-order="stroke" stroke-linejoin="round">4</text>
<text class="cl" transform="translate(1530.0,776.0) rotate(-9)" text-anchor="middle" y="6" stroke="#fdb768" stroke-width="5" paint-order="stroke" stroke-linejoin="round">4</text>
<text class="cl" transform="translate(1604.0,844.0) rotate(42)" text-anchor="middle" y="6" stroke="#fdb768" stroke-width="5" paint-order="stroke" stroke-linejoin="round">4</text>
<text class="cl" transform="translate(1607.0,954.0) rotate(3)" text-anchor="middle" y="6" stroke="#fa9857" stroke-width="5" paint-order="stroke" stroke-linejoin="round">4</text>
<text class="cl" transform="translate(408.0,745.0) rotate(-35)" text-anchor="middle" y="6" stroke="#f57547" stroke-width="5" paint-order="stroke" stroke-linejoin="round">6</text>
<text class="cl" transform="translate(1408.0,759.0) rotate(14)" text-anchor="middle" y="6" stroke="#fa9857" stroke-width="5" paint-order="stroke" stroke-linejoin="round">6</text>
<text class="cl" transform="translate(1010.0,800.0) rotate(9)" text-anchor="middle" y="6" stroke="#fa9857" stroke-width="5" paint-order="stroke" stroke-linejoin="round">6</text>
<text class="cl" transform="translate(440.0,888.0) rotate(-44)" text-anchor="middle" y="6" stroke="#f57547" stroke-width="5" paint-order="stroke" stroke-linejoin="round">6</text>
<text class="cl" transform="translate(486.0,886.0) rotate(-48)" text-anchor="middle" y="6" stroke="#f57547" stroke-width="5" paint-order="stroke" stroke-linejoin="round">6</text>
<text class="cl" transform="translate(1354.0,905.0) rotate(-54)" text-anchor="middle" y="6" stroke="#fa9857" stroke-width="5" paint-order="stroke" stroke-linejoin="round">6</text>
<text class="cl" transform="translate(1384.0,889.0) rotate(-53)" text-anchor="middle" y="6" stroke="#fa9857" stroke-width="5" paint-order="stroke" stroke-linejoin="round">6</text>
<text class="cl" transform="translate(1560.0,903.0) rotate(2)" text-anchor="middle" y="6" stroke="#fa9857" stroke-width="5" paint-order="stroke" stroke-linejoin="round">6</text>
<text class="cl" transform="translate(1300.0,967.0) rotate(19)" text-anchor="middle" y="6" stroke="#f57547" stroke-width="5" paint-order="stroke" stroke-linejoin="round">6</text>
<text class="cl" transform="translate(1363.0,981.0) rotate(-84)" text-anchor="middle" y="6" stroke="#f57547" stroke-width="5" paint-order="stroke" stroke-linejoin="round">6</text>
<text class="cl" transform="translate(1625.0,1012.0) rotate(63)" text-anchor="middle" y="6" stroke="#f57547" stroke-width="5" paint-order="stroke" stroke-linejoin="round">6</text>
<text class="cl" transform="translate(570.0,966.0) rotate(-88)" text-anchor="middle" y="6" stroke="#fa9857" stroke-width="5" paint-order="stroke" stroke-linejoin="round">6</text>
<text class="cl" transform="translate(645.0,1211.0) rotate(18)" text-anchor="middle" y="6" stroke="#fa9857" stroke-width="5" paint-order="stroke" stroke-linejoin="round">6</text>
<text class="cl" transform="translate(1303.0,1195.0) rotate(40)" text-anchor="middle" y="6" stroke="#f57547" stroke-width="5" paint-order="stroke" stroke-linejoin="round">6</text>
<text class="cl" transform="translate(1530.0,1191.0) rotate(55)" text-anchor="middle" y="6" stroke="#f57547" stroke-width="5" paint-order="stroke" stroke-linejoin="round">6</text>
<text class="cl" transform="translate(1563.0,1211.0) rotate(-30)" text-anchor="middle" y="6" stroke="#f57547" stroke-width="5" paint-order="stroke" stroke-linejoin="round">6</text>
<text class="cl" transform="translate(918.0,1305.0) rotate(-34)" text-anchor="middle" y="6" stroke="#f57547" stroke-width="5" paint-order="stroke" stroke-linejoin="round">6</text>
<text class="cl" transform="translate(824.0,715.0) rotate(-28)" text-anchor="middle" y="6" stroke="#e85b48" stroke-width="5" paint-order="stroke" stroke-linejoin="round">8</text>
<text class="cl" transform="translate(870.0,728.0) rotate(-16)" text-anchor="middle" y="6" stroke="#e85b48" stroke-width="5" paint-order="stroke" stroke-linejoin="round">8</text>
<text class="cl" transform="translate(824.0,745.0) rotate(-39)" text-anchor="middle" y="6" stroke="#e85b48" stroke-width="5" paint-order="stroke" stroke-linejoin="round">8</text>
<text class="cl" transform="translate(1100.0,770.0) rotate(-58)" text-anchor="middle" y="6" stroke="#e85b48" stroke-width="5" paint-order="stroke" stroke-linejoin="round">10</text>
<text class="cl" transform="translate(532.0,853.0) rotate(-5)" text-anchor="middle" y="6" stroke="#e85b48" stroke-width="5" paint-order="stroke" stroke-linejoin="round">10</text>
<text class="cl" transform="translate(1008.0,884.0) rotate(11)" text-anchor="middle" y="6" stroke="#e85b48" stroke-width="5" paint-order="stroke" stroke-linejoin="round">10</text>
<text class="cl" transform="translate(178.0,989.0) rotate(9)" text-anchor="middle" y="6" stroke="#d7414e" stroke-width="5" paint-order="stroke" stroke-linejoin="round">10</text>
<text class="cl" transform="translate(652.0,1105.0) rotate(-64)" text-anchor="middle" y="6" stroke="#e85b48" stroke-width="5" paint-order="stroke" stroke-linejoin="round">10</text>
<text class="cl" transform="translate(1070.0,951.0) rotate(23)" text-anchor="middle" y="6" stroke="#d7414e" stroke-width="5" paint-order="stroke" stroke-linejoin="round">12</text>
<text class="cl" transform="translate(1152.0,935.0) rotate(52)" text-anchor="middle" y="6" stroke="#bc2249" stroke-width="5" paint-order="stroke" stroke-linejoin="round">12</text>
<text class="cl" transform="translate(180.0,951.0) rotate(9)" text-anchor="middle" y="6" stroke="#bc2249" stroke-width="5" paint-order="stroke" stroke-linejoin="round">12</text>
<text class="cl" transform="translate(208.0,871.0) rotate(55)" text-anchor="middle" y="6" stroke="#9e0142" stroke-width="5" paint-order="stroke" stroke-linejoin="round">14</text>
<text class="cl" transform="translate(486.0,943.0) rotate(41)" text-anchor="middle" y="6" stroke="#9e0142" stroke-width="5" paint-order="stroke" stroke-linejoin="round">14</text>
<text class="cl" transform="translate(763.0,994.0) rotate(-2)" text-anchor="middle" y="6" stroke="#bc2249" stroke-width="5" paint-order="stroke" stroke-linejoin="round">14</text>
<text class="cl" transform="translate(1150.0,1307.0) rotate(49)" text-anchor="middle" y="6" stroke="#9e0142" stroke-width="5" paint-order="stroke" stroke-linejoin="round">14</text>
<text class="cl" transform="translate(180.0,858.0) rotate(58)" text-anchor="middle" y="6" stroke="#9e0142" stroke-width="5" paint-order="stroke" stroke-linejoin="round">16</text>
<text class="cl" transform="translate(257.0,910.0) rotate(31)" text-anchor="middle" y="6" stroke="#9e0142" stroke-width="5" paint-order="stroke" stroke-linejoin="round">16</text>
<text class="cl" transform="translate(808.0,1040.0) rotate(-53)" text-anchor="middle" y="6" stroke="#9e0142" stroke-width="5" paint-order="stroke" stroke-linejoin="round">16</text>
<text class="cl" transform="translate(1147.0,1150.0) rotate(3)" text-anchor="middle" y="6" stroke="#9e0142" stroke-width="5" paint-order="stroke" stroke-linejoin="round">16</text>
<text class="cl" transform="translate(1425.0,1348.0) rotate(-81)" text-anchor="middle" y="6" stroke="#9e0142" stroke-width="5" paint-order="stroke" stroke-linejoin="round">16</text>
<text class="cl" transform="translate(1517.0,1298.0) rotate(2)" text-anchor="middle" y="6" stroke="#9e0142" stroke-width="5" paint-order="stroke" stroke-linejoin="round">16</text>
<text class="cl" transform="translate(287.0,1063.0) rotate(8)" text-anchor="middle" y="6" stroke="#f57547" stroke-width="5" paint-order="stroke" stroke-linejoin="round">8</text>
<text class="cl" transform="translate(655.0,1171.0) rotate(25)" text-anchor="middle" y="6" stroke="#f57547" stroke-width="5" paint-order="stroke" stroke-linejoin="round">8</text>
<text class="cl" transform="translate(601.0,966.0) rotate(75)" text-anchor="middle" y="6" stroke="#f57547" stroke-width="5" paint-order="stroke" stroke-linejoin="round">8</text>
<text class="cl" transform="translate(962.0,1128.0) rotate(-21)" text-anchor="middle" y="6" stroke="#f57547" stroke-width="5" paint-order="stroke" stroke-linejoin="round">8</text>
<text class="cl" transform="translate(960.0,1198.0) rotate(-42)" text-anchor="middle" y="6" stroke="#f57547" stroke-width="5" paint-order="stroke" stroke-linejoin="round">8</text>
<text class="cl" transform="translate(1270.0,1172.0) rotate(41)" text-anchor="middle" y="6" stroke="#e85b48" stroke-width="5" paint-order="stroke" stroke-linejoin="round">8</text>
<text class="cl" transform="translate(914.0,1335.0) rotate(-89)" text-anchor="middle" y="6" stroke="#e85b48" stroke-width="5" paint-order="stroke" stroke-linejoin="round">8</text>
<text class="cl" transform="translate(318.0,1198.0) rotate(-0)" text-anchor="middle" y="6" stroke="#fa9857" stroke-width="5" paint-order="stroke" stroke-linejoin="round">4</text>
<text class="cl" transform="translate(204.0,1289.0) rotate(-20)" text-anchor="middle" y="6" stroke="#fee797" stroke-width="5" paint-order="stroke" stroke-linejoin="round">0</text>
<text class="cl" transform="translate(517.0,1292.0) rotate(-4)" text-anchor="middle" y="6" stroke="#fed07e" stroke-width="5" paint-order="stroke" stroke-linejoin="round">2</text>
<text class="cl" transform="translate(549.0,1291.0) rotate(24)" text-anchor="middle" y="6" stroke="#fdb768" stroke-width="5" paint-order="stroke" stroke-linejoin="round">2</text>
<text class="cl" transform="translate(502.0,1353.0) rotate(44)" text-anchor="middle" y="6" stroke="#fdb768" stroke-width="5" paint-order="stroke" stroke-linejoin="round">2</text>
<text class="cl" transform="translate(193.0,1348.0) rotate(-3)" text-anchor="middle" y="6" stroke="#fee797" stroke-width="5" paint-order="stroke" stroke-linejoin="round">-2</text>
<text class="cl" transform="translate(196.0,772.0) rotate(-18)" text-anchor="middle" y="6" stroke="#fee797" stroke-width="5" paint-order="stroke" stroke-linejoin="round">2</text>
<text class="cl" transform="translate(209.0,803.0) rotate(89)" text-anchor="middle" y="6" stroke="#fee797" stroke-width="5" paint-order="stroke" stroke-linejoin="round">2</text>
<text class="cl" transform="translate(1015.0,1390.0) rotate(44)" text-anchor="middle" y="6" stroke="#9e0142" stroke-width="5" paint-order="stroke" stroke-linejoin="round">14</text>
</g>
<g clip-path="url(#axclip)">
<g class="coast">
<polyline points="901.4,122.9 903.0,129.0 898.4,144.3 889.2,156.6 873.8,170.4 867.7,162.7 855.4,153.5 858.5,165.8 867.7,175.0 869.2,187.3 861.5,199.6 852.3,211.8 843.1,225.6 840.1,221.0 843.1,211.8 849.3,201.1 840.1,193.4 830.9,184.2 833.9,171.9 840.1,156.6 830.9,158.1 824.7,168.9 826.2,184.2 829.3,198.0 812.4,190.4 807.8,187.3 821.6,198.0 830.9,208.8 818.6,211.8 830.9,221.0 821.6,224.1 830.9,230.2 840.1,233.3 843.1,245.6 847.7,257.9 855.4,273.2 855.4,283.9 843.1,287.0 830.9,293.1 823.8,303.9 809.4,301.7 794.0,310.0 781.7,323.8 778.7,326.3 763.3,326.9 751.1,333.0 741.9,346.8 729.6,354.5 720.4,362.2 705.0,369.8 691.2,382.1 683.5,392.8 675.9,408.2 672.8,423.5 674.3,435.8 678.9,451.1 686.6,469.5 695.8,488.0 700.4,492.6 698.9,503.3 706.6,521.7 714.2,537.0 716.4,552.4 714.2,570.8 708.1,586.1 698.9,593.8 683.5,593.8 677.4,575.4 662.1,564.7 654.4,552.4 646.7,540.1 637.5,524.8 639.0,512.5 629.8,509.4 632.9,494.1 634.4,478.7 622.2,469.5 609.9,454.2 594.5,442.5 583.8,443.5 566.9,453.6 553.1,455.1 551.6,448.1 540.8,440.4 524.0,433.3 496.3,434.9 471.8,437.3 468.7,426.6 473.3,434.3 456.4,434.3 431.9,435.8 421.1,440.4 418.1,452.7 428.8,452.7 422.7,463.4 431.9,469.5 438.0,474.1 428.8,475.7 422.7,466.5 408.9,469.5 404.3,472.6 392.0,466.5 382.8,472.6 370.5,466.5 355.2,460.3 339.8,458.8 312.2,452.7 292.2,454.2 275.4,460.3 264.6,464.9 263.1,454.2 255.4,457.3 258.5,466.5 247.7,477.2 229.3,488.0 214.0,494.1 201.7,501.8 195.6,511.0 186.4,521.7 183.3,537.0 184.8,552.4 191.0,569.3 180.2,592.3 174.1,613.7 172.6,635.2 172.6,662.8 169.5,681.2 177.2,696.6 186.4,721.1 189.4,733.4 207.8,754.9 217.1,770.2 223.2,777.9 232.4,788.6 250.8,793.2 263.1,797.8 275.4,808.6 293.8,804.0 318.3,799.4 336.7,793.2 352.1,793.2 365.9,799.4 370.5,790.2 382.8,777.9 388.9,764.1 396.6,751.8 396.6,733.4 401.2,721.1 416.5,711.9 441.1,708.8 465.6,702.7 487.1,705.8 499.4,702.7 508.6,710.4 508.6,721.1 499.4,736.5 488.7,747.2 487.1,764.1 481.0,776.3 485.6,791.7 477.9,804.0 468.7,797.8 462.6,797.8 468.7,810.1 464.1,827.0 464.1,843.8 456.4,862.2 444.2,876.1 453.4,882.2 465.6,883.1 481.0,877.6 502.5,881.3 520.9,880.7 533.2,874.5 557.7,877.6 576.1,879.1 594.5,889.9 613.0,897.5 620.6,905.2 614.5,923.6 611.4,945.1 608.4,966.6 606.8,985.0 603.7,1000.3 605.3,1018.7 602.2,1029.5 613.0,1046.3 623.7,1058.6 637.5,1070.9 648.2,1080.1 652.9,1089.3 668.2,1093.9 686.6,1093.9 702.0,1086.2 718.8,1078.5 731.1,1070.9 748.0,1073.9 769.5,1077.0 787.9,1089.3 798.6,1101.6 812.4,1120.0 817.0,1104.6 830.9,1090.8 846.2,1075.5 852.3,1058.6 855.4,1043.3 870.8,1029.5 876.9,1026.4 892.2,1027.9 896.8,1018.7 919.9,1018.7 938.3,1009.5 956.7,998.8 973.6,983.4 988.9,992.6 981.2,1003.4 964.4,1009.5 972.0,1024.9 975.1,1035.6 984.3,1029.5 993.5,1021.8 1015.0,1015.6 1018.1,1006.4 1015.0,997.2 1025.7,991.1 1030.3,1006.4 1036.5,1014.1 1058.0,1014.1 1073.3,1023.3 1081.0,1040.2 1100.9,1043.3 1119.3,1040.2 1140.8,1038.7 1150.0,1049.4 1174.6,1055.5 1193.0,1052.5 1202.2,1043.3 1217.5,1038.7 1239.0,1037.1 1260.5,1037.1 1272.8,1036.5 1260.5,1041.7 1245.2,1044.8 1251.3,1054.0 1269.7,1060.1 1294.3,1070.9 1305.0,1083.1 1312.7,1101.6 1331.1,1106.2 1346.4,1113.8 1364.9,1132.2 1378.7,1150.6 1389.4,1156.8 1404.8,1170.6 1418.6,1182.9 1438.5,1184.4 1456.9,1185.9 1478.4,1184.4 1499.9,1184.4 1515.2,1187.5 1530.6,1195.1 1549.0,1201.3 1567.4,1215.1 1582.8,1227.3 1588.9,1238.1 1601.2,1239.6 1605.8,1258.0 1613.4,1285.6 1622.7,1304.0 1638.0,1313.2 1641.1,1328.6 1628.8,1343.9 1619.6,1359.3 1625.7,1368.5"/>
<polyline points="97.4,843.8 109.6,850.0 134.2,857.6 155.7,868.4 177.2,876.1 198.6,882.2 217.1,884.3 235.5,877.6 250.8,869.9 266.2,868.4 284.6,874.5 299.9,882.2 318.3,896.0 333.7,912.9 346.0,923.6 364.4,935.9 385.8,938.9 407.3,943.6 428.8,951.8 450.3,960.4 471.8,961.0 479.5,955.8 490.2,963.5 485.6,969.6 502.5,985.0 514.7,995.7 530.1,1011.0 540.8,1024.9 537.8,1032.5 542.4,1043.3 537.8,1054.0 551.6,1063.2 560.8,1070.9 565.4,1060.1 571.5,1060.1 576.1,1072.4 591.5,1077.6 603.7,1086.2 606.8,1100.0 616.0,1107.7 620.6,1101.6 628.3,1110.8 628.3,1118.4 640.6,1111.4 655.9,1113.8 669.7,1123.0 683.5,1129.2 689.7,1143.0 703.5,1143.0 717.3,1135.3 709.6,1120.0 705.0,1110.8 720.4,1100.0 732.6,1090.8 748.0,1089.3 763.3,1101.6 774.1,1107.7 766.4,1118.4 772.5,1133.8 781.7,1144.5 792.5,1159.8 798.6,1181.3 794.0,1202.8 800.2,1224.3 797.1,1239.6 806.3,1247.3 794.0,1267.2 784.8,1285.6 763.3,1291.8 754.1,1310.2 748.0,1325.5 726.5,1335.3 715.8,1343.9 715.8,1365.4"/>
<polyline points="565.4,694.4 582.3,681.2 606.8,665.9 625.2,659.8 643.6,654.2 668.2,656.7 689.7,656.7 708.1,661.3 729.6,669.0 748.0,678.2 766.4,681.2 784.8,693.5 800.2,699.6 815.5,710.4 833.9,716.5 849.3,718.1 855.4,728.8 873.8,731.9 889.2,742.6 896.8,745.7 889.2,750.3 867.7,754.9 846.2,752.7 824.7,753.3 803.2,754.9 787.9,756.4 797.1,742.6 806.3,736.5 791.0,730.3 775.6,728.8 763.3,718.1 755.7,702.7 732.6,699.6 714.2,696.6 702.0,688.9 680.5,687.4 662.1,684.3 652.9,678.2 665.1,673.6 646.7,669.0 628.3,673.6 616.0,684.3 597.6,690.4 585.3,695.0 565.4,694.4"/>
<polyline points="622.2,696.6 631.4,692.6 639.0,699.6 636.0,707.3 625.2,705.8 622.2,696.6"/>
<polyline points="767.9,804.0 781.7,797.8 803.2,799.4 824.7,805.5 833.9,814.7 818.6,816.2 803.2,820.8 784.8,816.8 772.5,808.6 767.9,804.0"/>
<polyline points="919.9,756.4 938.3,753.3 962.8,759.5 972.0,754.9 993.5,754.9 1008.9,758.5 1024.2,762.5 1033.4,773.3 1048.8,773.3 1036.5,779.4 1054.9,782.5 1067.2,787.1 1075.8,794.8 1067.2,805.5 1051.8,800.9 1027.3,799.4 1011.9,805.5 1002.7,804.0 990.4,808.6 990.4,819.3 981.2,825.4 972.0,819.3 969.0,810.1 953.6,807.0 932.1,807.0 907.6,811.6 887.6,802.4 895.3,793.2 916.8,796.3 938.3,800.0 952.1,796.3 939.8,784.0 939.8,770.2 929.1,762.5 919.9,756.4"/>
<polyline points="1108.6,802.4 1111.7,797.8 1134.7,798.4 1157.7,801.5 1159.2,807.0 1150.0,814.1 1128.5,814.1 1110.1,814.7 1108.6,802.4"/>
<polyline points="1272.8,1057.1 1282.0,1037.1 1301.9,1032.5 1300.4,1054.0 1272.8,1057.1"/>
<polyline points="772.5,592.3 778.7,619.9 787.9,629.1 786.4,607.6 778.7,593.8 772.5,592.3"/>
<polyline points="748.0,546.2 763.3,544.7 781.7,546.2 766.4,552.4 748.0,546.2"/>
<polyline points="791.0,540.1 803.2,549.3 809.4,558.5 803.2,570.8 801.7,558.5 791.0,540.1"/>
<polyline points="817.0,583.1 830.9,592.3 835.5,606.1 829.3,595.3 817.0,583.1"/>
<polyline points="912.2,718.1 922.9,715.0 932.1,711.9 927.5,722.7 912.2,718.1"/>
<polyline points="861.5,639.8 873.8,656.7 870.8,656.7 860.0,641.4 861.5,639.8"/>
<polyline points="847.7,609.1 860.0,622.9 855.4,624.5 847.7,609.1"/>
<polyline points="1290.3,868.4 1288.4,864.4 1283.5,862.9 1278.6,864.4 1276.8,868.4 1278.6,872.4 1283.5,873.9 1288.4,872.4 1290.3,868.4"/>
<polyline points="1292.7,892.3 1291.8,888.0 1289.7,886.2 1287.5,888.0 1286.6,892.3 1287.5,896.6 1289.7,898.5 1291.8,896.6 1292.7,892.3"/>
<polyline points="1304.1,915.9 1302.9,911.6 1300.4,909.8 1298.0,911.6 1296.7,915.9 1298.0,920.2 1300.4,922.1 1302.9,920.2 1304.1,915.9"/>
<polyline points="1303.5,938.9 1302.9,935.3 1301.0,933.7 1299.2,935.3 1298.6,938.9 1299.2,942.6 1301.0,944.2 1302.9,942.6 1303.5,938.9"/>
<polyline points="1296.4,958.9 1295.8,956.7 1294.3,955.8 1292.7,956.7 1292.1,958.9 1292.7,961.0 1294.3,962.0 1295.8,961.0 1296.4,958.9"/>
<polyline points="1282.0,994.2 1281.4,992.0 1279.5,991.1 1277.7,992.0 1277.1,994.2 1277.7,996.3 1279.5,997.2 1281.4,996.3 1282.0,994.2"/>
<polyline points="1347.4,961.3 1346.8,958.9 1344.9,957.7 1343.1,958.9 1342.5,961.3 1343.1,963.8 1344.9,965.0 1346.8,963.8 1347.4,961.3"/>
<polyline points="1315.8,1020.3 1314.5,1018.7 1311.2,1018.1 1307.8,1018.7 1306.5,1020.3 1307.8,1021.8 1311.2,1022.4 1314.5,1021.8 1315.8,1020.3"/>
<polyline points="1217.5,1027.9 1214.8,1025.5 1208.3,1024.2 1201.9,1025.5 1199.1,1027.9 1201.9,1030.4 1208.3,1031.6 1214.8,1030.4 1217.5,1027.9"/>
<polyline points="1062.6,992.0 1060.7,989.9 1056.4,989.0 1052.1,989.9 1050.3,992.0 1052.1,994.2 1056.4,995.1 1060.7,994.2 1062.6,992.0"/>
<polyline points="1028.2,981.9 1027.3,980.4 1025.1,979.8 1023.0,980.4 1022.1,981.9 1023.0,983.4 1025.1,984.0 1027.3,983.4 1028.2,981.9"/>
<polyline points="1079.7,991.7 1079.1,989.3 1077.3,988.0 1075.5,989.3 1074.8,991.7 1075.5,994.2 1077.3,995.4 1079.1,994.2 1079.7,991.7"/>
<polyline points="1278.9,841.7 1278.0,839.9 1275.9,839.2 1273.7,839.9 1272.8,841.7 1273.7,843.5 1275.9,844.1 1278.0,843.5 1278.9,841.7"/>
<polyline points="1249.2,834.6 1248.5,833.4 1246.7,832.8 1244.9,833.4 1244.2,834.6 1244.9,835.9 1246.7,836.5 1248.5,835.9 1249.2,834.6"/>
<polyline points="1188.4,803.0 1187.2,802.1 1183.8,801.8 1180.4,802.1 1179.2,803.0 1180.4,804.0 1183.8,804.3 1187.2,804.0 1188.4,803.0"/>
<polyline points="1189.9,821.4 1188.7,820.5 1185.3,820.2 1181.9,820.5 1180.7,821.4 1181.9,822.4 1185.3,822.7 1188.7,822.4 1189.9,821.4"/>
</g><g class="bord">
<polyline points="191.0,569.3 177.2,569.3 158.7,564.7 131.1,555.4 118.8,521.7 94.3,497.2"/>
<polyline points="342.9,919.0 342.9,897.5 356.7,873.0 396.6,872.4 396.6,862.2 367.4,836.2 379.7,836.2 379.7,818.7 436.5,818.7 462.6,798.4"/>
<polyline points="436.5,818.7 435.0,877.6 444.2,877.6"/>
<polyline points="430.3,923.0 436.5,914.4 435.0,902.1 451.8,883.7"/>
<polyline points="407.3,943.6 418.1,934.3 430.3,923.0"/>
<polyline points="430.3,923.0 456.4,936.5 477.9,938.9 481.0,954.3"/>
<polyline points="491.7,966.6 510.1,957.4 511.7,942.9 530.1,935.9 542.4,940.5 563.9,912.9 594.5,912.9 620.6,905.2"/>
<polyline points="542.4,1025.5 563.9,1027.9 585.3,1029.5 605.3,1030.1"/>
<polyline points="627.4,1118.4 628.3,1097.0 634.4,1092.3 628.3,1086.2 638.4,1071.8"/>
<polyline points="781.7,1144.5 798.6,1129.2 803.2,1120.0 795.6,1104.6 798.6,1100.0"/>
<polyline points="982.8,1001.8 962.8,1009.5 947.5,1024.9 932.1,1043.3 935.2,1061.7 922.9,1083.1 941.3,1101.6 950.5,1120.0 962.8,1138.4 993.5,1150.6 1021.1,1150.6 1041.1,1178.3 1100.9,1175.2 1090.2,1227.3 1107.1,1261.1 1090.2,1279.5 1110.1,1294.8 1119.3,1328.6"/>
<polyline points="754.1,1320.9 778.7,1337.8 797.1,1353.1 830.9,1353.1 861.5,1368.5"/>
<polyline points="1119.3,1328.6 1113.2,1313.2 1079.4,1313.2 1030.3,1331.7 1042.6,1347.0 1022.7,1347.0 1022.7,1368.5"/>
<polyline points="1331.1,1106.2 1309.6,1133.8 1321.9,1147.6 1295.8,1159.8 1288.1,1182.9 1309.6,1205.9"/>
<polyline points="1309.6,1205.9 1288.1,1227.3 1242.1,1255.0 1205.3,1239.6 1189.9,1245.7 1206.8,1288.7 1226.8,1297.9 1165.4,1343.9 1137.8,1342.4 1119.3,1328.6"/>
<polyline points="1309.6,1205.9 1332.6,1210.5 1344.9,1244.2 1335.7,1255.0 1337.2,1294.8 1361.8,1325.5 1392.5,1319.4 1414.0,1304.0 1438.5,1305.6"/>
<polyline points="1418.6,1182.9 1414.0,1212.0 1395.5,1224.3 1390.9,1241.1 1404.8,1262.6 1414.0,1262.6 1438.5,1305.6"/>
<polyline points="1438.5,1305.6 1456.9,1308.6 1455.4,1288.7 1496.8,1294.8"/>
<polyline points="1515.2,1187.5 1501.4,1212.0 1515.2,1255.0 1496.8,1294.8"/>
<polyline points="1496.8,1294.8 1521.4,1294.8 1549.0,1297.9 1559.7,1288.7 1587.4,1241.1"/>
<polyline points="970.5,761.0 973.6,782.5 962.8,794.8 972.0,804.0 970.5,812.2"/>
</g>
<g class="grid"><line x1="102" y1="1212.5" x2="1638" y2="1212.5"/><line x1="102" y1="1059.1" x2="1638" y2="1059.1"/><line x1="102" y1="905.7" x2="1638" y2="905.7"/><line x1="102" y1="752.3" x2="1638" y2="752.3"/><line x1="102" y1="598.9" x2="1638" y2="598.9"/><line x1="102" y1="445.5" x2="1638" y2="445.5"/><line x1="102" y1="292.1" x2="1638" y2="292.1"/><line x1="410.4" y1="137" x2="410.4" y2="1366"/><line x1="717.3" y1="137" x2="717.3" y2="1366"/><line x1="1024.2" y1="137" x2="1024.2" y2="1366"/><line x1="1331.1" y1="137" x2="1331.1" y2="1366"/></g>
</g>
<rect x="102" y="137" width="1536" height="1229" fill="none" stroke="#000" stroke-width="2.2"/>
<rect x="1675" y="1287.18" width="60" height="60.02" fill="#5e4fa2"/>
<rect x="1675" y="1227.66" width="60" height="60.02" fill="#486cb0"/>
<rect x="1675" y="1168.14" width="60" height="60.02" fill="#3389bd"/>
<rect x="1675" y="1108.62" width="60" height="60.02" fill="#50a9af"/>
<rect x="1675" y="1049.10" width="60" height="60.02" fill="#6bc4a5"/>
<rect x="1675" y="989.58" width="60" height="60.02" fill="#91d3a4"/>
<rect x="1675" y="930.06" width="60" height="60.02" fill="#b3e0a2"/>
<rect x="1675" y="870.54" width="60" height="60.02" fill="#d1ed9c"/>
<rect x="1675" y="811.02" width="60" height="60.02" fill="#ebf7a0"/>
<rect x="1675" y="751.50" width="60" height="60.02" fill="#f8fcb4"/>
<rect x="1675" y="691.98" width="60" height="60.02" fill="#fff7b2"/>
<rect x="1675" y="632.46" width="60" height="60.02" fill="#fee797"/>
<rect x="1675" y="572.94" width="60" height="60.02" fill="#fed07e"/>
<rect x="1675" y="513.42" width="60" height="60.02" fill="#fdb768"/>
<rect x="1675" y="453.90" width="60" height="60.02" fill="#fa9857"/>
<rect x="1675" y="394.38" width="60" height="60.02" fill="#f57547"/>
<rect x="1675" y="334.86" width="60" height="60.02" fill="#e85b48"/>
<rect x="1675" y="275.34" width="60" height="60.02" fill="#d7414e"/>
<rect x="1675" y="215.82" width="60" height="60.02" fill="#bc2249"/>
<rect x="1675" y="156.30" width="60" height="60.02" fill="#9e0142"/>
<rect x="1675" y="156.3" width="60" height="1190.4" fill="none" stroke="#000" stroke-width="2"/>
<line x1="1735" y1="1346.70" x2="1743.5" y2="1346.70" stroke="#000" stroke-width="1.7"/>
<line x1="1735" y1="1287.18" x2="1743.5" y2="1287.18" stroke="#000" stroke-width="1.7"/>
<line x1="1735" y1="1227.66" x2="1743.5" y2="1227.66" stroke="#000" stroke-width="1.7"/>
<line x1="1735" y1="1168.14" x2="1743.5" y2="1168.14" stroke="#000" stroke-width="1.7"/>
<line x1="1735" y1="1108.62" x2="1743.5" y2="1108.62" stroke="#000" stroke-width="1.7"/>
<line x1="1735" y1="1049.10" x2="1743.5" y2="1049.10" stroke="#000" stroke-width="1.7"/>
<line x1="1735" y1="989.58" x2="1743.5" y2="989.58" stroke="#000" stroke-width="1.7"/>
<line x1="1735" y1="930.06" x2="1743.5" y2="930.06" stroke="#000" stroke-width="1.7"/>
<line x1="1735" y1="870.54" x2="1743.5" y2="870.54" stroke="#000" stroke-width="1.7"/>
<line x1="1735" y1="811.02" x2="1743.5" y2="811.02" stroke="#000" stroke-width="1.7"/>
<line x1="1735" y1="751.50" x2="1743.5" y2="751.50" stroke="#000" stroke-width="1.7"/>
<line x1="1735" y1="691.98" x2="1743.5" y2="691.98" stroke="#000" stroke-width="1.7"/>
<line x1="1735" y1="632.46" x2="1743.5" y2="632.46" stroke="#000" stroke-width="1.7"/>
<line x1="1735" y1="572.94" x2="1743.5" y2="572.94" stroke="#000" stroke-width="1.7"/>
<line x1="1735" y1="513.42" x2="1743.5" y2="513.42" stroke="#000" stroke-width="1.7"/>
<line x1="1735" y1="453.90" x2="1743.5" y2="453.90" stroke="#000" stroke-width="1.7"/>
<line x1="1735" y1="394.38" x2="1743.5" y2="394.38" stroke="#000" stroke-width="1.7"/>
<line x1="1735" y1="334.86" x2="1743.5" y2="334.86" stroke="#000" stroke-width="1.7"/>
<line x1="1735" y1="275.34" x2="1743.5" y2="275.34" stroke="#000" stroke-width="1.7"/>
<line x1="1735" y1="215.82" x2="1743.5" y2="215.82" stroke="#000" stroke-width="1.7"/>
<line x1="1735" y1="156.30" x2="1743.5" y2="156.30" stroke="#000" stroke-width="1.7"/>
<text x="283.6" y="56" font-size="29.5" text-anchor="start" textLength="1172" lengthAdjust="spacingAndGlyphs">GFS — θe de saturación media 1000–700 hPa — ANOMALÍA (sombreado y contornos)</text>
<text x="485.6" y="87.2" font-size="29.5" text-anchor="start" textLength="771" lengthAdjust="spacingAndGlyphs" xml:space="preserve">Inicialización: 20251109 06Z   •   Pronóstico: f018 (UTC)</text>
<text x="650" y="122.3" font-size="29.5" text-anchor="start" textLength="442" lengthAdjust="spacingAndGlyphs">Instituto Meteorológico Nacional</text>
<text x="45" y="1218.4" font-size="25.6" text-anchor="start" textLength="44.2" lengthAdjust="spacingAndGlyphs">5°N</text>
<text x="29" y="1065" font-size="25.6" text-anchor="start" textLength="60.2" lengthAdjust="spacingAndGlyphs">10°N</text>
<text x="29" y="911.6" font-size="25.6" text-anchor="start" textLength="60.2" lengthAdjust="spacingAndGlyphs">15°N</text>
<text x="29" y="758.2" font-size="25.6" text-anchor="start" textLength="60.2" lengthAdjust="spacingAndGlyphs">20°N</text>
<text x="29" y="604.8" font-size="25.6" text-anchor="start" textLength="60.2" lengthAdjust="spacingAndGlyphs">25°N</text>
<text x="29" y="451.4" font-size="25.6" text-anchor="start" textLength="60.2" lengthAdjust="spacingAndGlyphs">30°N</text>
<text x="29" y="298" font-size="25.6" text-anchor="start" textLength="60.2" lengthAdjust="spacingAndGlyphs">35°N</text>
<text x="377.7" y="1397" font-size="25.6" text-anchor="start" textLength="65.4" lengthAdjust="spacingAndGlyphs">90°W</text>
<text x="684.6" y="1397" font-size="25.6" text-anchor="start" textLength="65.4" lengthAdjust="spacingAndGlyphs">80°W</text>
<text x="991.5" y="1397" font-size="25.6" text-anchor="start" textLength="65.4" lengthAdjust="spacingAndGlyphs">70°W</text>
<text x="1298.4" y="1397" font-size="25.6" text-anchor="start" textLength="65.4" lengthAdjust="spacingAndGlyphs">60°W</text>
<text x="1754.9" y="1355.9" font-size="25.6" text-anchor="start" textLength="48.2" lengthAdjust="spacingAndGlyphs">−24</text>
<text x="1754.9" y="1296.38" font-size="25.6" text-anchor="start" textLength="48.2" lengthAdjust="spacingAndGlyphs">−22</text>
<text x="1754.9" y="1236.86" font-size="25.6" text-anchor="start" textLength="48.2" lengthAdjust="spacingAndGlyphs">−20</text>
<text x="1754.9" y="1177.34" font-size="25.6" text-anchor="start" textLength="48.2" lengthAdjust="spacingAndGlyphs">−18</text>
<text x="1754.9" y="1117.82" font-size="25.6" text-anchor="start" textLength="48.2" lengthAdjust="spacingAndGlyphs">−16</text>
<text x="1754.9" y="1058.3" font-size="25.6" text-anchor="start" textLength="48.2" lengthAdjust="spacingAndGlyphs">−14</text>
<text x="1754.9" y="998.78" font-size="25.6" text-anchor="start" textLength="48.2" lengthAdjust="spacingAndGlyphs">−12</text>
<text x="1754.9" y="939.26" font-size="25.6" text-anchor="start" textLength="48.2" lengthAdjust="spacingAndGlyphs">−10</text>
<text x="1754.9" y="879.74" font-size="25.6" text-anchor="start" textLength="34.5" lengthAdjust="spacingAndGlyphs">−8</text>
<text x="1754.9" y="820.22" font-size="25.6" text-anchor="start" textLength="34.5" lengthAdjust="spacingAndGlyphs">−6</text>
<text x="1754.9" y="760.7" font-size="25.6" text-anchor="start" textLength="34.5" lengthAdjust="spacingAndGlyphs">−4</text>
<text x="1754.9" y="701.18" font-size="25.6" text-anchor="start" textLength="34.5" lengthAdjust="spacingAndGlyphs">−2</text>
<text x="1754.9" y="641.66" font-size="25.6" text-anchor="start" textLength="13.8" lengthAdjust="spacingAndGlyphs">0</text>
<text x="1754.9" y="582.14" font-size="25.6" text-anchor="start" textLength="13.8" lengthAdjust="spacingAndGlyphs">2</text>
<text x="1754.9" y="522.62" font-size="25.6" text-anchor="start" textLength="13.8" lengthAdjust="spacingAndGlyphs">4</text>
<text x="1754.9" y="463.1" font-size="25.6" text-anchor="start" textLength="13.8" lengthAdjust="spacingAndGlyphs">6</text>
<text x="1754.9" y="403.58" font-size="25.6" text-anchor="start" textLength="13.8" lengthAdjust="spacingAndGlyphs">8</text>
<text x="1754.9" y="344.06" font-size="25.6" text-anchor="start" textLength="27.6" lengthAdjust="spacingAndGlyphs">10</text>
<text x="1754.9" y="284.54" font-size="25.6" text-anchor="start" textLength="27.6" lengthAdjust="spacingAndGlyphs">12</text>
<text x="1754.9" y="225.02" font-size="25.6" text-anchor="start" textLength="27.6" lengthAdjust="spacingAndGlyphs">14</text>
<text x="1754.9" y="165.5" font-size="25.6" text-anchor="start" textLength="27.6" lengthAdjust="spacingAndGlyphs">16</text>
<text transform="translate(1834.6,1102) rotate(-90)" font-size="25.6" textLength="700" lengthAdjust="spacingAndGlyphs">Anomalía de θe de saturación media 1000–700 hPa [°C]</text>
</svg>
</body></html>
